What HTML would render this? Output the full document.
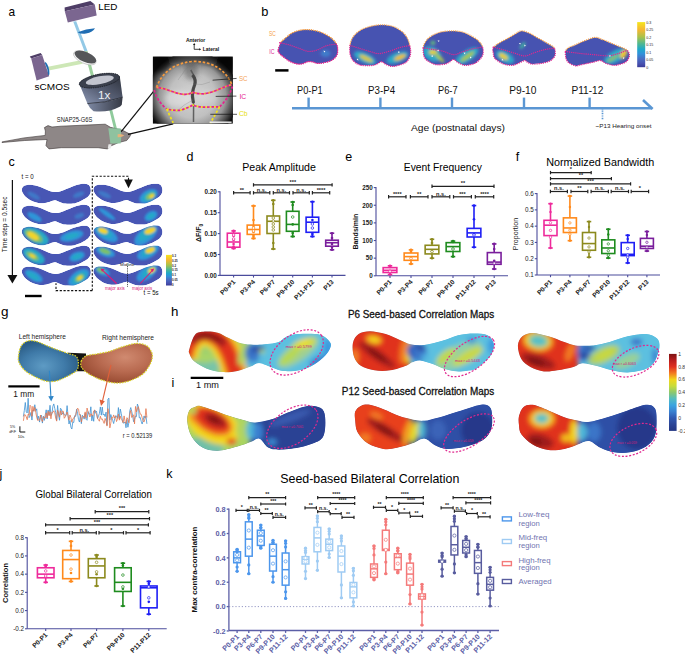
<!DOCTYPE html>
<html><head><meta charset="utf-8"><style>
html,body{margin:0;padding:0;background:#fff;width:685px;height:658px;overflow:hidden;}
svg{display:block;}
</style></head><body>
<svg width="685" height="658" viewBox="0 0 685 658">
<rect width="685" height="658" fill="#fff"/>
<defs><filter id="blur2" x="-20%" y="-20%" width="140%" height="140%"><feGaussianBlur stdDeviation="1.6"/></filter><filter id="blur15" x="-20%" y="-20%" width="140%" height="140%"><feGaussianBlur stdDeviation="1.3"/></filter><filter id="blur3" x="-20%" y="-20%" width="140%" height="140%"><feGaussianBlur stdDeviation="2.6"/></filter></defs>
<text x="8.60" y="15.90" font-size="13" fill="#000" text-anchor="start" font-weight="normal" font-family='"Liberation Sans", sans-serif' textLength="6.60" lengthAdjust="spacingAndGlyphs">a</text>
<polygon points="73.2,21.5 76.2,21.2 87.5,51 84.5,51.5" fill="#93c9e6"/>
<polygon points="84.5,51.5 87.5,51 94,76 91,76.5" fill="#9dd19e"/>
<polygon points="48,66.8 82,60 82.6,63.8 48.6,70.4" fill="#cde7b6"/>
<polygon points="108.8,108 111.6,107.6 117.6,131.5 114.8,132" fill="#8fcb9c"/>
<path d="M77.6,32.3 Q86,28.6 95,28.3 Q93,32.2 86,33.6 Q81,34.4 77.6,32.3Z" fill="#1f6db3"/>
<polygon points="64.6,7.6 90.4,1.0 94.8,4.6 64.8,11.2" fill="#4f3e67"/>
<polygon points="64.8,11.2 94.8,4.6 96.7,15.4 67.8,22.4" fill="#7b6690"/>
<text x="98.20" y="10.10" font-size="9.6" fill="#000" text-anchor="start" font-weight="normal" font-family='"Liberation Sans", sans-serif' textLength="19.20" lengthAdjust="spacingAndGlyphs">LED</text>
<polygon points="29.8,56.6 40.6,53.0 42.2,55.0 31.2,58.6" fill="#4f3e67"/>
<polygon points="31.2,58.6 42.2,55.0 49.2,76.2 36.6,80.4" fill="#7b6690"/>
<path d="M45.6,62 Q49.6,66 49.4,74.6 L48.2,75.2 Q47.6,68 44.8,63Z" fill="#1f6db3"/>
<text x="34.60" y="89.70" font-size="9.6" fill="#000" text-anchor="start" font-weight="normal" font-family='"Liberation Sans", sans-serif' textLength="35.00" lengthAdjust="spacingAndGlyphs">sCMOS</text>
<ellipse cx="84.8" cy="57.8" rx="12.2" ry="5.6" transform="rotate(24 84.8 57.8)" fill="#f4f4f4" stroke="#999" stroke-width="0.4"/>
<ellipse cx="85.4" cy="57.0" rx="11.6" ry="5.0" transform="rotate(24 85.4 57.0)" fill="#555659"/>
<defs><linearGradient id="objg" x1="0" x2="1" y1="1" y2="0"><stop offset="0" stop-color="#8f9bb8"/><stop offset="0.45" stop-color="#5a6278"/><stop offset="1" stop-color="#2e323c"/></linearGradient><linearGradient id="objg2" x1="0" x2="1" y1="0" y2="0"><stop offset="0" stop-color="#7d88a3"/><stop offset="1" stop-color="#353944"/></linearGradient></defs>
<path d="M79,83 L87.4,103.6 Q105,103.2 122.6,97.2 L119.8,76.4 Z" fill="url(#objg)"/>
<path d="M87.4,103.6 Q89.5,108.6 93.6,111.2 Q108,113 120.2,106.4 L121.8,104.8 L122.6,97.2 Q105,103.2 87.4,103.6Z" fill="url(#objg2)"/>
<path d="M87.4,103.6 Q105,103.2 122.6,97.2" fill="none" stroke="#262a33" stroke-width="0.8"/>
<ellipse cx="99.4" cy="80.6" rx="20.6" ry="6.6" transform="rotate(-11 99.4 80.6)" fill="#3b404d"/>
<ellipse cx="99.8" cy="80.2" rx="14.2" ry="3.9" transform="rotate(-11 99.8 80.2)" fill="#c3c5cf"/>
<ellipse cx="99.4" cy="80.6" rx="20.4" ry="6.4" transform="rotate(-11 99.4 80.6)" fill="none" stroke="#15181e" stroke-width="0.7" stroke-dasharray="1.3,0.9"/>
<text x="97.90" y="99.30" font-size="11.0" fill="#eef0f4" text-anchor="start" font-weight="normal" font-family='"Liberation Sans", sans-serif' textLength="12.40" lengthAdjust="spacingAndGlyphs">1x</text>
<text x="56.80" y="121.50" font-size="6.4" fill="#222" text-anchor="start" font-weight="normal" font-family='"Liberation Sans", sans-serif' textLength="35.50" lengthAdjust="spacingAndGlyphs">SNAP25-G6S</text>
<path d="M2,141.9 Q24,137.2 45.2,135.4 L45.4,131 L44.4,127.6 L48,125.6 L52,127 L61,126.2 L92,124.8 L105.2,124.2 L110.4,127.3 L122.6,130.3 L130.8,134.6 L129.5,137 L126.7,140.5 L118.5,142.6 L111.4,145.7 L107.3,148.9 L98.1,147.7 L61.3,147.7 L49,148.9 L46,145.7 L47,139.5 Q25,140 2,142.5 Z" fill="#8e8787" stroke="#3a3434" stroke-width="0.6"/>
<path d="M108.3,128.3 L120.6,128.3 L121.4,136 L120.6,143.6 L110.4,143.6Z" fill="#8fc9a2" opacity="0.9"/>
<path d="M108.5,144.2 L111.6,144.2 L110.6,148.4 L107.8,148.6Z" fill="#e8e8e8"/>
<path d="M117.6,134.2 Q121.6,133.2 124.4,135.6 Q121.4,137.6 117.6,137.2Z" fill="#e7b27a"/>
<line x1="121.20" y1="131.60" x2="154.20" y2="90.60" stroke="#111" stroke-width="1.2"/>
<line x1="128.00" y1="134.40" x2="173.20" y2="123.80" stroke="#111" stroke-width="1.2"/>
<defs><radialGradient id="bphoto" cx="0.5" cy="0.5" r="0.5"><stop offset="0" stop-color="#d4d4d4"/><stop offset="0.5" stop-color="#c0c0c0"/><stop offset="0.72" stop-color="#989898"/><stop offset="0.88" stop-color="#4a4a4a"/><stop offset="1" stop-color="#0d0d0d"/></radialGradient><clipPath id="bpclip"><rect x="152.9" y="56.6" width="79.9" height="67.0"/></clipPath></defs>
<rect x="152.90" y="56.60" width="79.90" height="67.00" fill="#0d0d0d" stroke="none" stroke-width="1"/>
<g clip-path="url(#bpclip)">
<ellipse cx="192.5" cy="96" rx="46" ry="44" fill="url(#bphoto)"/>
<g filter="url(#blur3)"><ellipse cx="178" cy="99" rx="14" ry="8" fill="#fff" opacity="0.3"/><ellipse cx="207" cy="97" rx="10" ry="7" fill="#fff" opacity="0.18"/><ellipse cx="191" cy="71" rx="7" ry="9" fill="#444" opacity="0.45"/><ellipse cx="193" cy="60" rx="40" ry="5" fill="#222" opacity="0.35"/><ellipse cx="160" cy="64" rx="10" ry="8" fill="#000" opacity="0.5"/><ellipse cx="226" cy="64" rx="10" ry="8" fill="#000" opacity="0.5"/></g>
<path d="M190.8,70 C194,75 196,80 194.6,85 C192.6,90 191.8,95 193,100 L193.6,104 L193.5,122" fill="none" stroke="#555" stroke-width="1.5" opacity="0.9"/>
<path d="M192.5,75 C195,78 196,81 194.6,85 C192.6,90 191.8,95 193,100 L193.5,103" fill="none" stroke="#454545" stroke-width="3.2" opacity="0.95"/>
<path d="M193,62 Q184,70 178,80 M194,84 Q202,86 210,82 M193,100 Q184,104 176,112" fill="none" stroke="#777" stroke-width="0.6" opacity="0.45"/>
</g>
<path d="M156.4,87.6 Q165,64 193.6,61.3 Q222,62 231.6,84" stroke="#f59a3e" fill="none" stroke-width="1.7" stroke-dasharray="2.6,1.8"/>
<path d="M156.4,87.4 C166,88 177,94.6 185.2,94.4 Q189.5,94 192.8,92.4 Q197.5,93.8 203.2,93.8 C214,93 224,86 231.6,84.8" stroke="#f59a3e" fill="none" stroke-width="1.7" stroke-dasharray="2.6,1.8"/>
<path d="M156.4,87.4 C166,88 177,94.6 185.2,94.4 Q189.5,94 192.8,92.4 Q197.5,93.8 203.2,93.8 C214,93 224,86 231.6,84.8" stroke="#e5218f" fill="none" stroke-width="1.7" stroke-dasharray="2.6,1.8" stroke-dashoffset="2.2"/>
<path d="M154.2,90 Q157,101 166.6,109 M219.6,106.8 Q229,98 232.4,86.4" stroke="#e5218f" fill="none" stroke-width="1.7" stroke-dasharray="2.6,1.8"/>
<path d="M166.6,109 Q173,110.6 179.7,110.4 Q187,108.5 192.8,105 Q198,107 203.2,107.1 L219.6,106.8" stroke="#f2e21a" fill="none" stroke-width="1.7" stroke-dasharray="2.6,1.8"/>
<path d="M166.6,109 Q173,110.6 179.7,110.4 Q187,108.5 192.8,105 Q198,107 203.2,107.1 L219.6,106.8" stroke="#e5218f" fill="none" stroke-width="1.7" stroke-dasharray="2.6,1.8" stroke-dashoffset="2.2"/>
<path d="M166.6,109 L173.2,122.8 M219.6,106.8 L210.4,123" stroke="#f2e21a" fill="none" stroke-width="1.7" stroke-dasharray="2.6,1.8"/>
<line x1="209.60" y1="122.20" x2="231.60" y2="122.20" stroke="#f4f4f4" stroke-width="1.4"/>
<line x1="212.60" y1="80.20" x2="236.60" y2="78.40" stroke="#111" stroke-width="0.7"/>
<line x1="215.70" y1="96.40" x2="236.40" y2="96.10" stroke="#111" stroke-width="0.7"/>
<line x1="210.30" y1="114.30" x2="237.00" y2="114.30" stroke="#111" stroke-width="0.7"/>
<text x="239.00" y="80.60" font-size="7.6" fill="#f5a55a" text-anchor="start" font-weight="normal" font-family='"Liberation Sans", sans-serif' textLength="8.60" lengthAdjust="spacingAndGlyphs">SC</text>
<text x="239.40" y="98.60" font-size="7.6" fill="#e5218f" text-anchor="start" font-weight="normal" font-family='"Liberation Sans", sans-serif' textLength="6.80" lengthAdjust="spacingAndGlyphs">IC</text>
<text x="239.00" y="116.20" font-size="7.6" fill="#e6de12" text-anchor="start" font-weight="normal" font-family='"Liberation Sans", sans-serif' textLength="8.60" lengthAdjust="spacingAndGlyphs">Cb</text>
<text x="185.90" y="41.60" font-size="5.8" fill="#111" text-anchor="start" font-weight="bold" font-family='"Liberation Sans", sans-serif' textLength="19.40" lengthAdjust="spacingAndGlyphs">Anterior</text>
<text x="202.70" y="50.80" font-size="5.8" fill="#111" text-anchor="start" font-weight="bold" font-family='"Liberation Sans", sans-serif' textLength="16.40" lengthAdjust="spacingAndGlyphs">Lateral</text>
<path d="M194.2,49.3 L194.2,44.6 M199.6,49.3 L194.2,49.3" stroke="#111" stroke-width="0.8" fill="none"/>
<path d="M193.0,45.0 L194.2,42.9 L195.4,45.0Z M199.2,48.2 L201.2,49.3 L199.2,50.4Z" fill="#111"/>
<text x="261.30" y="15.70" font-size="12.8" fill="#000" text-anchor="start" font-weight="normal" font-family='"Liberation Sans", sans-serif'>b</text>
<text x="268.90" y="35.60" font-size="6.4" fill="#f5a04a" text-anchor="start" font-weight="normal" font-family='"Liberation Sans", sans-serif' textLength="6.80" lengthAdjust="spacingAndGlyphs">SC</text>
<text x="269.30" y="53.60" font-size="6.4" fill="#e0288f" text-anchor="start" font-weight="normal" font-family='"Liberation Sans", sans-serif' textLength="5.20" lengthAdjust="spacingAndGlyphs">IC</text>
<line x1="275.20" y1="70.40" x2="288.50" y2="70.40" stroke="#000" stroke-width="2.5"/>
<defs><clipPath id="bb1"><path d="M278.40,49.50 C278.73,47.87 279.83,44.40 280.90,42.60 C281.97,40.80 282.85,40.33 284.80,38.70 C286.75,37.07 289.67,34.27 292.60,32.80 C295.53,31.33 299.13,30.35 302.40,29.90 C305.67,29.45 308.93,29.62 312.20,30.10 C315.47,30.58 318.90,31.53 322.00,32.80 C325.10,34.07 328.43,35.90 330.80,37.70 C333.17,39.50 335.07,41.63 336.20,43.60 C337.33,45.57 337.53,47.53 337.60,49.50 C337.67,51.47 337.57,53.62 336.60,55.40 C335.63,57.18 333.92,58.98 331.80,60.20 C329.68,61.42 326.35,62.20 323.90,62.70 C321.45,63.20 319.05,63.37 317.10,63.20 C315.15,63.03 313.83,61.95 312.20,61.70 C310.57,61.45 308.93,61.37 307.30,61.70 C305.67,62.03 304.20,63.37 302.40,63.70 C300.60,64.03 298.62,64.12 296.50,63.70 C294.38,63.28 291.98,62.43 289.70,61.20 C287.42,59.97 284.60,57.77 282.80,56.30 C281.00,54.83 279.63,53.53 278.90,52.40 C278.17,51.27 278.07,51.13 278.40,49.50Z"/></clipPath></defs>
<g clip-path="url(#bb1)">
<path d="M278.40,49.50 C278.73,47.87 279.83,44.40 280.90,42.60 C281.97,40.80 282.85,40.33 284.80,38.70 C286.75,37.07 289.67,34.27 292.60,32.80 C295.53,31.33 299.13,30.35 302.40,29.90 C305.67,29.45 308.93,29.62 312.20,30.10 C315.47,30.58 318.90,31.53 322.00,32.80 C325.10,34.07 328.43,35.90 330.80,37.70 C333.17,39.50 335.07,41.63 336.20,43.60 C337.33,45.57 337.53,47.53 337.60,49.50 C337.67,51.47 337.57,53.62 336.60,55.40 C335.63,57.18 333.92,58.98 331.80,60.20 C329.68,61.42 326.35,62.20 323.90,62.70 C321.45,63.20 319.05,63.37 317.10,63.20 C315.15,63.03 313.83,61.95 312.20,61.70 C310.57,61.45 308.93,61.37 307.30,61.70 C305.67,62.03 304.20,63.37 302.40,63.70 C300.60,64.03 298.62,64.12 296.50,63.70 C294.38,63.28 291.98,62.43 289.70,61.20 C287.42,59.97 284.60,57.77 282.80,56.30 C281.00,54.83 279.63,53.53 278.90,52.40 C278.17,51.27 278.07,51.13 278.40,49.50Z" fill="#4753b1"/>
<g filter="url(#blur2)">
<ellipse cx="326.9" cy="53" rx="5.5" ry="5" fill="#3d95d8" opacity="0.85"/>
</g></g>
<defs><clipPath id="bb1u"><polygon points="279.90,42.60 289.70,45.10 299.50,48.50 308.30,51.40 317.10,50.00 326.90,45.60 336.20,44.10 342.60,44.10 342.60,24.90 273.40,24.90 273.40,42.60"/></clipPath><clipPath id="bb1d"><polygon points="279.90,42.60 289.70,45.10 299.50,48.50 308.30,51.40 317.10,50.00 326.90,45.60 336.20,44.10 342.60,44.10 342.60,68.70 273.40,68.70 273.40,42.60"/></clipPath></defs>
<path d="M278.40,49.50 C278.73,47.87 279.83,44.40 280.90,42.60 C281.97,40.80 282.85,40.33 284.80,38.70 C286.75,37.07 289.67,34.27 292.60,32.80 C295.53,31.33 299.13,30.35 302.40,29.90 C305.67,29.45 308.93,29.62 312.20,30.10 C315.47,30.58 318.90,31.53 322.00,32.80 C325.10,34.07 328.43,35.90 330.80,37.70 C333.17,39.50 335.07,41.63 336.20,43.60 C337.33,45.57 337.53,47.53 337.60,49.50 C337.67,51.47 337.57,53.62 336.60,55.40 C335.63,57.18 333.92,58.98 331.80,60.20 C329.68,61.42 326.35,62.20 323.90,62.70 C321.45,63.20 319.05,63.37 317.10,63.20 C315.15,63.03 313.83,61.95 312.20,61.70 C310.57,61.45 308.93,61.37 307.30,61.70 C305.67,62.03 304.20,63.37 302.40,63.70 C300.60,64.03 298.62,64.12 296.50,63.70 C294.38,63.28 291.98,62.43 289.70,61.20 C287.42,59.97 284.60,57.77 282.80,56.30 C281.00,54.83 279.63,53.53 278.90,52.40 C278.17,51.27 278.07,51.13 278.40,49.50Z" fill="none" stroke="#f5a04a" stroke-width="1.35" stroke-linecap="round" stroke-dasharray="0.1,2.0" clip-path="url(#bb1u)"/>
<path d="M278.40,49.50 C278.73,47.87 279.83,44.40 280.90,42.60 C281.97,40.80 282.85,40.33 284.80,38.70 C286.75,37.07 289.67,34.27 292.60,32.80 C295.53,31.33 299.13,30.35 302.40,29.90 C305.67,29.45 308.93,29.62 312.20,30.10 C315.47,30.58 318.90,31.53 322.00,32.80 C325.10,34.07 328.43,35.90 330.80,37.70 C333.17,39.50 335.07,41.63 336.20,43.60 C337.33,45.57 337.53,47.53 337.60,49.50 C337.67,51.47 337.57,53.62 336.60,55.40 C335.63,57.18 333.92,58.98 331.80,60.20 C329.68,61.42 326.35,62.20 323.90,62.70 C321.45,63.20 319.05,63.37 317.10,63.20 C315.15,63.03 313.83,61.95 312.20,61.70 C310.57,61.45 308.93,61.37 307.30,61.70 C305.67,62.03 304.20,63.37 302.40,63.70 C300.60,64.03 298.62,64.12 296.50,63.70 C294.38,63.28 291.98,62.43 289.70,61.20 C287.42,59.97 284.60,57.77 282.80,56.30 C281.00,54.83 279.63,53.53 278.90,52.40 C278.17,51.27 278.07,51.13 278.40,49.50Z" fill="none" stroke="#e0288f" stroke-width="1.35" stroke-linecap="round" stroke-dasharray="0.1,2.0" clip-path="url(#bb1d)"/>
<path d="M279.90,42.60 C281.53,43.02 286.43,44.12 289.70,45.10 C292.97,46.08 296.40,47.45 299.50,48.50 C302.60,49.55 305.37,51.15 308.30,51.40 C311.23,51.65 314.00,50.97 317.10,50.00 C320.20,49.03 323.72,46.58 326.90,45.60 C330.08,44.62 334.65,44.35 336.20,44.10" fill="none" stroke="#e0288f" stroke-width="1.3" stroke-linecap="round" stroke-dasharray="0.1,2.0"/>
<path d="M325,50 l1.88,0.68 l-1.20,1.20Z" fill="#fff"/>
<defs><clipPath id="bb1"><path d="M278.40,49.50 C278.73,47.87 279.83,44.40 280.90,42.60 C281.97,40.80 282.85,40.33 284.80,38.70 C286.75,37.07 289.67,34.27 292.60,32.80 C295.53,31.33 299.13,30.35 302.40,29.90 C305.67,29.45 308.93,29.62 312.20,30.10 C315.47,30.58 318.90,31.53 322.00,32.80 C325.10,34.07 328.43,35.90 330.80,37.70 C333.17,39.50 335.07,41.63 336.20,43.60 C337.33,45.57 337.53,47.53 337.60,49.50 C337.67,51.47 337.57,53.62 336.60,55.40 C335.63,57.18 333.92,58.98 331.80,60.20 C329.68,61.42 326.35,62.20 323.90,62.70 C321.45,63.20 319.05,63.37 317.10,63.20 C315.15,63.03 313.83,61.95 312.20,61.70 C310.57,61.45 308.93,61.37 307.30,61.70 C305.67,62.03 304.20,63.37 302.40,63.70 C300.60,64.03 298.62,64.12 296.50,63.70 C294.38,63.28 291.98,62.43 289.70,61.20 C287.42,59.97 284.60,57.77 282.80,56.30 C281.00,54.83 279.63,53.53 278.90,52.40 C278.17,51.27 278.07,51.13 278.40,49.50Z"/></clipPath></defs>
<g clip-path="url(#bb1)">
<path d="M278.40,49.50 C278.73,47.87 279.83,44.40 280.90,42.60 C281.97,40.80 282.85,40.33 284.80,38.70 C286.75,37.07 289.67,34.27 292.60,32.80 C295.53,31.33 299.13,30.35 302.40,29.90 C305.67,29.45 308.93,29.62 312.20,30.10 C315.47,30.58 318.90,31.53 322.00,32.80 C325.10,34.07 328.43,35.90 330.80,37.70 C333.17,39.50 335.07,41.63 336.20,43.60 C337.33,45.57 337.53,47.53 337.60,49.50 C337.67,51.47 337.57,53.62 336.60,55.40 C335.63,57.18 333.92,58.98 331.80,60.20 C329.68,61.42 326.35,62.20 323.90,62.70 C321.45,63.20 319.05,63.37 317.10,63.20 C315.15,63.03 313.83,61.95 312.20,61.70 C310.57,61.45 308.93,61.37 307.30,61.70 C305.67,62.03 304.20,63.37 302.40,63.70 C300.60,64.03 298.62,64.12 296.50,63.70 C294.38,63.28 291.98,62.43 289.70,61.20 C287.42,59.97 284.60,57.77 282.80,56.30 C281.00,54.83 279.63,53.53 278.90,52.40 C278.17,51.27 278.07,51.13 278.40,49.50Z" fill="#4753b1"/>
<g filter="url(#blur2)">
<ellipse cx="325.5" cy="53.5" rx="5" ry="3.5" fill="#3d8fd6" opacity="0.7"/>
</g></g>
<defs><clipPath id="bb1u"><polygon points="279.90,42.60 289.70,45.10 299.50,48.50 308.30,51.40 317.10,50.00 326.90,45.60 336.20,44.10 342.60,44.10 342.60,24.90 273.40,24.90 273.40,42.60"/></clipPath><clipPath id="bb1d"><polygon points="279.90,42.60 289.70,45.10 299.50,48.50 308.30,51.40 317.10,50.00 326.90,45.60 336.20,44.10 342.60,44.10 342.60,68.70 273.40,68.70 273.40,42.60"/></clipPath></defs>
<path d="M278.40,49.50 C278.73,47.87 279.83,44.40 280.90,42.60 C281.97,40.80 282.85,40.33 284.80,38.70 C286.75,37.07 289.67,34.27 292.60,32.80 C295.53,31.33 299.13,30.35 302.40,29.90 C305.67,29.45 308.93,29.62 312.20,30.10 C315.47,30.58 318.90,31.53 322.00,32.80 C325.10,34.07 328.43,35.90 330.80,37.70 C333.17,39.50 335.07,41.63 336.20,43.60 C337.33,45.57 337.53,47.53 337.60,49.50 C337.67,51.47 337.57,53.62 336.60,55.40 C335.63,57.18 333.92,58.98 331.80,60.20 C329.68,61.42 326.35,62.20 323.90,62.70 C321.45,63.20 319.05,63.37 317.10,63.20 C315.15,63.03 313.83,61.95 312.20,61.70 C310.57,61.45 308.93,61.37 307.30,61.70 C305.67,62.03 304.20,63.37 302.40,63.70 C300.60,64.03 298.62,64.12 296.50,63.70 C294.38,63.28 291.98,62.43 289.70,61.20 C287.42,59.97 284.60,57.77 282.80,56.30 C281.00,54.83 279.63,53.53 278.90,52.40 C278.17,51.27 278.07,51.13 278.40,49.50Z" fill="none" stroke="#f5a04a" stroke-width="1.35" stroke-linecap="round" stroke-dasharray="0.1,2.0" clip-path="url(#bb1u)"/>
<path d="M278.40,49.50 C278.73,47.87 279.83,44.40 280.90,42.60 C281.97,40.80 282.85,40.33 284.80,38.70 C286.75,37.07 289.67,34.27 292.60,32.80 C295.53,31.33 299.13,30.35 302.40,29.90 C305.67,29.45 308.93,29.62 312.20,30.10 C315.47,30.58 318.90,31.53 322.00,32.80 C325.10,34.07 328.43,35.90 330.80,37.70 C333.17,39.50 335.07,41.63 336.20,43.60 C337.33,45.57 337.53,47.53 337.60,49.50 C337.67,51.47 337.57,53.62 336.60,55.40 C335.63,57.18 333.92,58.98 331.80,60.20 C329.68,61.42 326.35,62.20 323.90,62.70 C321.45,63.20 319.05,63.37 317.10,63.20 C315.15,63.03 313.83,61.95 312.20,61.70 C310.57,61.45 308.93,61.37 307.30,61.70 C305.67,62.03 304.20,63.37 302.40,63.70 C300.60,64.03 298.62,64.12 296.50,63.70 C294.38,63.28 291.98,62.43 289.70,61.20 C287.42,59.97 284.60,57.77 282.80,56.30 C281.00,54.83 279.63,53.53 278.90,52.40 C278.17,51.27 278.07,51.13 278.40,49.50Z" fill="none" stroke="#e0288f" stroke-width="1.35" stroke-linecap="round" stroke-dasharray="0.1,2.0" clip-path="url(#bb1d)"/>
<path d="M279.90,42.60 C281.53,43.02 286.43,44.12 289.70,45.10 C292.97,46.08 296.40,47.45 299.50,48.50 C302.60,49.55 305.37,51.15 308.30,51.40 C311.23,51.65 314.00,50.97 317.10,50.00 C320.20,49.03 323.72,46.58 326.90,45.60 C330.08,44.62 334.65,44.35 336.20,44.10" fill="none" stroke="#e0288f" stroke-width="1.3" stroke-linecap="round" stroke-dasharray="0.1,2.0"/>
<path d="M323.5,50.5 l1.88,0.68 l-1.20,1.20Z" fill="#fff"/>
<defs><clipPath id="bb2"><path d="M350.00,45.40 C350.47,42.45 351.33,39.48 353.00,37.00 C354.67,34.52 357.17,32.25 360.00,30.50 C362.83,28.75 366.42,27.45 370.00,26.50 C373.58,25.55 377.67,24.80 381.50,24.80 C385.33,24.80 389.50,25.30 393.00,26.50 C396.50,27.70 400.08,30.00 402.50,32.00 C404.92,34.00 406.28,36.27 407.50,38.50 C408.72,40.73 409.27,43.08 409.80,45.40 C410.33,47.72 410.83,50.22 410.70,52.40 C410.57,54.58 410.03,56.70 409.00,58.50 C407.97,60.30 407.13,61.88 404.50,63.20 C401.87,64.52 396.28,66.18 393.20,66.40 C390.12,66.62 387.95,65.28 386.00,64.50 C384.05,63.72 383.17,61.70 381.50,61.70 C379.83,61.70 377.95,63.85 376.00,64.50 C374.05,65.15 372.47,65.52 369.80,65.60 C367.13,65.68 362.72,65.77 360.00,65.00 C357.28,64.23 355.13,62.72 353.50,61.00 C351.87,59.28 350.78,57.30 350.20,54.70 C349.62,52.10 349.53,48.35 350.00,45.40Z"/></clipPath></defs>
<g clip-path="url(#bb2)">
<path d="M350.00,45.40 C350.47,42.45 351.33,39.48 353.00,37.00 C354.67,34.52 357.17,32.25 360.00,30.50 C362.83,28.75 366.42,27.45 370.00,26.50 C373.58,25.55 377.67,24.80 381.50,24.80 C385.33,24.80 389.50,25.30 393.00,26.50 C396.50,27.70 400.08,30.00 402.50,32.00 C404.92,34.00 406.28,36.27 407.50,38.50 C408.72,40.73 409.27,43.08 409.80,45.40 C410.33,47.72 410.83,50.22 410.70,52.40 C410.57,54.58 410.03,56.70 409.00,58.50 C407.97,60.30 407.13,61.88 404.50,63.20 C401.87,64.52 396.28,66.18 393.20,66.40 C390.12,66.62 387.95,65.28 386.00,64.50 C384.05,63.72 383.17,61.70 381.50,61.70 C379.83,61.70 377.95,63.85 376.00,64.50 C374.05,65.15 372.47,65.52 369.80,65.60 C367.13,65.68 362.72,65.77 360.00,65.00 C357.28,64.23 355.13,62.72 353.50,61.00 C351.87,59.28 350.78,57.30 350.20,54.70 C349.62,52.10 349.53,48.35 350.00,45.40Z" fill="#4753b1"/>
<g filter="url(#blur2)">
<ellipse cx="365" cy="58" rx="12" ry="5" transform="rotate(25 365 58)" fill="#2aa8c8"/>
<ellipse cx="366" cy="58.4" rx="7.5" ry="2.2" transform="rotate(25 366 58.4)" fill="#d8c83a"/>
<ellipse cx="397.5" cy="57.5" rx="11.5" ry="5" transform="rotate(-22 397.5 57.5)" fill="#2aa8c8"/>
<ellipse cx="400" cy="57.4" rx="6.5" ry="2.2" transform="rotate(-22 400 57.4)" fill="#f0c02a"/>
</g></g>
<defs><clipPath id="bb2u"><polygon points="350.00,45.40 360.00,48.50 370.00,51.50 379.20,53.60 390.00,51.00 400.00,47.50 409.80,45.40 415.70,45.40 415.70,19.80 345.00,19.80 345.00,45.40"/></clipPath><clipPath id="bb2d"><polygon points="350.00,45.40 360.00,48.50 370.00,51.50 379.20,53.60 390.00,51.00 400.00,47.50 409.80,45.40 415.70,45.40 415.70,71.40 345.00,71.40 345.00,45.40"/></clipPath></defs>
<path d="M350.00,45.40 C350.47,42.45 351.33,39.48 353.00,37.00 C354.67,34.52 357.17,32.25 360.00,30.50 C362.83,28.75 366.42,27.45 370.00,26.50 C373.58,25.55 377.67,24.80 381.50,24.80 C385.33,24.80 389.50,25.30 393.00,26.50 C396.50,27.70 400.08,30.00 402.50,32.00 C404.92,34.00 406.28,36.27 407.50,38.50 C408.72,40.73 409.27,43.08 409.80,45.40 C410.33,47.72 410.83,50.22 410.70,52.40 C410.57,54.58 410.03,56.70 409.00,58.50 C407.97,60.30 407.13,61.88 404.50,63.20 C401.87,64.52 396.28,66.18 393.20,66.40 C390.12,66.62 387.95,65.28 386.00,64.50 C384.05,63.72 383.17,61.70 381.50,61.70 C379.83,61.70 377.95,63.85 376.00,64.50 C374.05,65.15 372.47,65.52 369.80,65.60 C367.13,65.68 362.72,65.77 360.00,65.00 C357.28,64.23 355.13,62.72 353.50,61.00 C351.87,59.28 350.78,57.30 350.20,54.70 C349.62,52.10 349.53,48.35 350.00,45.40Z" fill="none" stroke="#f5a04a" stroke-width="1.35" stroke-linecap="round" stroke-dasharray="0.1,2.0" clip-path="url(#bb2u)"/>
<path d="M350.00,45.40 C350.47,42.45 351.33,39.48 353.00,37.00 C354.67,34.52 357.17,32.25 360.00,30.50 C362.83,28.75 366.42,27.45 370.00,26.50 C373.58,25.55 377.67,24.80 381.50,24.80 C385.33,24.80 389.50,25.30 393.00,26.50 C396.50,27.70 400.08,30.00 402.50,32.00 C404.92,34.00 406.28,36.27 407.50,38.50 C408.72,40.73 409.27,43.08 409.80,45.40 C410.33,47.72 410.83,50.22 410.70,52.40 C410.57,54.58 410.03,56.70 409.00,58.50 C407.97,60.30 407.13,61.88 404.50,63.20 C401.87,64.52 396.28,66.18 393.20,66.40 C390.12,66.62 387.95,65.28 386.00,64.50 C384.05,63.72 383.17,61.70 381.50,61.70 C379.83,61.70 377.95,63.85 376.00,64.50 C374.05,65.15 372.47,65.52 369.80,65.60 C367.13,65.68 362.72,65.77 360.00,65.00 C357.28,64.23 355.13,62.72 353.50,61.00 C351.87,59.28 350.78,57.30 350.20,54.70 C349.62,52.10 349.53,48.35 350.00,45.40Z" fill="none" stroke="#e0288f" stroke-width="1.35" stroke-linecap="round" stroke-dasharray="0.1,2.0" clip-path="url(#bb2d)"/>
<path d="M350.00,45.40 C351.67,45.92 356.67,47.48 360.00,48.50 C363.33,49.52 366.80,50.65 370.00,51.50 C373.20,52.35 375.87,53.68 379.20,53.60 C382.53,53.52 386.53,52.02 390.00,51.00 C393.47,49.98 396.70,48.43 400.00,47.50 C403.30,46.57 408.17,45.75 409.80,45.40" fill="none" stroke="#e0288f" stroke-width="1.3" stroke-linecap="round" stroke-dasharray="0.1,2.0"/>
<path d="M358.5,60.5 l-1.88,-0.68 l1.20,-1.20Z" fill="#fff"/>
<path d="M398,53 l0.68,-1.88 l1.20,1.20Z" fill="#fff"/>
<defs><clipPath id="bb3"><path d="M423.20,47.70 C423.48,45.03 424.63,42.95 426.00,41.00 C427.37,39.05 428.90,37.50 431.40,36.00 C433.90,34.50 437.50,32.85 441.00,32.00 C444.50,31.15 448.73,30.87 452.40,30.90 C456.07,30.93 459.50,31.15 463.00,32.20 C466.50,33.25 470.63,35.57 473.40,37.20 C476.17,38.83 478.03,40.25 479.60,42.00 C481.17,43.75 482.27,45.58 482.80,47.70 C483.33,49.82 483.33,52.72 482.80,54.70 C482.27,56.68 480.78,58.23 479.60,59.60 C478.42,60.97 477.30,62.03 475.70,62.90 C474.10,63.77 471.95,64.42 470.00,64.80 C468.05,65.18 466.00,65.58 464.00,65.20 C462.00,64.82 459.73,63.47 458.00,62.50 C456.27,61.53 455.02,59.48 453.60,59.40 C452.18,59.32 450.87,61.23 449.50,62.00 C448.13,62.77 447.32,63.53 445.40,64.00 C443.48,64.47 439.95,64.80 438.00,64.80 C436.05,64.80 435.37,64.63 433.70,64.00 C432.03,63.37 429.57,62.17 428.00,61.00 C426.43,59.83 425.10,59.22 424.30,57.00 C423.50,54.78 422.92,50.37 423.20,47.70Z"/></clipPath></defs>
<g clip-path="url(#bb3)">
<path d="M423.20,47.70 C423.48,45.03 424.63,42.95 426.00,41.00 C427.37,39.05 428.90,37.50 431.40,36.00 C433.90,34.50 437.50,32.85 441.00,32.00 C444.50,31.15 448.73,30.87 452.40,30.90 C456.07,30.93 459.50,31.15 463.00,32.20 C466.50,33.25 470.63,35.57 473.40,37.20 C476.17,38.83 478.03,40.25 479.60,42.00 C481.17,43.75 482.27,45.58 482.80,47.70 C483.33,49.82 483.33,52.72 482.80,54.70 C482.27,56.68 480.78,58.23 479.60,59.60 C478.42,60.97 477.30,62.03 475.70,62.90 C474.10,63.77 471.95,64.42 470.00,64.80 C468.05,65.18 466.00,65.58 464.00,65.20 C462.00,64.82 459.73,63.47 458.00,62.50 C456.27,61.53 455.02,59.48 453.60,59.40 C452.18,59.32 450.87,61.23 449.50,62.00 C448.13,62.77 447.32,63.53 445.40,64.00 C443.48,64.47 439.95,64.80 438.00,64.80 C436.05,64.80 435.37,64.63 433.70,64.00 C432.03,63.37 429.57,62.17 428.00,61.00 C426.43,59.83 425.10,59.22 424.30,57.00 C423.50,54.78 422.92,50.37 423.20,47.70Z" fill="#4753b1"/>
<g filter="url(#blur2)">
<ellipse cx="432" cy="54" rx="10" ry="6.5" transform="rotate(30 432 54)" fill="#2aa8c8"/>
<ellipse cx="432.9" cy="52.3" rx="4" ry="2.4" fill="#e8d02a"/>
<ellipse cx="439.5" cy="57.8" rx="6.5" ry="1.8" transform="rotate(45 439.5 57.8)" fill="#a8c84a"/>
<ellipse cx="432.9" cy="42.9" rx="2.6" ry="2.2" fill="#5fb880"/>
<ellipse cx="467" cy="56" rx="13" ry="5.5" transform="rotate(-33 467 56)" fill="#2aa8c8"/>
<ellipse cx="467.5" cy="56.5" rx="8.5" ry="2.2" transform="rotate(-35 467.5 56.5)" fill="#a8c84a"/>
</g></g>
<defs><clipPath id="bb3u"><polygon points="423.20,47.70 433.00,49.50 443.00,51.20 453.60,54.70 462.00,52.00 472.00,49.00 482.80,47.00 487.80,47.00 487.80,25.90 418.20,25.90 418.20,47.70"/></clipPath><clipPath id="bb3d"><polygon points="423.20,47.70 433.00,49.50 443.00,51.20 453.60,54.70 462.00,52.00 472.00,49.00 482.80,47.00 487.80,47.00 487.80,70.20 418.20,70.20 418.20,47.70"/></clipPath></defs>
<path d="M423.20,47.70 C423.48,45.03 424.63,42.95 426.00,41.00 C427.37,39.05 428.90,37.50 431.40,36.00 C433.90,34.50 437.50,32.85 441.00,32.00 C444.50,31.15 448.73,30.87 452.40,30.90 C456.07,30.93 459.50,31.15 463.00,32.20 C466.50,33.25 470.63,35.57 473.40,37.20 C476.17,38.83 478.03,40.25 479.60,42.00 C481.17,43.75 482.27,45.58 482.80,47.70 C483.33,49.82 483.33,52.72 482.80,54.70 C482.27,56.68 480.78,58.23 479.60,59.60 C478.42,60.97 477.30,62.03 475.70,62.90 C474.10,63.77 471.95,64.42 470.00,64.80 C468.05,65.18 466.00,65.58 464.00,65.20 C462.00,64.82 459.73,63.47 458.00,62.50 C456.27,61.53 455.02,59.48 453.60,59.40 C452.18,59.32 450.87,61.23 449.50,62.00 C448.13,62.77 447.32,63.53 445.40,64.00 C443.48,64.47 439.95,64.80 438.00,64.80 C436.05,64.80 435.37,64.63 433.70,64.00 C432.03,63.37 429.57,62.17 428.00,61.00 C426.43,59.83 425.10,59.22 424.30,57.00 C423.50,54.78 422.92,50.37 423.20,47.70Z" fill="none" stroke="#f5a04a" stroke-width="1.35" stroke-linecap="round" stroke-dasharray="0.1,2.0" clip-path="url(#bb3u)"/>
<path d="M423.20,47.70 C423.48,45.03 424.63,42.95 426.00,41.00 C427.37,39.05 428.90,37.50 431.40,36.00 C433.90,34.50 437.50,32.85 441.00,32.00 C444.50,31.15 448.73,30.87 452.40,30.90 C456.07,30.93 459.50,31.15 463.00,32.20 C466.50,33.25 470.63,35.57 473.40,37.20 C476.17,38.83 478.03,40.25 479.60,42.00 C481.17,43.75 482.27,45.58 482.80,47.70 C483.33,49.82 483.33,52.72 482.80,54.70 C482.27,56.68 480.78,58.23 479.60,59.60 C478.42,60.97 477.30,62.03 475.70,62.90 C474.10,63.77 471.95,64.42 470.00,64.80 C468.05,65.18 466.00,65.58 464.00,65.20 C462.00,64.82 459.73,63.47 458.00,62.50 C456.27,61.53 455.02,59.48 453.60,59.40 C452.18,59.32 450.87,61.23 449.50,62.00 C448.13,62.77 447.32,63.53 445.40,64.00 C443.48,64.47 439.95,64.80 438.00,64.80 C436.05,64.80 435.37,64.63 433.70,64.00 C432.03,63.37 429.57,62.17 428.00,61.00 C426.43,59.83 425.10,59.22 424.30,57.00 C423.50,54.78 422.92,50.37 423.20,47.70Z" fill="none" stroke="#e0288f" stroke-width="1.35" stroke-linecap="round" stroke-dasharray="0.1,2.0" clip-path="url(#bb3d)"/>
<path d="M423.20,47.70 C424.83,48.00 429.70,48.92 433.00,49.50 C436.30,50.08 439.57,50.33 443.00,51.20 C446.43,52.07 450.43,54.57 453.60,54.70 C456.77,54.83 458.93,52.95 462.00,52.00 C465.07,51.05 468.53,49.83 472.00,49.00 C475.47,48.17 481.00,47.33 482.80,47.00" fill="none" stroke="#e0288f" stroke-width="1.3" stroke-linecap="round" stroke-dasharray="0.1,2.0"/>
<path d="M437,51 l1.41,-1.41 l0.58,1.59Z" fill="#fff"/>
<path d="M433,57 l-1.88,-0.68 l1.20,-1.20Z" fill="#fff"/>
<path d="M463.5,52.5 l1.99,0.17 l-0.85,1.46Z" fill="#fff"/>
<path d="M470,58.6 l0.17,-1.99 l1.46,0.85Z" fill="#fff"/>
<path d="M437.5,40.6 l1.99,-0.17 l-0.58,1.59Z" fill="#fff"/>
<defs><clipPath id="bb4"><path d="M493.30,47.70 C494.42,45.95 497.47,44.12 500.00,42.50 C502.53,40.88 506.00,39.42 508.50,38.00 C511.00,36.58 512.87,35.18 515.00,34.00 C517.13,32.82 518.97,31.07 521.30,30.90 C523.63,30.73 526.47,31.95 529.00,33.00 C531.53,34.05 533.67,35.62 536.50,37.20 C539.33,38.78 543.08,40.75 546.00,42.50 C548.92,44.25 552.47,45.67 554.00,47.70 C555.53,49.73 555.45,52.82 555.20,54.70 C554.95,56.58 553.67,57.83 552.50,59.00 C551.33,60.17 550.28,60.93 548.20,61.70 C546.12,62.47 542.73,63.22 540.00,63.60 C537.27,63.98 533.97,64.27 531.80,64.00 C529.63,63.73 528.17,62.57 527.00,62.00 C525.83,61.43 526.13,60.43 524.80,60.60 C523.47,60.77 520.95,62.23 519.00,63.00 C517.05,63.77 515.43,64.95 513.10,65.20 C510.77,65.45 507.33,65.08 505.00,64.50 C502.67,63.92 500.85,62.78 499.10,61.70 C497.35,60.62 495.47,59.45 494.50,58.00 C493.53,56.55 493.50,54.72 493.30,53.00 C493.10,51.28 492.18,49.45 493.30,47.70Z"/></clipPath></defs>
<g clip-path="url(#bb4)">
<path d="M493.30,47.70 C494.42,45.95 497.47,44.12 500.00,42.50 C502.53,40.88 506.00,39.42 508.50,38.00 C511.00,36.58 512.87,35.18 515.00,34.00 C517.13,32.82 518.97,31.07 521.30,30.90 C523.63,30.73 526.47,31.95 529.00,33.00 C531.53,34.05 533.67,35.62 536.50,37.20 C539.33,38.78 543.08,40.75 546.00,42.50 C548.92,44.25 552.47,45.67 554.00,47.70 C555.53,49.73 555.45,52.82 555.20,54.70 C554.95,56.58 553.67,57.83 552.50,59.00 C551.33,60.17 550.28,60.93 548.20,61.70 C546.12,62.47 542.73,63.22 540.00,63.60 C537.27,63.98 533.97,64.27 531.80,64.00 C529.63,63.73 528.17,62.57 527.00,62.00 C525.83,61.43 526.13,60.43 524.80,60.60 C523.47,60.77 520.95,62.23 519.00,63.00 C517.05,63.77 515.43,64.95 513.10,65.20 C510.77,65.45 507.33,65.08 505.00,64.50 C502.67,63.92 500.85,62.78 499.10,61.70 C497.35,60.62 495.47,59.45 494.50,58.00 C493.53,56.55 493.50,54.72 493.30,53.00 C493.10,51.28 492.18,49.45 493.30,47.70Z" fill="#4753b1"/>
<g filter="url(#blur2)">
<ellipse cx="505" cy="57" rx="10" ry="5.2" transform="rotate(30 505 57)" fill="#2aa8c8"/>
<ellipse cx="503.5" cy="56.5" rx="5" ry="2.4" transform="rotate(30 503.5 56.5)" fill="#e8d02a"/>
<ellipse cx="522.6" cy="45.6" rx="4.2" ry="1.7" transform="rotate(-50 522.6 45.6)" fill="#40b0a0"/>
</g></g>
<defs><clipPath id="bb4u"><polygon points="493.30,47.00 504.00,50.00 514.00,53.00 524.80,55.90 535.00,52.50 545.00,49.50 554.50,48.20 560.20,48.20 560.20,25.90 488.30,25.90 488.30,47.00"/></clipPath><clipPath id="bb4d"><polygon points="493.30,47.00 504.00,50.00 514.00,53.00 524.80,55.90 535.00,52.50 545.00,49.50 554.50,48.20 560.20,48.20 560.20,70.20 488.30,70.20 488.30,47.00"/></clipPath></defs>
<path d="M493.30,47.70 C494.42,45.95 497.47,44.12 500.00,42.50 C502.53,40.88 506.00,39.42 508.50,38.00 C511.00,36.58 512.87,35.18 515.00,34.00 C517.13,32.82 518.97,31.07 521.30,30.90 C523.63,30.73 526.47,31.95 529.00,33.00 C531.53,34.05 533.67,35.62 536.50,37.20 C539.33,38.78 543.08,40.75 546.00,42.50 C548.92,44.25 552.47,45.67 554.00,47.70 C555.53,49.73 555.45,52.82 555.20,54.70 C554.95,56.58 553.67,57.83 552.50,59.00 C551.33,60.17 550.28,60.93 548.20,61.70 C546.12,62.47 542.73,63.22 540.00,63.60 C537.27,63.98 533.97,64.27 531.80,64.00 C529.63,63.73 528.17,62.57 527.00,62.00 C525.83,61.43 526.13,60.43 524.80,60.60 C523.47,60.77 520.95,62.23 519.00,63.00 C517.05,63.77 515.43,64.95 513.10,65.20 C510.77,65.45 507.33,65.08 505.00,64.50 C502.67,63.92 500.85,62.78 499.10,61.70 C497.35,60.62 495.47,59.45 494.50,58.00 C493.53,56.55 493.50,54.72 493.30,53.00 C493.10,51.28 492.18,49.45 493.30,47.70Z" fill="none" stroke="#f5a04a" stroke-width="1.35" stroke-linecap="round" stroke-dasharray="0.1,2.0" clip-path="url(#bb4u)"/>
<path d="M493.30,47.70 C494.42,45.95 497.47,44.12 500.00,42.50 C502.53,40.88 506.00,39.42 508.50,38.00 C511.00,36.58 512.87,35.18 515.00,34.00 C517.13,32.82 518.97,31.07 521.30,30.90 C523.63,30.73 526.47,31.95 529.00,33.00 C531.53,34.05 533.67,35.62 536.50,37.20 C539.33,38.78 543.08,40.75 546.00,42.50 C548.92,44.25 552.47,45.67 554.00,47.70 C555.53,49.73 555.45,52.82 555.20,54.70 C554.95,56.58 553.67,57.83 552.50,59.00 C551.33,60.17 550.28,60.93 548.20,61.70 C546.12,62.47 542.73,63.22 540.00,63.60 C537.27,63.98 533.97,64.27 531.80,64.00 C529.63,63.73 528.17,62.57 527.00,62.00 C525.83,61.43 526.13,60.43 524.80,60.60 C523.47,60.77 520.95,62.23 519.00,63.00 C517.05,63.77 515.43,64.95 513.10,65.20 C510.77,65.45 507.33,65.08 505.00,64.50 C502.67,63.92 500.85,62.78 499.10,61.70 C497.35,60.62 495.47,59.45 494.50,58.00 C493.53,56.55 493.50,54.72 493.30,53.00 C493.10,51.28 492.18,49.45 493.30,47.70Z" fill="none" stroke="#e0288f" stroke-width="1.35" stroke-linecap="round" stroke-dasharray="0.1,2.0" clip-path="url(#bb4d)"/>
<path d="M493.30,47.00 C495.08,47.50 500.55,49.00 504.00,50.00 C507.45,51.00 510.53,52.02 514.00,53.00 C517.47,53.98 521.30,55.98 524.80,55.90 C528.30,55.82 531.63,53.57 535.00,52.50 C538.37,51.43 541.75,50.22 545.00,49.50 C548.25,48.78 552.92,48.42 554.50,48.20" fill="none" stroke="#e0288f" stroke-width="1.3" stroke-linecap="round" stroke-dasharray="0.1,2.0"/>
<path d="M503.5,60.5 l-1.99,-0.17 l0.85,-1.46Z" fill="#fff"/>
<path d="M518.8,43.2 l1.99,-0.17 l-0.58,1.59Z" fill="#fff"/>
<path d="M524.3,44.6 l1.64,1.15 l-1.46,0.85Z" fill="#fff"/>
<defs><clipPath id="bb5"><path d="M565.40,52.00 C565.67,50.07 566.57,49.10 568.00,48.00 C569.43,46.90 571.33,46.57 574.00,45.40 C576.67,44.23 580.53,42.33 584.00,41.00 C587.47,39.67 591.63,37.60 594.80,37.40 C597.97,37.20 600.13,38.78 603.00,39.80 C605.87,40.82 609.17,42.33 612.00,43.50 C614.83,44.67 617.48,45.70 620.00,46.80 C622.52,47.90 625.53,48.77 627.10,50.10 C628.67,51.43 629.25,53.23 629.40,54.80 C629.55,56.37 628.70,58.23 628.00,59.50 C627.30,60.77 626.70,61.55 625.20,62.40 C623.70,63.25 620.90,64.12 619.00,64.60 C617.10,65.08 615.97,65.50 613.80,65.30 C611.63,65.10 608.22,64.20 606.00,63.40 C603.78,62.60 602.50,60.73 600.50,60.50 C598.50,60.27 596.20,61.52 594.00,62.00 C591.80,62.48 589.63,62.90 587.30,63.40 C584.97,63.90 581.90,64.58 580.00,65.00 C578.10,65.42 577.57,66.13 575.90,65.90 C574.23,65.67 571.58,64.65 570.00,63.60 C568.42,62.55 567.17,61.53 566.40,59.60 C565.63,57.67 565.13,53.93 565.40,52.00Z"/></clipPath></defs>
<g clip-path="url(#bb5)">
<path d="M565.40,52.00 C565.67,50.07 566.57,49.10 568.00,48.00 C569.43,46.90 571.33,46.57 574.00,45.40 C576.67,44.23 580.53,42.33 584.00,41.00 C587.47,39.67 591.63,37.60 594.80,37.40 C597.97,37.20 600.13,38.78 603.00,39.80 C605.87,40.82 609.17,42.33 612.00,43.50 C614.83,44.67 617.48,45.70 620.00,46.80 C622.52,47.90 625.53,48.77 627.10,50.10 C628.67,51.43 629.25,53.23 629.40,54.80 C629.55,56.37 628.70,58.23 628.00,59.50 C627.30,60.77 626.70,61.55 625.20,62.40 C623.70,63.25 620.90,64.12 619.00,64.60 C617.10,65.08 615.97,65.50 613.80,65.30 C611.63,65.10 608.22,64.20 606.00,63.40 C603.78,62.60 602.50,60.73 600.50,60.50 C598.50,60.27 596.20,61.52 594.00,62.00 C591.80,62.48 589.63,62.90 587.30,63.40 C584.97,63.90 581.90,64.58 580.00,65.00 C578.10,65.42 577.57,66.13 575.90,65.90 C574.23,65.67 571.58,64.65 570.00,63.60 C568.42,62.55 567.17,61.53 566.40,59.60 C565.63,57.67 565.13,53.93 565.40,52.00Z" fill="#4753b1"/>
<g filter="url(#blur2)">
<ellipse cx="616" cy="56.2" rx="13" ry="5.8" transform="rotate(-28 616 56.2)" fill="#2aa8c8"/>
<ellipse cx="623.5" cy="54" rx="4.8" ry="2.8" transform="rotate(-60 623.5 54)" fill="#f0c82a"/>
<ellipse cx="613" cy="58.2" rx="7" ry="1.7" transform="rotate(-30 613 58.2)" fill="#90c060"/>
</g></g>
<defs><clipPath id="bb5u"><polygon points="565.40,51.40 578.00,53.20 593.00,54.60 608.10,55.80 618.00,53.60 627.10,50.30 634.40,50.30 634.40,32.40 560.40,32.40 560.40,51.40"/></clipPath><clipPath id="bb5d"><polygon points="565.40,51.40 578.00,53.20 593.00,54.60 608.10,55.80 618.00,53.60 627.10,50.30 634.40,50.30 634.40,70.90 560.40,70.90 560.40,51.40"/></clipPath></defs>
<path d="M565.40,52.00 C565.67,50.07 566.57,49.10 568.00,48.00 C569.43,46.90 571.33,46.57 574.00,45.40 C576.67,44.23 580.53,42.33 584.00,41.00 C587.47,39.67 591.63,37.60 594.80,37.40 C597.97,37.20 600.13,38.78 603.00,39.80 C605.87,40.82 609.17,42.33 612.00,43.50 C614.83,44.67 617.48,45.70 620.00,46.80 C622.52,47.90 625.53,48.77 627.10,50.10 C628.67,51.43 629.25,53.23 629.40,54.80 C629.55,56.37 628.70,58.23 628.00,59.50 C627.30,60.77 626.70,61.55 625.20,62.40 C623.70,63.25 620.90,64.12 619.00,64.60 C617.10,65.08 615.97,65.50 613.80,65.30 C611.63,65.10 608.22,64.20 606.00,63.40 C603.78,62.60 602.50,60.73 600.50,60.50 C598.50,60.27 596.20,61.52 594.00,62.00 C591.80,62.48 589.63,62.90 587.30,63.40 C584.97,63.90 581.90,64.58 580.00,65.00 C578.10,65.42 577.57,66.13 575.90,65.90 C574.23,65.67 571.58,64.65 570.00,63.60 C568.42,62.55 567.17,61.53 566.40,59.60 C565.63,57.67 565.13,53.93 565.40,52.00Z" fill="none" stroke="#f5a04a" stroke-width="1.35" stroke-linecap="round" stroke-dasharray="0.1,2.0" clip-path="url(#bb5u)"/>
<path d="M565.40,52.00 C565.67,50.07 566.57,49.10 568.00,48.00 C569.43,46.90 571.33,46.57 574.00,45.40 C576.67,44.23 580.53,42.33 584.00,41.00 C587.47,39.67 591.63,37.60 594.80,37.40 C597.97,37.20 600.13,38.78 603.00,39.80 C605.87,40.82 609.17,42.33 612.00,43.50 C614.83,44.67 617.48,45.70 620.00,46.80 C622.52,47.90 625.53,48.77 627.10,50.10 C628.67,51.43 629.25,53.23 629.40,54.80 C629.55,56.37 628.70,58.23 628.00,59.50 C627.30,60.77 626.70,61.55 625.20,62.40 C623.70,63.25 620.90,64.12 619.00,64.60 C617.10,65.08 615.97,65.50 613.80,65.30 C611.63,65.10 608.22,64.20 606.00,63.40 C603.78,62.60 602.50,60.73 600.50,60.50 C598.50,60.27 596.20,61.52 594.00,62.00 C591.80,62.48 589.63,62.90 587.30,63.40 C584.97,63.90 581.90,64.58 580.00,65.00 C578.10,65.42 577.57,66.13 575.90,65.90 C574.23,65.67 571.58,64.65 570.00,63.60 C568.42,62.55 567.17,61.53 566.40,59.60 C565.63,57.67 565.13,53.93 565.40,52.00Z" fill="none" stroke="#e0288f" stroke-width="1.35" stroke-linecap="round" stroke-dasharray="0.1,2.0" clip-path="url(#bb5d)"/>
<path d="M565.40,51.40 C567.50,51.70 573.40,52.67 578.00,53.20 C582.60,53.73 587.98,54.17 593.00,54.60 C598.02,55.03 603.93,55.97 608.10,55.80 C612.27,55.63 614.83,54.52 618.00,53.60 C621.17,52.68 625.58,50.85 627.10,50.30" fill="none" stroke="#e0288f" stroke-width="1.3" stroke-linecap="round" stroke-dasharray="0.1,2.0"/>
<path d="M608.8,55.4 l1.99,0.17 l-0.85,1.46Z" fill="#fff"/>
<path d="M623.2,59.2 l-0.17,-1.99 l1.59,0.58Z" fill="#fff"/>
<defs><linearGradient id="parb" x1="0" x2="0" y1="0" y2="1"><stop offset="0" stop-color="#f4e61c"/><stop offset="0.17" stop-color="#f6b632"/><stop offset="0.33" stop-color="#a9c24a"/><stop offset="0.48" stop-color="#4fb892"/><stop offset="0.6" stop-color="#1fa9c9"/><stop offset="0.7" stop-color="#3192da"/><stop offset="0.82" stop-color="#4a6cc2"/><stop offset="0.92" stop-color="#4852b1"/><stop offset="1" stop-color="#3a3b98"/></linearGradient></defs>
<rect x="637.20" y="22.10" width="8.00" height="45.10" fill="url(#parb)" stroke="none" stroke-width="1"/>
<text x="646.20" y="23.80" font-size="3.6" fill="#222" text-anchor="start" font-weight="normal" font-family='"Liberation Sans", sans-serif'>0.3</text>
<text x="646.20" y="31.30" font-size="3.6" fill="#222" text-anchor="start" font-weight="normal" font-family='"Liberation Sans", sans-serif'>0.25</text>
<text x="646.20" y="38.80" font-size="3.6" fill="#222" text-anchor="start" font-weight="normal" font-family='"Liberation Sans", sans-serif'>0.2</text>
<text x="646.20" y="46.30" font-size="3.6" fill="#222" text-anchor="start" font-weight="normal" font-family='"Liberation Sans", sans-serif'>0.15</text>
<text x="646.20" y="53.80" font-size="3.6" fill="#222" text-anchor="start" font-weight="normal" font-family='"Liberation Sans", sans-serif'>0.1</text>
<text x="646.20" y="61.30" font-size="3.6" fill="#222" text-anchor="start" font-weight="normal" font-family='"Liberation Sans", sans-serif'>0.05</text>
<text x="646.20" y="68.80" font-size="3.6" fill="#222" text-anchor="start" font-weight="normal" font-family='"Liberation Sans", sans-serif'>0</text>
<line x1="292.00" y1="108.30" x2="651.40" y2="108.30" stroke="#5a96d3" stroke-width="2.6"/>
<line x1="643.00" y1="100.00" x2="652.60" y2="109.00" stroke="#5a96d3" stroke-width="2.6"/>
<line x1="308.60" y1="97.60" x2="308.60" y2="108.30" stroke="#5a96d3" stroke-width="2.4"/>
<line x1="380.40" y1="97.60" x2="380.40" y2="108.30" stroke="#5a96d3" stroke-width="2.4"/>
<line x1="452.00" y1="97.60" x2="452.00" y2="108.30" stroke="#5a96d3" stroke-width="2.4"/>
<line x1="524.00" y1="97.60" x2="524.00" y2="108.30" stroke="#5a96d3" stroke-width="2.4"/>
<line x1="589.60" y1="97.60" x2="589.60" y2="108.30" stroke="#5a96d3" stroke-width="2.4"/>
<line x1="602.5" y1="109.6" x2="602.5" y2="120" stroke="#5a96d3" stroke-width="1.7" stroke-dasharray="0.9,0.8"/>
<text x="297.00" y="93.80" font-size="10.2" fill="#111" text-anchor="start" font-weight="normal" font-family='"Liberation Sans", sans-serif' textLength="25.70" lengthAdjust="spacingAndGlyphs">P0-P1</text>
<text x="368.10" y="93.80" font-size="10.2" fill="#111" text-anchor="start" font-weight="normal" font-family='"Liberation Sans", sans-serif' textLength="27.00" lengthAdjust="spacingAndGlyphs">P3-P4</text>
<text x="438.00" y="93.80" font-size="10.2" fill="#111" text-anchor="start" font-weight="normal" font-family='"Liberation Sans", sans-serif' textLength="19.60" lengthAdjust="spacingAndGlyphs">P6-7</text>
<text x="509.20" y="93.80" font-size="10.2" fill="#111" text-anchor="start" font-weight="normal" font-family='"Liberation Sans", sans-serif' textLength="27.30" lengthAdjust="spacingAndGlyphs">P9-10</text>
<text x="571.40" y="93.80" font-size="10.2" fill="#111" text-anchor="start" font-weight="normal" font-family='"Liberation Sans", sans-serif' textLength="32.00" lengthAdjust="spacingAndGlyphs">P11-12</text>
<text x="411.00" y="130.80" font-size="9.4" fill="#111" text-anchor="start" font-weight="normal" font-family='"Liberation Sans", sans-serif' textLength="94.00" lengthAdjust="spacingAndGlyphs">Age (postnatal days)</text>
<text x="595.50" y="128.40" font-size="5.4" fill="#222" text-anchor="start" font-weight="normal" font-family='"Liberation Sans", sans-serif' textLength="56.00" lengthAdjust="spacingAndGlyphs">~P13 Hearing onset</text>
<text x="8.60" y="166.00" font-size="12.5" fill="#000" text-anchor="start" font-weight="normal" font-family='"Liberation Sans", sans-serif'>c</text>
<defs><clipPath id="cwL0"><path d="M21.90,189.00 C22.08,187.97 22.75,186.87 23.60,186.20 C24.45,185.53 25.50,185.20 27.00,185.00 C28.50,184.80 30.73,184.80 32.60,185.00 C34.47,185.20 36.32,185.63 38.20,186.20 C40.08,186.77 42.02,187.60 43.90,188.40 C45.78,189.20 47.63,190.38 49.50,191.00 C51.37,191.62 53.23,192.07 55.10,192.10 C56.97,192.13 58.83,191.72 60.70,191.20 C62.57,190.68 64.23,189.83 66.30,189.00 C68.37,188.17 70.85,186.98 73.10,186.20 C75.35,185.42 77.75,184.68 79.80,184.30 C81.85,183.92 83.90,183.78 85.40,183.90 C86.90,184.02 87.93,184.25 88.80,185.00 C89.67,185.75 90.30,187.17 90.60,188.40 C90.90,189.63 90.90,191.18 90.60,192.40 C90.30,193.62 89.67,194.68 88.80,195.70 C87.93,196.72 87.08,197.47 85.40,198.50 C83.72,199.53 80.75,201.05 78.70,201.90 C76.65,202.75 75.35,203.32 73.10,203.60 C70.85,203.88 67.45,203.88 65.20,203.60 C62.95,203.32 61.28,202.47 59.60,201.90 C57.92,201.33 56.60,200.28 55.10,200.20 C53.60,200.12 52.28,200.93 50.60,201.40 C48.92,201.87 47.07,202.73 45.00,203.00 C42.93,203.27 40.45,203.37 38.20,203.00 C35.95,202.63 33.55,201.82 31.50,200.80 C29.45,199.78 27.40,198.30 25.90,196.90 C24.40,195.50 23.17,193.72 22.50,192.40 C21.83,191.08 21.72,190.03 21.90,189.00Z"/></clipPath></defs>
<g clip-path="url(#cwL0)"><path d="M21.90,189.00 C22.08,187.97 22.75,186.87 23.60,186.20 C24.45,185.53 25.50,185.20 27.00,185.00 C28.50,184.80 30.73,184.80 32.60,185.00 C34.47,185.20 36.32,185.63 38.20,186.20 C40.08,186.77 42.02,187.60 43.90,188.40 C45.78,189.20 47.63,190.38 49.50,191.00 C51.37,191.62 53.23,192.07 55.10,192.10 C56.97,192.13 58.83,191.72 60.70,191.20 C62.57,190.68 64.23,189.83 66.30,189.00 C68.37,188.17 70.85,186.98 73.10,186.20 C75.35,185.42 77.75,184.68 79.80,184.30 C81.85,183.92 83.90,183.78 85.40,183.90 C86.90,184.02 87.93,184.25 88.80,185.00 C89.67,185.75 90.30,187.17 90.60,188.40 C90.90,189.63 90.90,191.18 90.60,192.40 C90.30,193.62 89.67,194.68 88.80,195.70 C87.93,196.72 87.08,197.47 85.40,198.50 C83.72,199.53 80.75,201.05 78.70,201.90 C76.65,202.75 75.35,203.32 73.10,203.60 C70.85,203.88 67.45,203.88 65.20,203.60 C62.95,203.32 61.28,202.47 59.60,201.90 C57.92,201.33 56.60,200.28 55.10,200.20 C53.60,200.12 52.28,200.93 50.60,201.40 C48.92,201.87 47.07,202.73 45.00,203.00 C42.93,203.27 40.45,203.37 38.20,203.00 C35.95,202.63 33.55,201.82 31.50,200.80 C29.45,199.78 27.40,198.30 25.90,196.90 C24.40,195.50 23.17,193.72 22.50,192.40 C21.83,191.08 21.72,190.03 21.90,189.00Z" fill="#4856b4"/><g filter="url(#blur15)">
<ellipse cx="33.70" cy="195.70" rx="7" ry="2.5" transform="rotate(30 33.70 195.70)" fill="#3f78c8"/>
<ellipse cx="78.70" cy="194.60" rx="6" ry="2.5" transform="rotate(-20 78.70 194.60)" fill="#3f78c8"/>
</g></g>
<defs><clipPath id="cwR0"><path d="M93.50,188.80 C93.68,187.77 94.35,186.67 95.20,186.00 C96.05,185.33 97.10,185.00 98.60,184.80 C100.10,184.60 102.33,184.60 104.20,184.80 C106.07,185.00 107.92,185.43 109.80,186.00 C111.68,186.57 113.62,187.40 115.50,188.20 C117.38,189.00 119.23,190.18 121.10,190.80 C122.97,191.42 124.83,191.87 126.70,191.90 C128.57,191.93 130.43,191.52 132.30,191.00 C134.17,190.48 135.83,189.63 137.90,188.80 C139.97,187.97 142.45,186.78 144.70,186.00 C146.95,185.22 149.35,184.48 151.40,184.10 C153.45,183.72 155.50,183.58 157.00,183.70 C158.50,183.82 159.53,184.05 160.40,184.80 C161.27,185.55 161.90,186.97 162.20,188.20 C162.50,189.43 162.50,190.98 162.20,192.20 C161.90,193.42 161.27,194.48 160.40,195.50 C159.53,196.52 158.68,197.27 157.00,198.30 C155.32,199.33 152.35,200.85 150.30,201.70 C148.25,202.55 146.95,203.12 144.70,203.40 C142.45,203.68 139.05,203.68 136.80,203.40 C134.55,203.12 132.88,202.27 131.20,201.70 C129.52,201.13 128.20,200.08 126.70,200.00 C125.20,199.92 123.88,200.73 122.20,201.20 C120.52,201.67 118.67,202.53 116.60,202.80 C114.53,203.07 112.05,203.17 109.80,202.80 C107.55,202.43 105.15,201.62 103.10,200.60 C101.05,199.58 99.00,198.10 97.50,196.70 C96.00,195.30 94.77,193.52 94.10,192.20 C93.43,190.88 93.32,189.83 93.50,188.80Z"/></clipPath></defs>
<g clip-path="url(#cwR0)"><path d="M93.50,188.80 C93.68,187.77 94.35,186.67 95.20,186.00 C96.05,185.33 97.10,185.00 98.60,184.80 C100.10,184.60 102.33,184.60 104.20,184.80 C106.07,185.00 107.92,185.43 109.80,186.00 C111.68,186.57 113.62,187.40 115.50,188.20 C117.38,189.00 119.23,190.18 121.10,190.80 C122.97,191.42 124.83,191.87 126.70,191.90 C128.57,191.93 130.43,191.52 132.30,191.00 C134.17,190.48 135.83,189.63 137.90,188.80 C139.97,187.97 142.45,186.78 144.70,186.00 C146.95,185.22 149.35,184.48 151.40,184.10 C153.45,183.72 155.50,183.58 157.00,183.70 C158.50,183.82 159.53,184.05 160.40,184.80 C161.27,185.55 161.90,186.97 162.20,188.20 C162.50,189.43 162.50,190.98 162.20,192.20 C161.90,193.42 161.27,194.48 160.40,195.50 C159.53,196.52 158.68,197.27 157.00,198.30 C155.32,199.33 152.35,200.85 150.30,201.70 C148.25,202.55 146.95,203.12 144.70,203.40 C142.45,203.68 139.05,203.68 136.80,203.40 C134.55,203.12 132.88,202.27 131.20,201.70 C129.52,201.13 128.20,200.08 126.70,200.00 C125.20,199.92 123.88,200.73 122.20,201.20 C120.52,201.67 118.67,202.53 116.60,202.80 C114.53,203.07 112.05,203.17 109.80,202.80 C107.55,202.43 105.15,201.62 103.10,200.60 C101.05,199.58 99.00,198.10 97.50,196.70 C96.00,195.30 94.77,193.52 94.10,192.20 C93.43,190.88 93.32,189.83 93.50,188.80Z" fill="#4856b4"/><g filter="url(#blur15)">
<ellipse cx="104.60" cy="194.60" rx="7" ry="2.5" transform="rotate(25 104.60 194.60)" fill="#3f78c8"/>
<ellipse cx="148.50" cy="196.20" rx="10" ry="6" transform="rotate(-30 148.50 196.20)" fill="#2f95d8"/>
<ellipse cx="148.90" cy="196.20" rx="7.5" ry="4" transform="rotate(-30 148.90 196.20)" fill="#25a9c6"/>
<ellipse cx="150.40" cy="196.20" rx="5" ry="2.8" transform="rotate(-30 150.40 196.20)" fill="#7cc06a"/>
<ellipse cx="151.70" cy="196.20" rx="2.8" ry="1.8" transform="rotate(-30 151.70 196.20)" fill="#f2d42a"/>
</g></g>
<defs><clipPath id="cwL1"><path d="M21.90,210.00 C22.08,208.97 22.75,207.87 23.60,207.20 C24.45,206.53 25.50,206.20 27.00,206.00 C28.50,205.80 30.73,205.80 32.60,206.00 C34.47,206.20 36.32,206.63 38.20,207.20 C40.08,207.77 42.02,208.60 43.90,209.40 C45.78,210.20 47.63,211.38 49.50,212.00 C51.37,212.62 53.23,213.07 55.10,213.10 C56.97,213.13 58.83,212.72 60.70,212.20 C62.57,211.68 64.23,210.83 66.30,210.00 C68.37,209.17 70.85,207.98 73.10,207.20 C75.35,206.42 77.75,205.68 79.80,205.30 C81.85,204.92 83.90,204.78 85.40,204.90 C86.90,205.02 87.93,205.25 88.80,206.00 C89.67,206.75 90.30,208.17 90.60,209.40 C90.90,210.63 90.90,212.18 90.60,213.40 C90.30,214.62 89.67,215.68 88.80,216.70 C87.93,217.72 87.08,218.47 85.40,219.50 C83.72,220.53 80.75,222.05 78.70,222.90 C76.65,223.75 75.35,224.32 73.10,224.60 C70.85,224.88 67.45,224.88 65.20,224.60 C62.95,224.32 61.28,223.47 59.60,222.90 C57.92,222.33 56.60,221.28 55.10,221.20 C53.60,221.12 52.28,221.93 50.60,222.40 C48.92,222.87 47.07,223.73 45.00,224.00 C42.93,224.27 40.45,224.37 38.20,224.00 C35.95,223.63 33.55,222.82 31.50,221.80 C29.45,220.78 27.40,219.30 25.90,217.90 C24.40,216.50 23.17,214.72 22.50,213.40 C21.83,212.08 21.72,211.03 21.90,210.00Z"/></clipPath></defs>
<g clip-path="url(#cwL1)"><path d="M21.90,210.00 C22.08,208.97 22.75,207.87 23.60,207.20 C24.45,206.53 25.50,206.20 27.00,206.00 C28.50,205.80 30.73,205.80 32.60,206.00 C34.47,206.20 36.32,206.63 38.20,207.20 C40.08,207.77 42.02,208.60 43.90,209.40 C45.78,210.20 47.63,211.38 49.50,212.00 C51.37,212.62 53.23,213.07 55.10,213.10 C56.97,213.13 58.83,212.72 60.70,212.20 C62.57,211.68 64.23,210.83 66.30,210.00 C68.37,209.17 70.85,207.98 73.10,207.20 C75.35,206.42 77.75,205.68 79.80,205.30 C81.85,204.92 83.90,204.78 85.40,204.90 C86.90,205.02 87.93,205.25 88.80,206.00 C89.67,206.75 90.30,208.17 90.60,209.40 C90.90,210.63 90.90,212.18 90.60,213.40 C90.30,214.62 89.67,215.68 88.80,216.70 C87.93,217.72 87.08,218.47 85.40,219.50 C83.72,220.53 80.75,222.05 78.70,222.90 C76.65,223.75 75.35,224.32 73.10,224.60 C70.85,224.88 67.45,224.88 65.20,224.60 C62.95,224.32 61.28,223.47 59.60,222.90 C57.92,222.33 56.60,221.28 55.10,221.20 C53.60,221.12 52.28,221.93 50.60,222.40 C48.92,222.87 47.07,223.73 45.00,224.00 C42.93,224.27 40.45,224.37 38.20,224.00 C35.95,223.63 33.55,222.82 31.50,221.80 C29.45,220.78 27.40,219.30 25.90,217.90 C24.40,216.50 23.17,214.72 22.50,213.40 C21.83,212.08 21.72,211.03 21.90,210.00Z" fill="#4856b4"/><g filter="url(#blur15)">
<ellipse cx="34.50" cy="217.00" rx="8" ry="3.2" transform="rotate(30 34.50 217.00)" fill="#2f95d8"/>
<ellipse cx="79.30" cy="215.80" rx="5" ry="2.5" transform="rotate(-20 79.30 215.80)" fill="#3f78c8"/>
</g></g>
<defs><clipPath id="cwR1"><path d="M93.50,209.80 C93.68,208.77 94.35,207.67 95.20,207.00 C96.05,206.33 97.10,206.00 98.60,205.80 C100.10,205.60 102.33,205.60 104.20,205.80 C106.07,206.00 107.92,206.43 109.80,207.00 C111.68,207.57 113.62,208.40 115.50,209.20 C117.38,210.00 119.23,211.18 121.10,211.80 C122.97,212.42 124.83,212.87 126.70,212.90 C128.57,212.93 130.43,212.52 132.30,212.00 C134.17,211.48 135.83,210.63 137.90,209.80 C139.97,208.97 142.45,207.78 144.70,207.00 C146.95,206.22 149.35,205.48 151.40,205.10 C153.45,204.72 155.50,204.58 157.00,204.70 C158.50,204.82 159.53,205.05 160.40,205.80 C161.27,206.55 161.90,207.97 162.20,209.20 C162.50,210.43 162.50,211.98 162.20,213.20 C161.90,214.42 161.27,215.48 160.40,216.50 C159.53,217.52 158.68,218.27 157.00,219.30 C155.32,220.33 152.35,221.85 150.30,222.70 C148.25,223.55 146.95,224.12 144.70,224.40 C142.45,224.68 139.05,224.68 136.80,224.40 C134.55,224.12 132.88,223.27 131.20,222.70 C129.52,222.13 128.20,221.08 126.70,221.00 C125.20,220.92 123.88,221.73 122.20,222.20 C120.52,222.67 118.67,223.53 116.60,223.80 C114.53,224.07 112.05,224.17 109.80,223.80 C107.55,223.43 105.15,222.62 103.10,221.60 C101.05,220.58 99.00,219.10 97.50,217.70 C96.00,216.30 94.77,214.52 94.10,213.20 C93.43,211.88 93.32,210.83 93.50,209.80Z"/></clipPath></defs>
<g clip-path="url(#cwR1)"><path d="M93.50,209.80 C93.68,208.77 94.35,207.67 95.20,207.00 C96.05,206.33 97.10,206.00 98.60,205.80 C100.10,205.60 102.33,205.60 104.20,205.80 C106.07,206.00 107.92,206.43 109.80,207.00 C111.68,207.57 113.62,208.40 115.50,209.20 C117.38,210.00 119.23,211.18 121.10,211.80 C122.97,212.42 124.83,212.87 126.70,212.90 C128.57,212.93 130.43,212.52 132.30,212.00 C134.17,211.48 135.83,210.63 137.90,209.80 C139.97,208.97 142.45,207.78 144.70,207.00 C146.95,206.22 149.35,205.48 151.40,205.10 C153.45,204.72 155.50,204.58 157.00,204.70 C158.50,204.82 159.53,205.05 160.40,205.80 C161.27,206.55 161.90,207.97 162.20,209.20 C162.50,210.43 162.50,211.98 162.20,213.20 C161.90,214.42 161.27,215.48 160.40,216.50 C159.53,217.52 158.68,218.27 157.00,219.30 C155.32,220.33 152.35,221.85 150.30,222.70 C148.25,223.55 146.95,224.12 144.70,224.40 C142.45,224.68 139.05,224.68 136.80,224.40 C134.55,224.12 132.88,223.27 131.20,222.70 C129.52,222.13 128.20,221.08 126.70,221.00 C125.20,220.92 123.88,221.73 122.20,222.20 C120.52,222.67 118.67,223.53 116.60,223.80 C114.53,224.07 112.05,224.17 109.80,223.80 C107.55,223.43 105.15,222.62 103.10,221.60 C101.05,220.58 99.00,219.10 97.50,217.70 C96.00,216.30 94.77,214.52 94.10,213.20 C93.43,211.88 93.32,210.83 93.50,209.80Z" fill="#4856b4"/><g filter="url(#blur15)">
<ellipse cx="107.00" cy="214.00" rx="10" ry="2.4" transform="rotate(35 107.00 214.00)" fill="#2f95d8"/>
<ellipse cx="151.00" cy="216.00" rx="7" ry="4.5" transform="rotate(-30 151.00 216.00)" fill="#2f95d8"/>
<ellipse cx="151.00" cy="216.00" rx="4" ry="2.2" transform="rotate(-30 151.00 216.00)" fill="#25a9c6"/>
</g></g>
<defs><clipPath id="cwL2"><path d="M21.90,230.90 C22.08,229.87 22.75,228.77 23.60,228.10 C24.45,227.43 25.50,227.10 27.00,226.90 C28.50,226.70 30.73,226.70 32.60,226.90 C34.47,227.10 36.32,227.53 38.20,228.10 C40.08,228.67 42.02,229.50 43.90,230.30 C45.78,231.10 47.63,232.28 49.50,232.90 C51.37,233.52 53.23,233.97 55.10,234.00 C56.97,234.03 58.83,233.62 60.70,233.10 C62.57,232.58 64.23,231.73 66.30,230.90 C68.37,230.07 70.85,228.88 73.10,228.10 C75.35,227.32 77.75,226.58 79.80,226.20 C81.85,225.82 83.90,225.68 85.40,225.80 C86.90,225.92 87.93,226.15 88.80,226.90 C89.67,227.65 90.30,229.07 90.60,230.30 C90.90,231.53 90.90,233.08 90.60,234.30 C90.30,235.52 89.67,236.58 88.80,237.60 C87.93,238.62 87.08,239.37 85.40,240.40 C83.72,241.43 80.75,242.95 78.70,243.80 C76.65,244.65 75.35,245.22 73.10,245.50 C70.85,245.78 67.45,245.78 65.20,245.50 C62.95,245.22 61.28,244.37 59.60,243.80 C57.92,243.23 56.60,242.18 55.10,242.10 C53.60,242.02 52.28,242.83 50.60,243.30 C48.92,243.77 47.07,244.63 45.00,244.90 C42.93,245.17 40.45,245.27 38.20,244.90 C35.95,244.53 33.55,243.72 31.50,242.70 C29.45,241.68 27.40,240.20 25.90,238.80 C24.40,237.40 23.17,235.62 22.50,234.30 C21.83,232.98 21.72,231.93 21.90,230.90Z"/></clipPath></defs>
<g clip-path="url(#cwL2)"><path d="M21.90,230.90 C22.08,229.87 22.75,228.77 23.60,228.10 C24.45,227.43 25.50,227.10 27.00,226.90 C28.50,226.70 30.73,226.70 32.60,226.90 C34.47,227.10 36.32,227.53 38.20,228.10 C40.08,228.67 42.02,229.50 43.90,230.30 C45.78,231.10 47.63,232.28 49.50,232.90 C51.37,233.52 53.23,233.97 55.10,234.00 C56.97,234.03 58.83,233.62 60.70,233.10 C62.57,232.58 64.23,231.73 66.30,230.90 C68.37,230.07 70.85,228.88 73.10,228.10 C75.35,227.32 77.75,226.58 79.80,226.20 C81.85,225.82 83.90,225.68 85.40,225.80 C86.90,225.92 87.93,226.15 88.80,226.90 C89.67,227.65 90.30,229.07 90.60,230.30 C90.90,231.53 90.90,233.08 90.60,234.30 C90.30,235.52 89.67,236.58 88.80,237.60 C87.93,238.62 87.08,239.37 85.40,240.40 C83.72,241.43 80.75,242.95 78.70,243.80 C76.65,244.65 75.35,245.22 73.10,245.50 C70.85,245.78 67.45,245.78 65.20,245.50 C62.95,245.22 61.28,244.37 59.60,243.80 C57.92,243.23 56.60,242.18 55.10,242.10 C53.60,242.02 52.28,242.83 50.60,243.30 C48.92,243.77 47.07,244.63 45.00,244.90 C42.93,245.17 40.45,245.27 38.20,244.90 C35.95,244.53 33.55,243.72 31.50,242.70 C29.45,241.68 27.40,240.20 25.90,238.80 C24.40,237.40 23.17,235.62 22.50,234.30 C21.83,232.98 21.72,231.93 21.90,230.90Z" fill="#4856b4"/><g filter="url(#blur15)">
<ellipse cx="35.80" cy="236.00" rx="14" ry="7" transform="rotate(28 35.80 236.00)" fill="#25a9c6"/>
<ellipse cx="33.80" cy="236.00" rx="10" ry="4.5" transform="rotate(30 33.80 236.00)" fill="#7cc06a"/>
<ellipse cx="33.00" cy="236.00" rx="6.5" ry="3.0" transform="rotate(30 33.00 236.00)" fill="#f2d42a"/>
<ellipse cx="71.80" cy="236.00" rx="12" ry="5" transform="rotate(-15 71.80 236.00)" fill="#2f95d8"/>
<ellipse cx="71.80" cy="236.00" rx="7" ry="2.5" transform="rotate(-15 71.80 236.00)" fill="#25a9c6"/>
</g></g>
<defs><clipPath id="cwR2"><path d="M93.50,230.70 C93.68,229.67 94.35,228.57 95.20,227.90 C96.05,227.23 97.10,226.90 98.60,226.70 C100.10,226.50 102.33,226.50 104.20,226.70 C106.07,226.90 107.92,227.33 109.80,227.90 C111.68,228.47 113.62,229.30 115.50,230.10 C117.38,230.90 119.23,232.08 121.10,232.70 C122.97,233.32 124.83,233.77 126.70,233.80 C128.57,233.83 130.43,233.42 132.30,232.90 C134.17,232.38 135.83,231.53 137.90,230.70 C139.97,229.87 142.45,228.68 144.70,227.90 C146.95,227.12 149.35,226.38 151.40,226.00 C153.45,225.62 155.50,225.48 157.00,225.60 C158.50,225.72 159.53,225.95 160.40,226.70 C161.27,227.45 161.90,228.87 162.20,230.10 C162.50,231.33 162.50,232.88 162.20,234.10 C161.90,235.32 161.27,236.38 160.40,237.40 C159.53,238.42 158.68,239.17 157.00,240.20 C155.32,241.23 152.35,242.75 150.30,243.60 C148.25,244.45 146.95,245.02 144.70,245.30 C142.45,245.58 139.05,245.58 136.80,245.30 C134.55,245.02 132.88,244.17 131.20,243.60 C129.52,243.03 128.20,241.98 126.70,241.90 C125.20,241.82 123.88,242.63 122.20,243.10 C120.52,243.57 118.67,244.43 116.60,244.70 C114.53,244.97 112.05,245.07 109.80,244.70 C107.55,244.33 105.15,243.52 103.10,242.50 C101.05,241.48 99.00,240.00 97.50,238.60 C96.00,237.20 94.77,235.42 94.10,234.10 C93.43,232.78 93.32,231.73 93.50,230.70Z"/></clipPath></defs>
<g clip-path="url(#cwR2)"><path d="M93.50,230.70 C93.68,229.67 94.35,228.57 95.20,227.90 C96.05,227.23 97.10,226.90 98.60,226.70 C100.10,226.50 102.33,226.50 104.20,226.70 C106.07,226.90 107.92,227.33 109.80,227.90 C111.68,228.47 113.62,229.30 115.50,230.10 C117.38,230.90 119.23,232.08 121.10,232.70 C122.97,233.32 124.83,233.77 126.70,233.80 C128.57,233.83 130.43,233.42 132.30,232.90 C134.17,232.38 135.83,231.53 137.90,230.70 C139.97,229.87 142.45,228.68 144.70,227.90 C146.95,227.12 149.35,226.38 151.40,226.00 C153.45,225.62 155.50,225.48 157.00,225.60 C158.50,225.72 159.53,225.95 160.40,226.70 C161.27,227.45 161.90,228.87 162.20,230.10 C162.50,231.33 162.50,232.88 162.20,234.10 C161.90,235.32 161.27,236.38 160.40,237.40 C159.53,238.42 158.68,239.17 157.00,240.20 C155.32,241.23 152.35,242.75 150.30,243.60 C148.25,244.45 146.95,245.02 144.70,245.30 C142.45,245.58 139.05,245.58 136.80,245.30 C134.55,245.02 132.88,244.17 131.20,243.60 C129.52,243.03 128.20,241.98 126.70,241.90 C125.20,241.82 123.88,242.63 122.20,243.10 C120.52,243.57 118.67,244.43 116.60,244.70 C114.53,244.97 112.05,245.07 109.80,244.70 C107.55,244.33 105.15,243.52 103.10,242.50 C101.05,241.48 99.00,240.00 97.50,238.60 C96.00,237.20 94.77,235.42 94.10,234.10 C93.43,232.78 93.32,231.73 93.50,230.70Z" fill="#4856b4"/><g filter="url(#blur15)">
<ellipse cx="106.00" cy="234.00" rx="13" ry="6" transform="rotate(30 106.00 234.00)" fill="#2f95d8"/>
<ellipse cx="104.40" cy="232.30" rx="9" ry="4" transform="rotate(30 104.40 232.30)" fill="#25a9c6"/>
<ellipse cx="103.00" cy="230.80" rx="5" ry="2.6" transform="rotate(20 103.00 230.80)" fill="#f2d42a"/>
<ellipse cx="146.00" cy="235.00" rx="14" ry="7" transform="rotate(-40 146.00 235.00)" fill="#2f95d8"/>
<ellipse cx="146.40" cy="233.80" rx="10" ry="4.5" transform="rotate(-40 146.40 233.80)" fill="#25a9c6"/>
<ellipse cx="150.10" cy="230.80" rx="6" ry="3" transform="rotate(-20 150.10 230.80)" fill="#f2d42a"/>
</g></g>
<defs><clipPath id="cwL3"><path d="M21.90,251.00 C22.08,249.97 22.75,248.87 23.60,248.20 C24.45,247.53 25.50,247.20 27.00,247.00 C28.50,246.80 30.73,246.80 32.60,247.00 C34.47,247.20 36.32,247.63 38.20,248.20 C40.08,248.77 42.02,249.60 43.90,250.40 C45.78,251.20 47.63,252.38 49.50,253.00 C51.37,253.62 53.23,254.07 55.10,254.10 C56.97,254.13 58.83,253.72 60.70,253.20 C62.57,252.68 64.23,251.83 66.30,251.00 C68.37,250.17 70.85,248.98 73.10,248.20 C75.35,247.42 77.75,246.68 79.80,246.30 C81.85,245.92 83.90,245.78 85.40,245.90 C86.90,246.02 87.93,246.25 88.80,247.00 C89.67,247.75 90.30,249.17 90.60,250.40 C90.90,251.63 90.90,253.18 90.60,254.40 C90.30,255.62 89.67,256.68 88.80,257.70 C87.93,258.72 87.08,259.47 85.40,260.50 C83.72,261.53 80.75,263.05 78.70,263.90 C76.65,264.75 75.35,265.32 73.10,265.60 C70.85,265.88 67.45,265.88 65.20,265.60 C62.95,265.32 61.28,264.47 59.60,263.90 C57.92,263.33 56.60,262.28 55.10,262.20 C53.60,262.12 52.28,262.93 50.60,263.40 C48.92,263.87 47.07,264.73 45.00,265.00 C42.93,265.27 40.45,265.37 38.20,265.00 C35.95,264.63 33.55,263.82 31.50,262.80 C29.45,261.78 27.40,260.30 25.90,258.90 C24.40,257.50 23.17,255.72 22.50,254.40 C21.83,253.08 21.72,252.03 21.90,251.00Z"/></clipPath></defs>
<g clip-path="url(#cwL3)"><path d="M21.90,251.00 C22.08,249.97 22.75,248.87 23.60,248.20 C24.45,247.53 25.50,247.20 27.00,247.00 C28.50,246.80 30.73,246.80 32.60,247.00 C34.47,247.20 36.32,247.63 38.20,248.20 C40.08,248.77 42.02,249.60 43.90,250.40 C45.78,251.20 47.63,252.38 49.50,253.00 C51.37,253.62 53.23,254.07 55.10,254.10 C56.97,254.13 58.83,253.72 60.70,253.20 C62.57,252.68 64.23,251.83 66.30,251.00 C68.37,250.17 70.85,248.98 73.10,248.20 C75.35,247.42 77.75,246.68 79.80,246.30 C81.85,245.92 83.90,245.78 85.40,245.90 C86.90,246.02 87.93,246.25 88.80,247.00 C89.67,247.75 90.30,249.17 90.60,250.40 C90.90,251.63 90.90,253.18 90.60,254.40 C90.30,255.62 89.67,256.68 88.80,257.70 C87.93,258.72 87.08,259.47 85.40,260.50 C83.72,261.53 80.75,263.05 78.70,263.90 C76.65,264.75 75.35,265.32 73.10,265.60 C70.85,265.88 67.45,265.88 65.20,265.60 C62.95,265.32 61.28,264.47 59.60,263.90 C57.92,263.33 56.60,262.28 55.10,262.20 C53.60,262.12 52.28,262.93 50.60,263.40 C48.92,263.87 47.07,264.73 45.00,265.00 C42.93,265.27 40.45,265.37 38.20,265.00 C35.95,264.63 33.55,263.82 31.50,262.80 C29.45,261.78 27.40,260.30 25.90,258.90 C24.40,257.50 23.17,255.72 22.50,254.40 C21.83,253.08 21.72,252.03 21.90,251.00Z" fill="#4856b4"/><g filter="url(#blur15)">
<ellipse cx="33.80" cy="256.00" rx="12" ry="6" transform="rotate(30 33.80 256.00)" fill="#25a9c6"/>
<ellipse cx="32.50" cy="256.00" rx="7" ry="2.8" transform="rotate(30 32.50 256.00)" fill="#7cc06a"/>
<ellipse cx="32.50" cy="256.00" rx="3.5" ry="1.5" transform="rotate(30 32.50 256.00)" fill="#f2d42a"/>
<ellipse cx="77.00" cy="256.50" rx="8" ry="4.5" transform="rotate(-20 77.00 256.50)" fill="#2f95d8"/>
<ellipse cx="77.00" cy="256.50" rx="5" ry="2.5" transform="rotate(-20 77.00 256.50)" fill="#25a9c6"/>
</g></g>
<defs><clipPath id="cwR3"><path d="M93.50,250.80 C93.68,249.77 94.35,248.67 95.20,248.00 C96.05,247.33 97.10,247.00 98.60,246.80 C100.10,246.60 102.33,246.60 104.20,246.80 C106.07,247.00 107.92,247.43 109.80,248.00 C111.68,248.57 113.62,249.40 115.50,250.20 C117.38,251.00 119.23,252.18 121.10,252.80 C122.97,253.42 124.83,253.87 126.70,253.90 C128.57,253.93 130.43,253.52 132.30,253.00 C134.17,252.48 135.83,251.63 137.90,250.80 C139.97,249.97 142.45,248.78 144.70,248.00 C146.95,247.22 149.35,246.48 151.40,246.10 C153.45,245.72 155.50,245.58 157.00,245.70 C158.50,245.82 159.53,246.05 160.40,246.80 C161.27,247.55 161.90,248.97 162.20,250.20 C162.50,251.43 162.50,252.98 162.20,254.20 C161.90,255.42 161.27,256.48 160.40,257.50 C159.53,258.52 158.68,259.27 157.00,260.30 C155.32,261.33 152.35,262.85 150.30,263.70 C148.25,264.55 146.95,265.12 144.70,265.40 C142.45,265.68 139.05,265.68 136.80,265.40 C134.55,265.12 132.88,264.27 131.20,263.70 C129.52,263.13 128.20,262.08 126.70,262.00 C125.20,261.92 123.88,262.73 122.20,263.20 C120.52,263.67 118.67,264.53 116.60,264.80 C114.53,265.07 112.05,265.17 109.80,264.80 C107.55,264.43 105.15,263.62 103.10,262.60 C101.05,261.58 99.00,260.10 97.50,258.70 C96.00,257.30 94.77,255.52 94.10,254.20 C93.43,252.88 93.32,251.83 93.50,250.80Z"/></clipPath></defs>
<g clip-path="url(#cwR3)"><path d="M93.50,250.80 C93.68,249.77 94.35,248.67 95.20,248.00 C96.05,247.33 97.10,247.00 98.60,246.80 C100.10,246.60 102.33,246.60 104.20,246.80 C106.07,247.00 107.92,247.43 109.80,248.00 C111.68,248.57 113.62,249.40 115.50,250.20 C117.38,251.00 119.23,252.18 121.10,252.80 C122.97,253.42 124.83,253.87 126.70,253.90 C128.57,253.93 130.43,253.52 132.30,253.00 C134.17,252.48 135.83,251.63 137.90,250.80 C139.97,249.97 142.45,248.78 144.70,248.00 C146.95,247.22 149.35,246.48 151.40,246.10 C153.45,245.72 155.50,245.58 157.00,245.70 C158.50,245.82 159.53,246.05 160.40,246.80 C161.27,247.55 161.90,248.97 162.20,250.20 C162.50,251.43 162.50,252.98 162.20,254.20 C161.90,255.42 161.27,256.48 160.40,257.50 C159.53,258.52 158.68,259.27 157.00,260.30 C155.32,261.33 152.35,262.85 150.30,263.70 C148.25,264.55 146.95,265.12 144.70,265.40 C142.45,265.68 139.05,265.68 136.80,265.40 C134.55,265.12 132.88,264.27 131.20,263.70 C129.52,263.13 128.20,262.08 126.70,262.00 C125.20,261.92 123.88,262.73 122.20,263.20 C120.52,263.67 118.67,264.53 116.60,264.80 C114.53,265.07 112.05,265.17 109.80,264.80 C107.55,264.43 105.15,263.62 103.10,262.60 C101.05,261.58 99.00,260.10 97.50,258.70 C96.00,257.30 94.77,255.52 94.10,254.20 C93.43,252.88 93.32,251.83 93.50,250.80Z" fill="#4856b4"/><g filter="url(#blur15)">
<ellipse cx="105.40" cy="251.90" rx="10" ry="4.5" transform="rotate(20 105.40 251.90)" fill="#2f95d8"/>
<ellipse cx="105.00" cy="251.20" rx="6" ry="2.6" transform="rotate(20 105.00 251.20)" fill="#7cc06a"/>
<ellipse cx="148.00" cy="252.00" rx="12" ry="6" transform="rotate(-30 148.00 252.00)" fill="#2f95d8"/>
<ellipse cx="148.90" cy="251.20" rx="8" ry="3.8" transform="rotate(-30 148.90 251.20)" fill="#25a9c6"/>
<ellipse cx="150.10" cy="250.20" rx="5" ry="2.6" transform="rotate(-20 150.10 250.20)" fill="#f2d42a"/>
</g></g>
<defs><clipPath id="cwL4"><path d="M21.90,270.80 C22.08,269.77 22.75,268.67 23.60,268.00 C24.45,267.33 25.50,267.00 27.00,266.80 C28.50,266.60 30.73,266.60 32.60,266.80 C34.47,267.00 36.32,267.43 38.20,268.00 C40.08,268.57 42.02,269.40 43.90,270.20 C45.78,271.00 47.63,272.18 49.50,272.80 C51.37,273.42 53.23,273.87 55.10,273.90 C56.97,273.93 58.83,273.52 60.70,273.00 C62.57,272.48 64.23,271.63 66.30,270.80 C68.37,269.97 70.85,268.78 73.10,268.00 C75.35,267.22 77.75,266.48 79.80,266.10 C81.85,265.72 83.90,265.58 85.40,265.70 C86.90,265.82 87.93,266.05 88.80,266.80 C89.67,267.55 90.30,268.97 90.60,270.20 C90.90,271.43 90.90,272.98 90.60,274.20 C90.30,275.42 89.67,276.48 88.80,277.50 C87.93,278.52 87.08,279.27 85.40,280.30 C83.72,281.33 80.75,282.85 78.70,283.70 C76.65,284.55 75.35,285.12 73.10,285.40 C70.85,285.68 67.45,285.68 65.20,285.40 C62.95,285.12 61.28,284.27 59.60,283.70 C57.92,283.13 56.60,282.08 55.10,282.00 C53.60,281.92 52.28,282.73 50.60,283.20 C48.92,283.67 47.07,284.53 45.00,284.80 C42.93,285.07 40.45,285.17 38.20,284.80 C35.95,284.43 33.55,283.62 31.50,282.60 C29.45,281.58 27.40,280.10 25.90,278.70 C24.40,277.30 23.17,275.52 22.50,274.20 C21.83,272.88 21.72,271.83 21.90,270.80Z"/></clipPath></defs>
<g clip-path="url(#cwL4)"><path d="M21.90,270.80 C22.08,269.77 22.75,268.67 23.60,268.00 C24.45,267.33 25.50,267.00 27.00,266.80 C28.50,266.60 30.73,266.60 32.60,266.80 C34.47,267.00 36.32,267.43 38.20,268.00 C40.08,268.57 42.02,269.40 43.90,270.20 C45.78,271.00 47.63,272.18 49.50,272.80 C51.37,273.42 53.23,273.87 55.10,273.90 C56.97,273.93 58.83,273.52 60.70,273.00 C62.57,272.48 64.23,271.63 66.30,270.80 C68.37,269.97 70.85,268.78 73.10,268.00 C75.35,267.22 77.75,266.48 79.80,266.10 C81.85,265.72 83.90,265.58 85.40,265.70 C86.90,265.82 87.93,266.05 88.80,266.80 C89.67,267.55 90.30,268.97 90.60,270.20 C90.90,271.43 90.90,272.98 90.60,274.20 C90.30,275.42 89.67,276.48 88.80,277.50 C87.93,278.52 87.08,279.27 85.40,280.30 C83.72,281.33 80.75,282.85 78.70,283.70 C76.65,284.55 75.35,285.12 73.10,285.40 C70.85,285.68 67.45,285.68 65.20,285.40 C62.95,285.12 61.28,284.27 59.60,283.70 C57.92,283.13 56.60,282.08 55.10,282.00 C53.60,281.92 52.28,282.73 50.60,283.20 C48.92,283.67 47.07,284.53 45.00,284.80 C42.93,285.07 40.45,285.17 38.20,284.80 C35.95,284.43 33.55,283.62 31.50,282.60 C29.45,281.58 27.40,280.10 25.90,278.70 C24.40,277.30 23.17,275.52 22.50,274.20 C21.83,272.88 21.72,271.83 21.90,270.80Z" fill="#4856b4"/><g filter="url(#blur15)">
<ellipse cx="33.80" cy="276.00" rx="10" ry="4.5" transform="rotate(30 33.80 276.00)" fill="#2f95d8"/>
<ellipse cx="33.00" cy="276.00" rx="7" ry="2.6" transform="rotate(30 33.00 276.00)" fill="#25a9c6"/>
<ellipse cx="78.80" cy="277.60" rx="12" ry="6.5" transform="rotate(-35 78.80 277.60)" fill="#2f95d8"/>
<ellipse cx="79.30" cy="277.80" rx="8.5" ry="4.5" transform="rotate(-35 79.30 277.80)" fill="#25a9c6"/>
<ellipse cx="79.50" cy="278.00" rx="5" ry="2.8" transform="rotate(-35 79.50 278.00)" fill="#7cc06a"/>
<ellipse cx="79.80" cy="278.00" rx="3" ry="1.8" transform="rotate(-35 79.80 278.00)" fill="#f2d42a"/>
</g></g>
<defs><clipPath id="cwR4"><path d="M93.50,270.60 C93.68,269.57 94.35,268.47 95.20,267.80 C96.05,267.13 97.10,266.80 98.60,266.60 C100.10,266.40 102.33,266.40 104.20,266.60 C106.07,266.80 107.92,267.23 109.80,267.80 C111.68,268.37 113.62,269.20 115.50,270.00 C117.38,270.80 119.23,271.98 121.10,272.60 C122.97,273.22 124.83,273.67 126.70,273.70 C128.57,273.73 130.43,273.32 132.30,272.80 C134.17,272.28 135.83,271.43 137.90,270.60 C139.97,269.77 142.45,268.58 144.70,267.80 C146.95,267.02 149.35,266.28 151.40,265.90 C153.45,265.52 155.50,265.38 157.00,265.50 C158.50,265.62 159.53,265.85 160.40,266.60 C161.27,267.35 161.90,268.77 162.20,270.00 C162.50,271.23 162.50,272.78 162.20,274.00 C161.90,275.22 161.27,276.28 160.40,277.30 C159.53,278.32 158.68,279.07 157.00,280.10 C155.32,281.13 152.35,282.65 150.30,283.50 C148.25,284.35 146.95,284.92 144.70,285.20 C142.45,285.48 139.05,285.48 136.80,285.20 C134.55,284.92 132.88,284.07 131.20,283.50 C129.52,282.93 128.20,281.88 126.70,281.80 C125.20,281.72 123.88,282.53 122.20,283.00 C120.52,283.47 118.67,284.33 116.60,284.60 C114.53,284.87 112.05,284.97 109.80,284.60 C107.55,284.23 105.15,283.42 103.10,282.40 C101.05,281.38 99.00,279.90 97.50,278.50 C96.00,277.10 94.77,275.32 94.10,274.00 C93.43,272.68 93.32,271.63 93.50,270.60Z"/></clipPath></defs>
<g clip-path="url(#cwR4)"><path d="M93.50,270.60 C93.68,269.57 94.35,268.47 95.20,267.80 C96.05,267.13 97.10,266.80 98.60,266.60 C100.10,266.40 102.33,266.40 104.20,266.60 C106.07,266.80 107.92,267.23 109.80,267.80 C111.68,268.37 113.62,269.20 115.50,270.00 C117.38,270.80 119.23,271.98 121.10,272.60 C122.97,273.22 124.83,273.67 126.70,273.70 C128.57,273.73 130.43,273.32 132.30,272.80 C134.17,272.28 135.83,271.43 137.90,270.60 C139.97,269.77 142.45,268.58 144.70,267.80 C146.95,267.02 149.35,266.28 151.40,265.90 C153.45,265.52 155.50,265.38 157.00,265.50 C158.50,265.62 159.53,265.85 160.40,266.60 C161.27,267.35 161.90,268.77 162.20,270.00 C162.50,271.23 162.50,272.78 162.20,274.00 C161.90,275.22 161.27,276.28 160.40,277.30 C159.53,278.32 158.68,279.07 157.00,280.10 C155.32,281.13 152.35,282.65 150.30,283.50 C148.25,284.35 146.95,284.92 144.70,285.20 C142.45,285.48 139.05,285.48 136.80,285.20 C134.55,284.92 132.88,284.07 131.20,283.50 C129.52,282.93 128.20,281.88 126.70,281.80 C125.20,281.72 123.88,282.53 122.20,283.00 C120.52,283.47 118.67,284.33 116.60,284.60 C114.53,284.87 112.05,284.97 109.80,284.60 C107.55,284.23 105.15,283.42 103.10,282.40 C101.05,281.38 99.00,279.90 97.50,278.50 C96.00,277.10 94.77,275.32 94.10,274.00 C93.43,272.68 93.32,271.63 93.50,270.60Z" fill="#4856b4"/><g filter="url(#blur15)">
<ellipse cx="102.40" cy="271.20" rx="8" ry="4" transform="rotate(25 102.40 271.20)" fill="#2f95d8"/>
<ellipse cx="101.00" cy="270.40" rx="4.5" ry="2.2" transform="rotate(25 101.00 270.40)" fill="#7cc06a"/>
<ellipse cx="147.00" cy="273.00" rx="12" ry="6" transform="rotate(-35 147.00 273.00)" fill="#2f95d8"/>
<ellipse cx="148.90" cy="271.70" rx="8" ry="3.8" transform="rotate(-35 148.90 271.70)" fill="#25a9c6"/>
<ellipse cx="151.70" cy="270.40" rx="4" ry="2.4" transform="rotate(-30 151.70 270.40)" fill="#f2d42a"/>
</g></g>
<path d="M92.3,290.6 L92.3,176.3 L128.5,176.3 L128.5,181" fill="none" stroke="#111" stroke-width="1.1" stroke-dasharray="2.2,1.6"/>
<path d="M92.3,290.6 L56.0,290.6 L56.0,283.2" fill="none" stroke="#111" stroke-width="1.1" stroke-dasharray="2.2,1.6"/>
<path d="M124.2,179.6 L132.8,179.6 L128.5,188.2Z" fill="#111"/>
<line x1="12.40" y1="180.00" x2="12.40" y2="277.00" stroke="#111" stroke-width="1.2"/>
<path d="M7.4,275 L17.4,275 L12.4,283.4Z" fill="#111"/>
<text x="7.40" y="224.40" font-size="7.0" fill="#111" text-anchor="middle" font-weight="normal" font-family='"Liberation Sans", sans-serif' textLength="55.70" lengthAdjust="spacingAndGlyphs" transform="rotate(-90 7.40 224.40)">Time step = 0.5sec</text>
<text x="21.60" y="179.40" font-size="6.6" fill="#111" text-anchor="start" font-weight="normal" font-family='"Liberation Sans", sans-serif' textLength="12.20" lengthAdjust="spacingAndGlyphs">t = 0</text>
<text x="143.50" y="295.40" font-size="7.0" fill="#111" text-anchor="start" font-weight="normal" font-family='"Liberation Sans", sans-serif' textLength="15.10" lengthAdjust="spacingAndGlyphs">t = 5s</text>
<line x1="25.00" y1="296.00" x2="41.60" y2="296.00" stroke="#000" stroke-width="2.4"/>
<line x1="127.5" y1="266" x2="127.5" y2="287" stroke="#111" stroke-width="0.8" stroke-dasharray="0.9,0.9"/>
<text x="120.10" y="266.10" font-size="4.2" fill="#222" text-anchor="start" font-weight="normal" font-family='"Liberation Sans", sans-serif' textLength="14.60" lengthAdjust="spacingAndGlyphs">Midline</text>
<line x1="116.60" y1="283.50" x2="102.00" y2="269.80" stroke="#d81b7a" stroke-width="1.1"/>
<path d="M100.6,268.4 L104.6,269.2 L102.0,271.8Z" fill="#d81b7a"/>
<line x1="140.30" y1="283.50" x2="152.80" y2="270.00" stroke="#d81b7a" stroke-width="1.1"/>
<path d="M154.2,268.6 L150.3,269.6 L152.8,272.0Z" fill="#d81b7a"/>
<text x="104.90" y="289.60" font-size="4.6" fill="#d81b7a" text-anchor="start" font-weight="normal" font-family='"Liberation Sans", sans-serif' textLength="19.90" lengthAdjust="spacingAndGlyphs">major axis</text>
<text x="132.10" y="289.60" font-size="4.6" fill="#d81b7a" text-anchor="start" font-weight="normal" font-family='"Liberation Sans", sans-serif' textLength="20.10" lengthAdjust="spacingAndGlyphs">major axis</text>
<defs><linearGradient id="parc" x1="0" x2="0" y1="0" y2="1"><stop offset="0" stop-color="#f4e61c"/><stop offset="0.17" stop-color="#f6b632"/><stop offset="0.33" stop-color="#a9c24a"/><stop offset="0.48" stop-color="#4fb892"/><stop offset="0.6" stop-color="#1fa9c9"/><stop offset="0.7" stop-color="#3192da"/><stop offset="0.82" stop-color="#4a6cc2"/><stop offset="0.92" stop-color="#4852b1"/><stop offset="1" stop-color="#3a3b98"/></linearGradient></defs>
<rect x="166.00" y="254.90" width="5.90" height="30.60" fill="url(#parc)" stroke="none" stroke-width="1"/>
<text x="172.00" y="256.60" font-size="2.9" fill="#222" text-anchor="start" font-weight="bold" font-family='"Liberation Sans", sans-serif'>0.3</text>
<text x="172.00" y="261.55" font-size="2.9" fill="#222" text-anchor="start" font-weight="bold" font-family='"Liberation Sans", sans-serif'>0.25</text>
<text x="172.00" y="266.50" font-size="2.9" fill="#222" text-anchor="start" font-weight="bold" font-family='"Liberation Sans", sans-serif'>0.2</text>
<text x="172.00" y="271.45" font-size="2.9" fill="#222" text-anchor="start" font-weight="bold" font-family='"Liberation Sans", sans-serif'>0.15</text>
<text x="172.00" y="276.40" font-size="2.9" fill="#222" text-anchor="start" font-weight="bold" font-family='"Liberation Sans", sans-serif'>0.1</text>
<text x="172.00" y="281.35" font-size="2.9" fill="#222" text-anchor="start" font-weight="bold" font-family='"Liberation Sans", sans-serif'>0.05</text>
<text x="172.00" y="286.30" font-size="2.9" fill="#222" text-anchor="start" font-weight="bold" font-family='"Liberation Sans", sans-serif'>0</text>
<text x="186.60" y="161.30" font-size="12.5" fill="#000" text-anchor="start" font-weight="normal" font-family='"Liberation Sans", sans-serif'>d</text>
<text x="242.30" y="170.50" font-size="11.5" fill="#000" text-anchor="start" font-weight="normal" font-family='"Liberation Sans", sans-serif' textLength="73.50" lengthAdjust="spacingAndGlyphs">Peak Amplitude</text>
<line x1="220.00" y1="191.30" x2="220.00" y2="275.40" stroke="#4b4c9c" stroke-width="1.1"/>
<line x1="220.00" y1="275.40" x2="345.50" y2="275.40" stroke="#4b4c9c" stroke-width="1.1"/>
<line x1="217.80" y1="275.40" x2="220.00" y2="275.40" stroke="#4b4c9c" stroke-width="1.1"/>
<text x="216.80" y="277.67" font-size="6.3" fill="#222" text-anchor="end" font-weight="bold" font-family='"Liberation Sans", sans-serif'>0.00</text>
<line x1="217.80" y1="254.50" x2="220.00" y2="254.50" stroke="#4b4c9c" stroke-width="1.1"/>
<text x="216.80" y="256.77" font-size="6.3" fill="#222" text-anchor="end" font-weight="bold" font-family='"Liberation Sans", sans-serif'>0.05</text>
<line x1="217.80" y1="233.60" x2="220.00" y2="233.60" stroke="#4b4c9c" stroke-width="1.1"/>
<text x="216.80" y="235.87" font-size="6.3" fill="#222" text-anchor="end" font-weight="bold" font-family='"Liberation Sans", sans-serif'>0.10</text>
<line x1="217.80" y1="212.70" x2="220.00" y2="212.70" stroke="#4b4c9c" stroke-width="1.1"/>
<text x="216.80" y="214.97" font-size="6.3" fill="#222" text-anchor="end" font-weight="bold" font-family='"Liberation Sans", sans-serif'>0.15</text>
<line x1="217.80" y1="191.80" x2="220.00" y2="191.80" stroke="#4b4c9c" stroke-width="1.1"/>
<text x="216.80" y="194.07" font-size="6.3" fill="#222" text-anchor="end" font-weight="bold" font-family='"Liberation Sans", sans-serif'>0.20</text>
<text x="201" y="233" font-size="7" fill="#111" text-anchor="middle" font-weight="bold" font-family='"Liberation Sans", sans-serif' transform="rotate(-90 201 233)">ΔF/F<tspan font-size="4.8" dy="1.6">0</tspan></text>
<line x1="233.60" y1="230.90" x2="233.60" y2="233.20" stroke="#ee2a9b" stroke-width="1.6"/>
<line x1="233.60" y1="247.20" x2="233.60" y2="248.40" stroke="#ee2a9b" stroke-width="1.6"/>
<line x1="231.35" y1="230.90" x2="235.85" y2="230.90" stroke="#ee2a9b" stroke-width="1.6"/>
<line x1="231.35" y1="248.40" x2="235.85" y2="248.40" stroke="#ee2a9b" stroke-width="1.6"/>
<rect x="227.30" y="233.20" width="12.60" height="14.00" fill="none" stroke="#ee2a9b" stroke-width="1.6"/>
<line x1="227.30" y1="242.00" x2="239.90" y2="242.00" stroke="#ee2a9b" stroke-width="1.6"/>
<circle cx="233.60" cy="236.00" r="1.30" fill="#ee2a9b" stroke="none" stroke-width="1"/>
<circle cx="233.60" cy="240.00" r="1.30" fill="#ee2a9b" stroke="none" stroke-width="1"/>
<circle cx="233.60" cy="244.00" r="1.30" fill="#ee2a9b" stroke="none" stroke-width="1"/>
<circle cx="233.60" cy="246.50" r="1.30" fill="#ee2a9b" stroke="none" stroke-width="1"/>
<circle cx="233.60" cy="235.00" r="1.30" fill="#fff" stroke="#ee2a9b" stroke-width="0.7"/>
<circle cx="233.60" cy="239.00" r="1.30" fill="#fff" stroke="#ee2a9b" stroke-width="0.7"/>
<circle cx="233.60" cy="230.90" r="1.30" fill="#ee2a9b" stroke="none" stroke-width="1"/>
<circle cx="233.60" cy="248.40" r="1.30" fill="#ee2a9b" stroke="none" stroke-width="1"/>
<line x1="253.50" y1="205.90" x2="253.50" y2="225.10" stroke="#ff8a1c" stroke-width="1.6"/>
<line x1="253.50" y1="234.40" x2="253.50" y2="238.40" stroke="#ff8a1c" stroke-width="1.6"/>
<line x1="251.25" y1="205.90" x2="255.75" y2="205.90" stroke="#ff8a1c" stroke-width="1.6"/>
<line x1="251.25" y1="238.40" x2="255.75" y2="238.40" stroke="#ff8a1c" stroke-width="1.6"/>
<rect x="247.20" y="225.10" width="12.60" height="9.30" fill="none" stroke="#ff8a1c" stroke-width="1.6"/>
<line x1="247.20" y1="229.50" x2="259.80" y2="229.50" stroke="#ff8a1c" stroke-width="1.6"/>
<circle cx="253.50" cy="220.00" r="1.30" fill="#ff8a1c" stroke="none" stroke-width="1"/>
<circle cx="253.50" cy="226.00" r="1.30" fill="#ff8a1c" stroke="none" stroke-width="1"/>
<circle cx="253.50" cy="232.00" r="1.30" fill="#ff8a1c" stroke="none" stroke-width="1"/>
<circle cx="253.50" cy="236.00" r="1.30" fill="#ff8a1c" stroke="none" stroke-width="1"/>
<circle cx="253.50" cy="228.00" r="1.30" fill="#fff" stroke="#ff8a1c" stroke-width="0.7"/>
<circle cx="253.50" cy="231.00" r="1.30" fill="#fff" stroke="#ff8a1c" stroke-width="0.7"/>
<circle cx="253.50" cy="205.90" r="1.30" fill="#ff8a1c" stroke="none" stroke-width="1"/>
<circle cx="253.50" cy="238.40" r="1.30" fill="#ff8a1c" stroke="none" stroke-width="1"/>
<line x1="273.30" y1="200.30" x2="273.30" y2="216.00" stroke="#8c8a1e" stroke-width="1.6"/>
<line x1="273.30" y1="233.50" x2="273.30" y2="249.00" stroke="#8c8a1e" stroke-width="1.6"/>
<line x1="271.05" y1="200.30" x2="275.55" y2="200.30" stroke="#8c8a1e" stroke-width="1.6"/>
<line x1="271.05" y1="249.00" x2="275.55" y2="249.00" stroke="#8c8a1e" stroke-width="1.6"/>
<rect x="267.00" y="216.00" width="12.60" height="17.50" fill="none" stroke="#8c8a1e" stroke-width="1.6"/>
<line x1="267.00" y1="221.30" x2="279.60" y2="221.30" stroke="#8c8a1e" stroke-width="1.6"/>
<circle cx="273.30" cy="204.00" r="1.30" fill="#8c8a1e" stroke="none" stroke-width="1"/>
<circle cx="273.30" cy="243.00" r="1.30" fill="#8c8a1e" stroke="none" stroke-width="1"/>
<circle cx="273.30" cy="218.00" r="1.30" fill="#fff" stroke="#8c8a1e" stroke-width="0.7"/>
<circle cx="273.30" cy="221.00" r="1.30" fill="#fff" stroke="#8c8a1e" stroke-width="0.7"/>
<circle cx="273.30" cy="224.00" r="1.30" fill="#fff" stroke="#8c8a1e" stroke-width="0.7"/>
<circle cx="273.30" cy="227.00" r="1.30" fill="#fff" stroke="#8c8a1e" stroke-width="0.7"/>
<circle cx="273.30" cy="230.00" r="1.30" fill="#fff" stroke="#8c8a1e" stroke-width="0.7"/>
<circle cx="273.30" cy="200.30" r="1.30" fill="#8c8a1e" stroke="none" stroke-width="1"/>
<circle cx="273.30" cy="249.00" r="1.30" fill="#8c8a1e" stroke="none" stroke-width="1"/>
<line x1="292.70" y1="202.00" x2="292.70" y2="211.30" stroke="#1f8c1f" stroke-width="1.6"/>
<line x1="292.70" y1="231.30" x2="292.70" y2="236.50" stroke="#1f8c1f" stroke-width="1.6"/>
<line x1="290.45" y1="202.00" x2="294.95" y2="202.00" stroke="#1f8c1f" stroke-width="1.6"/>
<line x1="290.45" y1="236.50" x2="294.95" y2="236.50" stroke="#1f8c1f" stroke-width="1.6"/>
<rect x="286.40" y="211.30" width="12.60" height="20.00" fill="none" stroke="#1f8c1f" stroke-width="1.6"/>
<line x1="286.40" y1="224.40" x2="299.00" y2="224.40" stroke="#1f8c1f" stroke-width="1.6"/>
<circle cx="292.70" cy="205.00" r="1.30" fill="#1f8c1f" stroke="none" stroke-width="1"/>
<circle cx="292.70" cy="224.40" r="1.30" fill="#1f8c1f" stroke="none" stroke-width="1"/>
<circle cx="292.70" cy="233.00" r="1.30" fill="#1f8c1f" stroke="none" stroke-width="1"/>
<circle cx="292.70" cy="217.00" r="1.30" fill="#fff" stroke="#1f8c1f" stroke-width="0.7"/>
<circle cx="292.70" cy="202.00" r="1.30" fill="#1f8c1f" stroke="none" stroke-width="1"/>
<circle cx="292.70" cy="236.50" r="1.30" fill="#1f8c1f" stroke="none" stroke-width="1"/>
<line x1="312.40" y1="201.70" x2="312.40" y2="217.20" stroke="#1f1ff5" stroke-width="1.6"/>
<line x1="312.40" y1="232.30" x2="312.40" y2="236.50" stroke="#1f1ff5" stroke-width="1.6"/>
<line x1="310.15" y1="201.70" x2="314.65" y2="201.70" stroke="#1f1ff5" stroke-width="1.6"/>
<line x1="310.15" y1="236.50" x2="314.65" y2="236.50" stroke="#1f1ff5" stroke-width="1.6"/>
<rect x="306.10" y="217.20" width="12.60" height="15.10" fill="none" stroke="#1f1ff5" stroke-width="1.6"/>
<line x1="306.10" y1="222.20" x2="318.70" y2="222.20" stroke="#1f1ff5" stroke-width="1.6"/>
<circle cx="312.40" cy="220.00" r="1.30" fill="#1f1ff5" stroke="none" stroke-width="1"/>
<circle cx="312.40" cy="234.00" r="1.30" fill="#1f1ff5" stroke="none" stroke-width="1"/>
<circle cx="312.40" cy="224.00" r="1.30" fill="#fff" stroke="#1f1ff5" stroke-width="0.7"/>
<circle cx="312.40" cy="228.00" r="1.30" fill="#fff" stroke="#1f1ff5" stroke-width="0.7"/>
<circle cx="312.40" cy="201.70" r="1.30" fill="#1f1ff5" stroke="none" stroke-width="1"/>
<circle cx="312.40" cy="236.50" r="1.30" fill="#1f1ff5" stroke="none" stroke-width="1"/>
<line x1="332.00" y1="233.20" x2="332.00" y2="240.20" stroke="#7a1e9c" stroke-width="1.6"/>
<line x1="332.00" y1="246.20" x2="332.00" y2="249.80" stroke="#7a1e9c" stroke-width="1.6"/>
<line x1="329.75" y1="233.20" x2="334.25" y2="233.20" stroke="#7a1e9c" stroke-width="1.6"/>
<line x1="329.75" y1="249.80" x2="334.25" y2="249.80" stroke="#7a1e9c" stroke-width="1.6"/>
<rect x="325.70" y="240.20" width="12.60" height="6.00" fill="none" stroke="#7a1e9c" stroke-width="1.6"/>
<line x1="325.70" y1="242.70" x2="338.30" y2="242.70" stroke="#7a1e9c" stroke-width="1.6"/>
<circle cx="332.00" cy="238.00" r="1.30" fill="#7a1e9c" stroke="none" stroke-width="1"/>
<circle cx="332.00" cy="244.00" r="1.30" fill="#7a1e9c" stroke="none" stroke-width="1"/>
<circle cx="332.00" cy="247.00" r="1.30" fill="#7a1e9c" stroke="none" stroke-width="1"/>
<circle cx="332.00" cy="233.20" r="1.30" fill="#7a1e9c" stroke="none" stroke-width="1"/>
<circle cx="332.00" cy="249.80" r="1.30" fill="#7a1e9c" stroke="none" stroke-width="1"/>
<line x1="233.60" y1="275.40" x2="233.60" y2="277.60" stroke="#4b4c9c" stroke-width="1.1"/>
<line x1="253.50" y1="275.40" x2="253.50" y2="277.60" stroke="#4b4c9c" stroke-width="1.1"/>
<line x1="273.30" y1="275.40" x2="273.30" y2="277.60" stroke="#4b4c9c" stroke-width="1.1"/>
<line x1="292.70" y1="275.40" x2="292.70" y2="277.60" stroke="#4b4c9c" stroke-width="1.1"/>
<line x1="312.40" y1="275.40" x2="312.40" y2="277.60" stroke="#4b4c9c" stroke-width="1.1"/>
<line x1="332.00" y1="275.40" x2="332.00" y2="277.60" stroke="#4b4c9c" stroke-width="1.1"/>
<text x="235.80" y="282.40" font-size="6.6" fill="#222" text-anchor="end" font-weight="bold" font-family='"Liberation Sans", sans-serif' transform="rotate(-45 235.80 282.40)">P0-P1</text>
<text x="255.70" y="282.40" font-size="6.6" fill="#222" text-anchor="end" font-weight="bold" font-family='"Liberation Sans", sans-serif' transform="rotate(-45 255.70 282.40)">P3-P4</text>
<text x="275.50" y="282.40" font-size="6.6" fill="#222" text-anchor="end" font-weight="bold" font-family='"Liberation Sans", sans-serif' transform="rotate(-45 275.50 282.40)">P6-P7</text>
<text x="294.90" y="282.40" font-size="6.6" fill="#222" text-anchor="end" font-weight="bold" font-family='"Liberation Sans", sans-serif' transform="rotate(-45 294.90 282.40)">P9-P10</text>
<text x="314.60" y="282.40" font-size="6.6" fill="#222" text-anchor="end" font-weight="bold" font-family='"Liberation Sans", sans-serif' transform="rotate(-45 314.60 282.40)">P11-P12</text>
<text x="334.20" y="282.40" font-size="6.6" fill="#222" text-anchor="end" font-weight="bold" font-family='"Liberation Sans", sans-serif' transform="rotate(-45 334.20 282.40)">P13</text>
<line x1="233.60" y1="192.80" x2="250.10" y2="192.80" stroke="#222" stroke-width="1.2"/>
<line x1="233.60" y1="191.10" x2="233.60" y2="194.50" stroke="#222" stroke-width="1.2"/>
<line x1="250.10" y1="191.10" x2="250.10" y2="194.50" stroke="#222" stroke-width="1.2"/>
<text x="241.85" y="191.50" font-size="5.6" fill="#222" text-anchor="middle" font-weight="bold" font-family='"Liberation Sans", sans-serif'>**</text>
<line x1="253.50" y1="192.80" x2="269.80" y2="192.80" stroke="#222" stroke-width="1.2"/>
<line x1="253.50" y1="191.10" x2="253.50" y2="194.50" stroke="#222" stroke-width="1.2"/>
<line x1="269.80" y1="191.10" x2="269.80" y2="194.50" stroke="#222" stroke-width="1.2"/>
<text x="261.65" y="191.50" font-size="5.6" fill="#222" text-anchor="middle" font-weight="bold" font-family='"Liberation Sans", sans-serif'>n.s.</text>
<line x1="273.30" y1="192.80" x2="289.50" y2="192.80" stroke="#222" stroke-width="1.2"/>
<line x1="273.30" y1="191.10" x2="273.30" y2="194.50" stroke="#222" stroke-width="1.2"/>
<line x1="289.50" y1="191.10" x2="289.50" y2="194.50" stroke="#222" stroke-width="1.2"/>
<text x="281.40" y="191.50" font-size="5.6" fill="#222" text-anchor="middle" font-weight="bold" font-family='"Liberation Sans", sans-serif'>n.s.</text>
<line x1="293.00" y1="192.80" x2="309.30" y2="192.80" stroke="#222" stroke-width="1.2"/>
<line x1="293.00" y1="191.10" x2="293.00" y2="194.50" stroke="#222" stroke-width="1.2"/>
<line x1="309.30" y1="191.10" x2="309.30" y2="194.50" stroke="#222" stroke-width="1.2"/>
<text x="301.15" y="191.50" font-size="5.6" fill="#222" text-anchor="middle" font-weight="bold" font-family='"Liberation Sans", sans-serif'>n.s.</text>
<line x1="312.40" y1="192.80" x2="329.70" y2="192.80" stroke="#222" stroke-width="1.2"/>
<line x1="312.40" y1="191.10" x2="312.40" y2="194.50" stroke="#222" stroke-width="1.2"/>
<line x1="329.70" y1="191.10" x2="329.70" y2="194.50" stroke="#222" stroke-width="1.2"/>
<text x="321.05" y="191.50" font-size="5.6" fill="#222" text-anchor="middle" font-weight="bold" font-family='"Liberation Sans", sans-serif'>****</text>
<line x1="253.50" y1="184.90" x2="332.10" y2="184.90" stroke="#222" stroke-width="1.2"/>
<line x1="253.50" y1="183.20" x2="253.50" y2="186.60" stroke="#222" stroke-width="1.2"/>
<line x1="332.10" y1="183.20" x2="332.10" y2="186.60" stroke="#222" stroke-width="1.2"/>
<text x="292.80" y="183.60" font-size="5.6" fill="#222" text-anchor="middle" font-weight="bold" font-family='"Liberation Sans", sans-serif'>***</text>
<text x="345.30" y="161.00" font-size="12.5" fill="#000" text-anchor="start" font-weight="normal" font-family='"Liberation Sans", sans-serif'>e</text>
<text x="403.80" y="170.50" font-size="11.5" fill="#000" text-anchor="start" font-weight="normal" font-family='"Liberation Sans", sans-serif' textLength="78.00" lengthAdjust="spacingAndGlyphs">Event Frequency</text>
<line x1="376.00" y1="187.10" x2="376.00" y2="275.80" stroke="#4b4c9c" stroke-width="1.1"/>
<line x1="376.00" y1="275.80" x2="508.00" y2="275.80" stroke="#4b4c9c" stroke-width="1.1"/>
<line x1="373.80" y1="275.80" x2="376.00" y2="275.80" stroke="#4b4c9c" stroke-width="1.1"/>
<text x="372.80" y="278.07" font-size="6.3" fill="#222" text-anchor="end" font-weight="bold" font-family='"Liberation Sans", sans-serif'>0</text>
<line x1="373.80" y1="258.16" x2="376.00" y2="258.16" stroke="#4b4c9c" stroke-width="1.1"/>
<text x="372.80" y="260.43" font-size="6.3" fill="#222" text-anchor="end" font-weight="bold" font-family='"Liberation Sans", sans-serif'>50</text>
<line x1="373.80" y1="240.52" x2="376.00" y2="240.52" stroke="#4b4c9c" stroke-width="1.1"/>
<text x="372.80" y="242.79" font-size="6.3" fill="#222" text-anchor="end" font-weight="bold" font-family='"Liberation Sans", sans-serif'>100</text>
<line x1="373.80" y1="222.88" x2="376.00" y2="222.88" stroke="#4b4c9c" stroke-width="1.1"/>
<text x="372.80" y="225.15" font-size="6.3" fill="#222" text-anchor="end" font-weight="bold" font-family='"Liberation Sans", sans-serif'>150</text>
<line x1="373.80" y1="205.24" x2="376.00" y2="205.24" stroke="#4b4c9c" stroke-width="1.1"/>
<text x="372.80" y="207.51" font-size="6.3" fill="#222" text-anchor="end" font-weight="bold" font-family='"Liberation Sans", sans-serif'>200</text>
<line x1="373.80" y1="187.60" x2="376.00" y2="187.60" stroke="#4b4c9c" stroke-width="1.1"/>
<text x="372.80" y="189.87" font-size="6.3" fill="#222" text-anchor="end" font-weight="bold" font-family='"Liberation Sans", sans-serif'>250</text>
<text x="357.60" y="231.70" font-size="7" fill="#111" text-anchor="middle" font-weight="bold" font-family='"Liberation Sans", sans-serif' transform="rotate(-90 357.60 231.70)">Bands/min</text>
<line x1="390.00" y1="265.82" x2="390.00" y2="267.62" stroke="#ee2a9b" stroke-width="1.6"/>
<line x1="390.00" y1="272.48" x2="390.00" y2="274.49" stroke="#ee2a9b" stroke-width="1.6"/>
<line x1="387.75" y1="265.82" x2="392.25" y2="265.82" stroke="#ee2a9b" stroke-width="1.6"/>
<line x1="387.75" y1="274.49" x2="392.25" y2="274.49" stroke="#ee2a9b" stroke-width="1.6"/>
<rect x="383.15" y="267.62" width="13.70" height="4.87" fill="none" stroke="#ee2a9b" stroke-width="1.6"/>
<line x1="383.15" y1="270.30" x2="396.85" y2="270.30" stroke="#ee2a9b" stroke-width="1.6"/>
<circle cx="390.00" cy="271.02" r="1.30" fill="#ee2a9b" stroke="none" stroke-width="1"/>
<circle cx="390.00" cy="266.90" r="1.30" fill="#ee2a9b" stroke="none" stroke-width="1"/>
<circle cx="390.00" cy="271.39" r="1.30" fill="#fff" stroke="#ee2a9b" stroke-width="0.7"/>
<circle cx="390.00" cy="265.82" r="1.30" fill="#ee2a9b" stroke="none" stroke-width="1"/>
<circle cx="390.00" cy="274.49" r="1.30" fill="#ee2a9b" stroke="none" stroke-width="1"/>
<line x1="411.00" y1="249.90" x2="411.00" y2="253.01" stroke="#ff8a1c" stroke-width="1.6"/>
<line x1="411.00" y1="260.31" x2="411.00" y2="263.91" stroke="#ff8a1c" stroke-width="1.6"/>
<line x1="408.75" y1="249.90" x2="413.25" y2="249.90" stroke="#ff8a1c" stroke-width="1.6"/>
<line x1="408.75" y1="263.91" x2="413.25" y2="263.91" stroke="#ff8a1c" stroke-width="1.6"/>
<rect x="404.15" y="253.01" width="13.70" height="7.30" fill="none" stroke="#ff8a1c" stroke-width="1.6"/>
<line x1="404.15" y1="256.61" x2="417.85" y2="256.61" stroke="#ff8a1c" stroke-width="1.6"/>
<circle cx="411.00" cy="258.12" r="1.30" fill="#ff8a1c" stroke="none" stroke-width="1"/>
<circle cx="411.00" cy="251.77" r="1.30" fill="#ff8a1c" stroke="none" stroke-width="1"/>
<circle cx="411.00" cy="258.46" r="1.30" fill="#fff" stroke="#ff8a1c" stroke-width="0.7"/>
<circle cx="411.00" cy="249.90" r="1.30" fill="#ff8a1c" stroke="none" stroke-width="1"/>
<circle cx="411.00" cy="263.91" r="1.30" fill="#ff8a1c" stroke="none" stroke-width="1"/>
<line x1="432.00" y1="239.29" x2="432.00" y2="245.28" stroke="#8c8a1e" stroke-width="1.6"/>
<line x1="432.00" y1="253.93" x2="432.00" y2="258.16" stroke="#8c8a1e" stroke-width="1.6"/>
<line x1="429.75" y1="239.29" x2="434.25" y2="239.29" stroke="#8c8a1e" stroke-width="1.6"/>
<line x1="429.75" y1="258.16" x2="434.25" y2="258.16" stroke="#8c8a1e" stroke-width="1.6"/>
<rect x="425.15" y="245.28" width="13.70" height="8.64" fill="none" stroke="#8c8a1e" stroke-width="1.6"/>
<line x1="425.15" y1="249.34" x2="438.85" y2="249.34" stroke="#8c8a1e" stroke-width="1.6"/>
<circle cx="432.00" cy="251.33" r="1.30" fill="#8c8a1e" stroke="none" stroke-width="1"/>
<circle cx="432.00" cy="242.88" r="1.30" fill="#8c8a1e" stroke="none" stroke-width="1"/>
<circle cx="432.00" cy="251.63" r="1.30" fill="#fff" stroke="#8c8a1e" stroke-width="0.7"/>
<circle cx="432.00" cy="239.29" r="1.30" fill="#8c8a1e" stroke="none" stroke-width="1"/>
<circle cx="432.00" cy="258.16" r="1.30" fill="#8c8a1e" stroke="none" stroke-width="1"/>
<line x1="453.00" y1="241.08" x2="453.00" y2="242.64" stroke="#1f8c1f" stroke-width="1.6"/>
<line x1="453.00" y1="251.49" x2="453.00" y2="256.61" stroke="#1f8c1f" stroke-width="1.6"/>
<line x1="450.75" y1="241.08" x2="455.25" y2="241.08" stroke="#1f8c1f" stroke-width="1.6"/>
<line x1="450.75" y1="256.61" x2="455.25" y2="256.61" stroke="#1f8c1f" stroke-width="1.6"/>
<rect x="446.15" y="242.64" width="13.70" height="8.86" fill="none" stroke="#1f8c1f" stroke-width="1.6"/>
<line x1="446.15" y1="246.59" x2="459.85" y2="246.59" stroke="#1f8c1f" stroke-width="1.6"/>
<circle cx="453.00" cy="248.84" r="1.30" fill="#1f8c1f" stroke="none" stroke-width="1"/>
<circle cx="453.00" cy="242.02" r="1.30" fill="#1f8c1f" stroke="none" stroke-width="1"/>
<circle cx="453.00" cy="249.04" r="1.30" fill="#fff" stroke="#1f8c1f" stroke-width="0.7"/>
<circle cx="453.00" cy="241.08" r="1.30" fill="#1f8c1f" stroke="none" stroke-width="1"/>
<circle cx="453.00" cy="256.61" r="1.30" fill="#1f8c1f" stroke="none" stroke-width="1"/>
<line x1="474.00" y1="205.59" x2="474.00" y2="228.38" stroke="#1f1ff5" stroke-width="1.6"/>
<line x1="474.00" y1="236.99" x2="474.00" y2="247.22" stroke="#1f1ff5" stroke-width="1.6"/>
<line x1="471.75" y1="205.59" x2="476.25" y2="205.59" stroke="#1f1ff5" stroke-width="1.6"/>
<line x1="471.75" y1="247.22" x2="476.25" y2="247.22" stroke="#1f1ff5" stroke-width="1.6"/>
<rect x="467.15" y="228.38" width="13.70" height="8.61" fill="none" stroke="#1f1ff5" stroke-width="1.6"/>
<line x1="467.15" y1="232.90" x2="480.85" y2="232.90" stroke="#1f1ff5" stroke-width="1.6"/>
<circle cx="474.00" cy="234.41" r="1.30" fill="#1f1ff5" stroke="none" stroke-width="1"/>
<circle cx="474.00" cy="219.27" r="1.30" fill="#1f1ff5" stroke="none" stroke-width="1"/>
<circle cx="474.00" cy="234.95" r="1.30" fill="#fff" stroke="#1f1ff5" stroke-width="0.7"/>
<circle cx="474.00" cy="205.59" r="1.30" fill="#1f1ff5" stroke="none" stroke-width="1"/>
<circle cx="474.00" cy="247.22" r="1.30" fill="#1f1ff5" stroke="none" stroke-width="1"/>
<line x1="494.20" y1="243.91" x2="494.20" y2="252.59" stroke="#7a1e9c" stroke-width="1.6"/>
<line x1="494.20" y1="264.30" x2="494.20" y2="268.99" stroke="#7a1e9c" stroke-width="1.6"/>
<line x1="491.95" y1="243.91" x2="496.45" y2="243.91" stroke="#7a1e9c" stroke-width="1.6"/>
<line x1="491.95" y1="268.99" x2="496.45" y2="268.99" stroke="#7a1e9c" stroke-width="1.6"/>
<rect x="487.35" y="252.59" width="13.70" height="11.71" fill="none" stroke="#7a1e9c" stroke-width="1.6"/>
<line x1="487.35" y1="262.11" x2="501.05" y2="262.11" stroke="#7a1e9c" stroke-width="1.6"/>
<circle cx="494.20" cy="260.78" r="1.30" fill="#7a1e9c" stroke="none" stroke-width="1"/>
<circle cx="494.20" cy="249.11" r="1.30" fill="#7a1e9c" stroke="none" stroke-width="1"/>
<circle cx="494.20" cy="263.21" r="1.30" fill="#fff" stroke="#7a1e9c" stroke-width="0.7"/>
<circle cx="494.20" cy="243.91" r="1.30" fill="#7a1e9c" stroke="none" stroke-width="1"/>
<circle cx="494.20" cy="268.99" r="1.30" fill="#7a1e9c" stroke="none" stroke-width="1"/>
<line x1="390.00" y1="275.80" x2="390.00" y2="278.00" stroke="#4b4c9c" stroke-width="1.1"/>
<line x1="411.00" y1="275.80" x2="411.00" y2="278.00" stroke="#4b4c9c" stroke-width="1.1"/>
<line x1="432.00" y1="275.80" x2="432.00" y2="278.00" stroke="#4b4c9c" stroke-width="1.1"/>
<line x1="453.00" y1="275.80" x2="453.00" y2="278.00" stroke="#4b4c9c" stroke-width="1.1"/>
<line x1="474.00" y1="275.80" x2="474.00" y2="278.00" stroke="#4b4c9c" stroke-width="1.1"/>
<line x1="494.20" y1="275.80" x2="494.20" y2="278.00" stroke="#4b4c9c" stroke-width="1.1"/>
<text x="392.20" y="282.40" font-size="6.6" fill="#222" text-anchor="end" font-weight="bold" font-family='"Liberation Sans", sans-serif' transform="rotate(-45 392.20 282.40)">P0-P1</text>
<text x="413.20" y="282.40" font-size="6.6" fill="#222" text-anchor="end" font-weight="bold" font-family='"Liberation Sans", sans-serif' transform="rotate(-45 413.20 282.40)">P3-P4</text>
<text x="434.20" y="282.40" font-size="6.6" fill="#222" text-anchor="end" font-weight="bold" font-family='"Liberation Sans", sans-serif' transform="rotate(-45 434.20 282.40)">P6-P7</text>
<text x="455.20" y="282.40" font-size="6.6" fill="#222" text-anchor="end" font-weight="bold" font-family='"Liberation Sans", sans-serif' transform="rotate(-45 455.20 282.40)">P9-P10</text>
<text x="476.20" y="282.40" font-size="6.6" fill="#222" text-anchor="end" font-weight="bold" font-family='"Liberation Sans", sans-serif' transform="rotate(-45 476.20 282.40)">P11-P12</text>
<text x="496.40" y="282.40" font-size="6.6" fill="#222" text-anchor="end" font-weight="bold" font-family='"Liberation Sans", sans-serif' transform="rotate(-45 496.40 282.40)">P13</text>
<line x1="388.60" y1="196.80" x2="406.00" y2="196.80" stroke="#222" stroke-width="1.2"/>
<line x1="388.60" y1="195.10" x2="388.60" y2="198.50" stroke="#222" stroke-width="1.2"/>
<line x1="406.00" y1="195.10" x2="406.00" y2="198.50" stroke="#222" stroke-width="1.2"/>
<text x="397.30" y="195.50" font-size="5.6" fill="#222" text-anchor="middle" font-weight="bold" font-family='"Liberation Sans", sans-serif'>****</text>
<line x1="410.40" y1="196.80" x2="428.00" y2="196.80" stroke="#222" stroke-width="1.2"/>
<line x1="410.40" y1="195.10" x2="410.40" y2="198.50" stroke="#222" stroke-width="1.2"/>
<line x1="428.00" y1="195.10" x2="428.00" y2="198.50" stroke="#222" stroke-width="1.2"/>
<text x="419.20" y="195.50" font-size="5.6" fill="#222" text-anchor="middle" font-weight="bold" font-family='"Liberation Sans", sans-serif'>**</text>
<line x1="432.00" y1="196.80" x2="449.80" y2="196.80" stroke="#222" stroke-width="1.2"/>
<line x1="432.00" y1="195.10" x2="432.00" y2="198.50" stroke="#222" stroke-width="1.2"/>
<line x1="449.80" y1="195.10" x2="449.80" y2="198.50" stroke="#222" stroke-width="1.2"/>
<text x="440.90" y="195.50" font-size="5.6" fill="#222" text-anchor="middle" font-weight="bold" font-family='"Liberation Sans", sans-serif'>n.s.</text>
<line x1="453.50" y1="196.80" x2="471.40" y2="196.80" stroke="#222" stroke-width="1.2"/>
<line x1="453.50" y1="195.10" x2="453.50" y2="198.50" stroke="#222" stroke-width="1.2"/>
<line x1="471.40" y1="195.10" x2="471.40" y2="198.50" stroke="#222" stroke-width="1.2"/>
<text x="462.45" y="195.50" font-size="5.6" fill="#222" text-anchor="middle" font-weight="bold" font-family='"Liberation Sans", sans-serif'>***</text>
<line x1="475.30" y1="196.80" x2="493.70" y2="196.80" stroke="#222" stroke-width="1.2"/>
<line x1="475.30" y1="195.10" x2="475.30" y2="198.50" stroke="#222" stroke-width="1.2"/>
<line x1="493.70" y1="195.10" x2="493.70" y2="198.50" stroke="#222" stroke-width="1.2"/>
<text x="484.50" y="195.50" font-size="5.6" fill="#222" text-anchor="middle" font-weight="bold" font-family='"Liberation Sans", sans-serif'>****</text>
<line x1="432.00" y1="186.30" x2="494.00" y2="186.30" stroke="#222" stroke-width="1.2"/>
<line x1="432.00" y1="184.60" x2="432.00" y2="188.00" stroke="#222" stroke-width="1.2"/>
<line x1="494.00" y1="184.60" x2="494.00" y2="188.00" stroke="#222" stroke-width="1.2"/>
<text x="463.00" y="185.00" font-size="5.6" fill="#222" text-anchor="middle" font-weight="bold" font-family='"Liberation Sans", sans-serif'>**</text>
<text x="515.80" y="160.80" font-size="12.5" fill="#000" text-anchor="start" font-weight="normal" font-family='"Liberation Sans", sans-serif'>f</text>
<text x="546.20" y="166.00" font-size="11.5" fill="#000" text-anchor="start" font-weight="normal" font-family='"Liberation Sans", sans-serif' textLength="108.00" lengthAdjust="spacingAndGlyphs">Normalized Bandwidth</text>
<line x1="537.00" y1="193.10" x2="537.00" y2="275.00" stroke="#4b4c9c" stroke-width="1.1"/>
<line x1="537.00" y1="275.00" x2="660.00" y2="275.00" stroke="#4b4c9c" stroke-width="1.1"/>
<line x1="534.80" y1="275.00" x2="537.00" y2="275.00" stroke="#4b4c9c" stroke-width="1.1"/>
<text x="533.80" y="277.27" font-size="6.3" fill="#222" text-anchor="end" font-weight="normal" font-family='"Liberation Sans", sans-serif'>0.1</text>
<line x1="534.80" y1="258.72" x2="537.00" y2="258.72" stroke="#4b4c9c" stroke-width="1.1"/>
<text x="533.80" y="260.99" font-size="6.3" fill="#222" text-anchor="end" font-weight="normal" font-family='"Liberation Sans", sans-serif'>0.2</text>
<line x1="534.80" y1="242.44" x2="537.00" y2="242.44" stroke="#4b4c9c" stroke-width="1.1"/>
<text x="533.80" y="244.71" font-size="6.3" fill="#222" text-anchor="end" font-weight="normal" font-family='"Liberation Sans", sans-serif'>0.3</text>
<line x1="534.80" y1="226.16" x2="537.00" y2="226.16" stroke="#4b4c9c" stroke-width="1.1"/>
<text x="533.80" y="228.43" font-size="6.3" fill="#222" text-anchor="end" font-weight="normal" font-family='"Liberation Sans", sans-serif'>0.4</text>
<line x1="534.80" y1="209.88" x2="537.00" y2="209.88" stroke="#4b4c9c" stroke-width="1.1"/>
<text x="533.80" y="212.15" font-size="6.3" fill="#222" text-anchor="end" font-weight="normal" font-family='"Liberation Sans", sans-serif'>0.5</text>
<line x1="534.80" y1="193.60" x2="537.00" y2="193.60" stroke="#4b4c9c" stroke-width="1.1"/>
<text x="533.80" y="195.87" font-size="6.3" fill="#222" text-anchor="end" font-weight="normal" font-family='"Liberation Sans", sans-serif'>0.6</text>
<text x="517.80" y="234.00" font-size="7" fill="#222" text-anchor="middle" font-weight="normal" font-family='"Liberation Sans", sans-serif' transform="rotate(-90 517.80 234.00)">Proportion</text>
<line x1="550.50" y1="203.69" x2="550.50" y2="220.30" stroke="#ee2a9b" stroke-width="1.6"/>
<line x1="550.50" y1="235.60" x2="550.50" y2="247.98" stroke="#ee2a9b" stroke-width="1.6"/>
<line x1="548.25" y1="203.69" x2="552.75" y2="203.69" stroke="#ee2a9b" stroke-width="1.6"/>
<line x1="548.25" y1="247.98" x2="552.75" y2="247.98" stroke="#ee2a9b" stroke-width="1.6"/>
<rect x="544.00" y="220.30" width="13.00" height="15.30" fill="none" stroke="#ee2a9b" stroke-width="1.6"/>
<line x1="544.00" y1="225.18" x2="557.00" y2="225.18" stroke="#ee2a9b" stroke-width="1.6"/>
<circle cx="550.50" cy="212.00" r="1.20" fill="#ee2a9b" stroke="none" stroke-width="1"/>
<circle cx="550.50" cy="230.39" r="1.20" fill="#fff" stroke="#ee2a9b" stroke-width="0.7"/>
<circle cx="550.50" cy="222.74" r="1.20" fill="#fff" stroke="#ee2a9b" stroke-width="0.7"/>
<circle cx="550.50" cy="237.23" r="1.20" fill="#fff" stroke="#ee2a9b" stroke-width="0.7"/>
<circle cx="550.50" cy="203.69" r="1.20" fill="#ee2a9b" stroke="none" stroke-width="1"/>
<circle cx="550.50" cy="247.98" r="1.20" fill="#ee2a9b" stroke="none" stroke-width="1"/>
<line x1="569.90" y1="196.04" x2="569.90" y2="217.86" stroke="#ff8a1c" stroke-width="1.6"/>
<line x1="569.90" y1="232.51" x2="569.90" y2="240.65" stroke="#ff8a1c" stroke-width="1.6"/>
<line x1="567.65" y1="196.04" x2="572.15" y2="196.04" stroke="#ff8a1c" stroke-width="1.6"/>
<line x1="567.65" y1="240.65" x2="572.15" y2="240.65" stroke="#ff8a1c" stroke-width="1.6"/>
<rect x="563.40" y="217.86" width="13.00" height="14.65" fill="none" stroke="#ff8a1c" stroke-width="1.6"/>
<line x1="563.40" y1="227.95" x2="576.40" y2="227.95" stroke="#ff8a1c" stroke-width="1.6"/>
<circle cx="569.90" cy="206.95" r="1.20" fill="#ff8a1c" stroke="none" stroke-width="1"/>
<circle cx="569.90" cy="230.23" r="1.20" fill="#fff" stroke="#ff8a1c" stroke-width="0.7"/>
<circle cx="569.90" cy="222.90" r="1.20" fill="#fff" stroke="#ff8a1c" stroke-width="0.7"/>
<circle cx="569.90" cy="234.14" r="1.20" fill="#fff" stroke="#ff8a1c" stroke-width="0.7"/>
<circle cx="569.90" cy="196.04" r="1.20" fill="#ff8a1c" stroke="none" stroke-width="1"/>
<circle cx="569.90" cy="240.65" r="1.20" fill="#ff8a1c" stroke="none" stroke-width="1"/>
<line x1="589.00" y1="221.60" x2="589.00" y2="232.51" stroke="#8c8a1e" stroke-width="1.6"/>
<line x1="589.00" y1="250.25" x2="589.00" y2="257.25" stroke="#8c8a1e" stroke-width="1.6"/>
<line x1="586.75" y1="221.60" x2="591.25" y2="221.60" stroke="#8c8a1e" stroke-width="1.6"/>
<line x1="586.75" y1="257.25" x2="591.25" y2="257.25" stroke="#8c8a1e" stroke-width="1.6"/>
<rect x="582.50" y="232.51" width="13.00" height="17.75" fill="none" stroke="#8c8a1e" stroke-width="1.6"/>
<line x1="582.50" y1="243.58" x2="595.50" y2="243.58" stroke="#8c8a1e" stroke-width="1.6"/>
<circle cx="589.00" cy="227.06" r="1.20" fill="#8c8a1e" stroke="none" stroke-width="1"/>
<circle cx="589.00" cy="246.92" r="1.20" fill="#fff" stroke="#8c8a1e" stroke-width="0.7"/>
<circle cx="589.00" cy="238.04" r="1.20" fill="#fff" stroke="#8c8a1e" stroke-width="0.7"/>
<circle cx="589.00" cy="251.88" r="1.20" fill="#fff" stroke="#8c8a1e" stroke-width="0.7"/>
<circle cx="589.00" cy="221.60" r="1.20" fill="#8c8a1e" stroke="none" stroke-width="1"/>
<circle cx="589.00" cy="257.25" r="1.20" fill="#8c8a1e" stroke="none" stroke-width="1"/>
<line x1="608.30" y1="229.25" x2="608.30" y2="239.84" stroke="#1f8c1f" stroke-width="1.6"/>
<line x1="608.30" y1="253.51" x2="608.30" y2="258.07" stroke="#1f8c1f" stroke-width="1.6"/>
<line x1="606.05" y1="229.25" x2="610.55" y2="229.25" stroke="#1f8c1f" stroke-width="1.6"/>
<line x1="606.05" y1="258.07" x2="610.55" y2="258.07" stroke="#1f8c1f" stroke-width="1.6"/>
<rect x="601.80" y="239.84" width="13.00" height="13.68" fill="none" stroke="#1f8c1f" stroke-width="1.6"/>
<line x1="601.80" y1="247.98" x2="614.80" y2="247.98" stroke="#1f8c1f" stroke-width="1.6"/>
<circle cx="608.30" cy="234.54" r="1.20" fill="#1f8c1f" stroke="none" stroke-width="1"/>
<circle cx="608.30" cy="250.74" r="1.20" fill="#fff" stroke="#1f8c1f" stroke-width="0.7"/>
<circle cx="608.30" cy="243.91" r="1.20" fill="#fff" stroke="#1f8c1f" stroke-width="0.7"/>
<circle cx="608.30" cy="255.14" r="1.20" fill="#fff" stroke="#1f8c1f" stroke-width="0.7"/>
<circle cx="608.30" cy="229.25" r="1.20" fill="#1f8c1f" stroke="none" stroke-width="1"/>
<circle cx="608.30" cy="258.07" r="1.20" fill="#1f8c1f" stroke="none" stroke-width="1"/>
<line x1="627.70" y1="235.28" x2="627.70" y2="242.60" stroke="#1f1ff5" stroke-width="1.6"/>
<line x1="627.70" y1="255.63" x2="627.70" y2="262.95" stroke="#1f1ff5" stroke-width="1.6"/>
<line x1="625.45" y1="235.28" x2="629.95" y2="235.28" stroke="#1f1ff5" stroke-width="1.6"/>
<line x1="625.45" y1="262.95" x2="629.95" y2="262.95" stroke="#1f1ff5" stroke-width="1.6"/>
<rect x="621.20" y="242.60" width="13.00" height="13.02" fill="none" stroke="#1f1ff5" stroke-width="1.6"/>
<line x1="621.20" y1="254.32" x2="634.20" y2="254.32" stroke="#1f1ff5" stroke-width="1.6"/>
<circle cx="627.70" cy="238.94" r="1.20" fill="#1f1ff5" stroke="none" stroke-width="1"/>
<circle cx="627.70" cy="254.98" r="1.20" fill="#fff" stroke="#1f1ff5" stroke-width="0.7"/>
<circle cx="627.70" cy="248.46" r="1.20" fill="#fff" stroke="#1f1ff5" stroke-width="0.7"/>
<circle cx="627.70" cy="257.25" r="1.20" fill="#fff" stroke="#1f1ff5" stroke-width="0.7"/>
<circle cx="627.70" cy="235.28" r="1.20" fill="#1f1ff5" stroke="none" stroke-width="1"/>
<circle cx="627.70" cy="262.95" r="1.20" fill="#1f1ff5" stroke="none" stroke-width="1"/>
<line x1="646.90" y1="231.53" x2="646.90" y2="238.37" stroke="#7a1e9c" stroke-width="1.6"/>
<line x1="646.90" y1="248.46" x2="646.90" y2="251.07" stroke="#7a1e9c" stroke-width="1.6"/>
<line x1="644.65" y1="231.53" x2="649.15" y2="231.53" stroke="#7a1e9c" stroke-width="1.6"/>
<line x1="644.65" y1="251.07" x2="649.15" y2="251.07" stroke="#7a1e9c" stroke-width="1.6"/>
<rect x="640.40" y="238.37" width="13.00" height="10.09" fill="none" stroke="#7a1e9c" stroke-width="1.6"/>
<line x1="640.40" y1="246.18" x2="653.40" y2="246.18" stroke="#7a1e9c" stroke-width="1.6"/>
<circle cx="646.90" cy="234.95" r="1.20" fill="#7a1e9c" stroke="none" stroke-width="1"/>
<circle cx="646.90" cy="247.32" r="1.20" fill="#fff" stroke="#7a1e9c" stroke-width="0.7"/>
<circle cx="646.90" cy="242.28" r="1.20" fill="#fff" stroke="#7a1e9c" stroke-width="0.7"/>
<circle cx="646.90" cy="250.09" r="1.20" fill="#fff" stroke="#7a1e9c" stroke-width="0.7"/>
<circle cx="646.90" cy="231.53" r="1.20" fill="#7a1e9c" stroke="none" stroke-width="1"/>
<circle cx="646.90" cy="251.07" r="1.20" fill="#7a1e9c" stroke="none" stroke-width="1"/>
<line x1="550.50" y1="275.00" x2="550.50" y2="277.20" stroke="#4b4c9c" stroke-width="1.1"/>
<line x1="569.90" y1="275.00" x2="569.90" y2="277.20" stroke="#4b4c9c" stroke-width="1.1"/>
<line x1="589.00" y1="275.00" x2="589.00" y2="277.20" stroke="#4b4c9c" stroke-width="1.1"/>
<line x1="608.30" y1="275.00" x2="608.30" y2="277.20" stroke="#4b4c9c" stroke-width="1.1"/>
<line x1="627.70" y1="275.00" x2="627.70" y2="277.20" stroke="#4b4c9c" stroke-width="1.1"/>
<line x1="646.90" y1="275.00" x2="646.90" y2="277.20" stroke="#4b4c9c" stroke-width="1.1"/>
<text x="552.70" y="282.40" font-size="6.6" fill="#222" text-anchor="end" font-weight="bold" font-family='"Liberation Sans", sans-serif' transform="rotate(-45 552.70 282.40)">P0-P1</text>
<text x="572.10" y="282.40" font-size="6.6" fill="#222" text-anchor="end" font-weight="bold" font-family='"Liberation Sans", sans-serif' transform="rotate(-45 572.10 282.40)">P3-P4</text>
<text x="591.20" y="282.40" font-size="6.6" fill="#222" text-anchor="end" font-weight="bold" font-family='"Liberation Sans", sans-serif' transform="rotate(-45 591.20 282.40)">P6-P7</text>
<text x="610.50" y="282.40" font-size="6.6" fill="#222" text-anchor="end" font-weight="bold" font-family='"Liberation Sans", sans-serif' transform="rotate(-45 610.50 282.40)">P9-P10</text>
<text x="629.90" y="282.40" font-size="6.6" fill="#222" text-anchor="end" font-weight="bold" font-family='"Liberation Sans", sans-serif' transform="rotate(-45 629.90 282.40)">P11-P12</text>
<text x="649.10" y="282.40" font-size="6.6" fill="#222" text-anchor="end" font-weight="bold" font-family='"Liberation Sans", sans-serif' transform="rotate(-45 649.10 282.40)">P13</text>
<line x1="550.40" y1="191.50" x2="567.40" y2="191.50" stroke="#222" stroke-width="1.2"/>
<line x1="550.40" y1="189.80" x2="550.40" y2="193.20" stroke="#222" stroke-width="1.2"/>
<line x1="567.40" y1="189.80" x2="567.40" y2="193.20" stroke="#222" stroke-width="1.2"/>
<text x="558.90" y="190.20" font-size="5.6" fill="#222" text-anchor="middle" font-weight="bold" font-family='"Liberation Sans", sans-serif'>n.s.</text>
<line x1="571.00" y1="191.50" x2="587.80" y2="191.50" stroke="#222" stroke-width="1.2"/>
<line x1="571.00" y1="189.80" x2="571.00" y2="193.20" stroke="#222" stroke-width="1.2"/>
<line x1="587.80" y1="189.80" x2="587.80" y2="193.20" stroke="#222" stroke-width="1.2"/>
<text x="579.40" y="190.20" font-size="5.6" fill="#222" text-anchor="middle" font-weight="bold" font-family='"Liberation Sans", sans-serif'>**</text>
<line x1="591.10" y1="191.50" x2="608.40" y2="191.50" stroke="#222" stroke-width="1.2"/>
<line x1="591.10" y1="189.80" x2="591.10" y2="193.20" stroke="#222" stroke-width="1.2"/>
<line x1="608.40" y1="189.80" x2="608.40" y2="193.20" stroke="#222" stroke-width="1.2"/>
<text x="599.75" y="190.20" font-size="5.6" fill="#222" text-anchor="middle" font-weight="bold" font-family='"Liberation Sans", sans-serif'>n.s.</text>
<line x1="611.20" y1="191.50" x2="628.50" y2="191.50" stroke="#222" stroke-width="1.2"/>
<line x1="611.20" y1="189.80" x2="611.20" y2="193.20" stroke="#222" stroke-width="1.2"/>
<line x1="628.50" y1="189.80" x2="628.50" y2="193.20" stroke="#222" stroke-width="1.2"/>
<text x="619.85" y="190.20" font-size="5.6" fill="#222" text-anchor="middle" font-weight="bold" font-family='"Liberation Sans", sans-serif'>n.s.</text>
<line x1="631.20" y1="191.50" x2="648.60" y2="191.50" stroke="#222" stroke-width="1.2"/>
<line x1="631.20" y1="189.80" x2="631.20" y2="193.20" stroke="#222" stroke-width="1.2"/>
<line x1="648.60" y1="189.80" x2="648.60" y2="193.20" stroke="#222" stroke-width="1.2"/>
<text x="639.90" y="190.20" font-size="5.6" fill="#222" text-anchor="middle" font-weight="bold" font-family='"Liberation Sans", sans-serif'>*</text>
<line x1="550.50" y1="183.90" x2="630.60" y2="183.90" stroke="#222" stroke-width="1.2"/>
<line x1="550.50" y1="182.20" x2="550.50" y2="185.60" stroke="#222" stroke-width="1.2"/>
<line x1="630.60" y1="182.20" x2="630.60" y2="185.60" stroke="#222" stroke-width="1.2"/>
<text x="590.55" y="182.60" font-size="5.6" fill="#222" text-anchor="middle" font-weight="bold" font-family='"Liberation Sans", sans-serif'>***</text>
<line x1="550.50" y1="178.60" x2="611.40" y2="178.60" stroke="#222" stroke-width="1.2"/>
<line x1="550.50" y1="176.90" x2="550.50" y2="180.30" stroke="#222" stroke-width="1.2"/>
<line x1="611.40" y1="176.90" x2="611.40" y2="180.30" stroke="#222" stroke-width="1.2"/>
<text x="580.95" y="177.30" font-size="5.6" fill="#222" text-anchor="middle" font-weight="bold" font-family='"Liberation Sans", sans-serif'>**</text>
<line x1="550.50" y1="172.60" x2="591.20" y2="172.60" stroke="#222" stroke-width="1.2"/>
<line x1="550.50" y1="170.90" x2="550.50" y2="174.30" stroke="#222" stroke-width="1.2"/>
<line x1="591.20" y1="170.90" x2="591.20" y2="174.30" stroke="#222" stroke-width="1.2"/>
<text x="570.85" y="171.30" font-size="5.6" fill="#222" text-anchor="middle" font-weight="bold" font-family='"Liberation Sans", sans-serif'>*</text>
<text x="1.00" y="315.60" font-size="13.5" fill="#000" text-anchor="start" font-weight="normal" font-family='"Liberation Sans", sans-serif'>g</text>
<text x="18.80" y="338.80" font-size="7.2" fill="#222" text-anchor="start" font-weight="normal" font-family='"Liberation Sans", sans-serif' textLength="47.00" lengthAdjust="spacingAndGlyphs">Left hemisphere</text>
<text x="102.00" y="339.90" font-size="7.2" fill="#222" text-anchor="start" font-weight="normal" font-family='"Liberation Sans", sans-serif' textLength="52.00" lengthAdjust="spacingAndGlyphs">Right hemisphere</text>
<defs><radialGradient id="gL" cx="0.42" cy="0.62" r="0.65"><stop offset="0" stop-color="#5e9bc4"/><stop offset="0.55" stop-color="#3f7aa8"/><stop offset="1" stop-color="#285880"/></radialGradient><radialGradient id="gR" cx="0.62" cy="0.35" r="0.7"><stop offset="0" stop-color="#d08a70"/><stop offset="0.5" stop-color="#b96b51"/><stop offset="1" stop-color="#95482f"/></radialGradient></defs>
<path d="M68,352.8 L86,353.6 L86,371.2 L70,371.2Z" fill="#141414"/>
<path d="M18.60,355.40 C18.93,352.67 19.65,348.58 21.10,346.20 C22.55,343.82 24.92,341.95 27.30,341.10 C29.68,340.25 32.33,340.42 35.40,341.10 C38.47,341.78 42.28,343.83 45.70,345.20 C49.12,346.57 52.17,347.93 55.90,349.30 C59.63,350.67 64.70,352.20 68.10,353.40 C71.50,354.60 74.58,354.80 76.30,356.50 C78.02,358.20 78.40,361.22 78.40,363.60 C78.40,365.98 78.35,368.58 76.30,370.80 C74.25,373.02 69.50,375.20 66.10,376.90 C62.70,378.60 59.30,380.32 55.90,381.00 C52.50,381.68 49.12,381.68 45.70,381.00 C42.28,380.32 38.82,378.60 35.40,376.90 C31.98,375.20 27.92,373.18 25.20,370.80 C22.48,368.42 20.20,365.17 19.10,362.60 C18.00,360.03 18.27,358.13 18.60,355.40Z" fill="url(#gL)"/>
<path d="M81.20,361.30 C81.87,359.33 83.28,357.22 85.80,356.00 C88.32,354.78 92.37,354.77 96.30,354.00 C100.23,353.23 105.02,352.60 109.40,351.40 C113.78,350.20 118.22,348.12 122.60,346.80 C126.98,345.48 131.77,343.72 135.70,343.50 C139.63,343.28 143.57,344.07 146.20,345.50 C148.83,346.93 150.52,349.90 151.50,352.10 C152.48,354.30 152.55,356.30 152.10,358.70 C151.65,361.10 150.43,363.88 148.80,366.50 C147.17,369.12 145.58,371.98 142.30,374.40 C139.02,376.82 133.48,379.57 129.10,381.00 C124.72,382.43 120.38,383.12 116.00,383.00 C111.62,382.88 107.18,381.73 102.80,380.30 C98.42,378.87 93.20,376.48 89.70,374.40 C86.20,372.32 83.22,369.98 81.80,367.80 C80.38,365.62 80.53,363.27 81.20,361.30Z" fill="url(#gR)"/>
<path d="M18.60,355.40 C18.93,352.67 19.65,348.58 21.10,346.20 C22.55,343.82 24.92,341.95 27.30,341.10 C29.68,340.25 32.33,340.42 35.40,341.10 C38.47,341.78 42.28,343.83 45.70,345.20 C49.12,346.57 52.17,347.93 55.90,349.30 C59.63,350.67 64.70,352.20 68.10,353.40 C71.50,354.60 74.58,354.80 76.30,356.50 C78.02,358.20 78.40,361.22 78.40,363.60 C78.40,365.98 78.35,368.58 76.30,370.80 C74.25,373.02 69.50,375.20 66.10,376.90 C62.70,378.60 59.30,380.32 55.90,381.00 C52.50,381.68 49.12,381.68 45.70,381.00 C42.28,380.32 38.82,378.60 35.40,376.90 C31.98,375.20 27.92,373.18 25.20,370.80 C22.48,368.42 20.20,365.17 19.10,362.60 C18.00,360.03 18.27,358.13 18.60,355.40Z" fill="none" stroke="#d8cf2a" stroke-width="1.25" stroke-dasharray="1.6,1.1"/>
<path d="M81.20,361.30 C81.87,359.33 83.28,357.22 85.80,356.00 C88.32,354.78 92.37,354.77 96.30,354.00 C100.23,353.23 105.02,352.60 109.40,351.40 C113.78,350.20 118.22,348.12 122.60,346.80 C126.98,345.48 131.77,343.72 135.70,343.50 C139.63,343.28 143.57,344.07 146.20,345.50 C148.83,346.93 150.52,349.90 151.50,352.10 C152.48,354.30 152.55,356.30 152.10,358.70 C151.65,361.10 150.43,363.88 148.80,366.50 C147.17,369.12 145.58,371.98 142.30,374.40 C139.02,376.82 133.48,379.57 129.10,381.00 C124.72,382.43 120.38,383.12 116.00,383.00 C111.62,382.88 107.18,381.73 102.80,380.30 C98.42,378.87 93.20,376.48 89.70,374.40 C86.20,372.32 83.22,369.98 81.80,367.80 C80.38,365.62 80.53,363.27 81.20,361.30Z" fill="none" stroke="#d8cf2a" stroke-width="1.25" stroke-dasharray="1.6,1.1"/>
<line x1="49.40" y1="370.70" x2="51.00" y2="398.50" stroke="#2f86c8" stroke-width="1.1"/>
<path d="M48.3,396.2 L53.8,396.0 L51.2,401.4Z" fill="#2f86c8"/>
<line x1="111.00" y1="365.00" x2="102.30" y2="401.80" stroke="#e0603a" stroke-width="1.1"/>
<path d="M99.6,399.6 L104.8,401.2 L101.0,406.0Z" fill="#e0603a"/>
<line x1="8.30" y1="386.40" x2="39.60" y2="386.40" stroke="#000" stroke-width="2.2"/>
<text x="13.30" y="396.80" font-size="8.6" fill="#111" text-anchor="start" font-weight="normal" font-family='"Liberation Sans", sans-serif' textLength="20.80" lengthAdjust="spacingAndGlyphs">1 mm</text>
<polyline points="23.40,416.51 24.35,410.33 25.30,402.48 26.25,411.92 27.20,412.93 28.15,398.24 29.10,417.65 30.05,416.07 31.00,412.38 31.95,420.04 32.90,409.99 33.85,411.11 34.80,404.72 35.75,410.68 36.70,408.83 37.65,419.82 38.60,416.21 39.55,422.08 40.50,416.48 41.45,415.20 42.40,423.09 43.35,416.28 44.30,420.39 45.25,415.01 46.20,409.82 47.15,418.94 48.10,409.94 49.05,414.97 50.00,405.29 50.95,415.39 51.90,414.06 52.85,406.45 53.80,403.91 54.75,408.46 55.70,412.34 56.65,420.45 57.60,405.43 58.55,415.01 59.50,420.28 60.45,408.22 61.40,409.20 62.35,414.20 63.30,412.59 64.25,414.76 65.20,415.35 66.15,415.15 67.10,405.64 68.05,415.87 69.00,424.02 69.95,420.40 70.90,427.19 71.85,429.03 72.80,421.92 73.75,422.49 74.70,415.68 75.65,416.43 76.60,409.23 77.55,413.18 78.50,419.63 79.45,422.06 80.40,414.56 81.35,423.69 82.30,415.20 83.25,417.14 84.20,419.10 85.15,413.23 86.10,419.29 87.05,420.28 88.00,411.49 88.95,413.94 89.90,414.32 90.85,406.81 91.80,420.83 92.75,415.15 93.70,421.30 94.65,409.99 95.60,412.26 96.55,411.22 97.50,418.52 98.45,416.41 99.40,413.37 100.35,406.94 101.30,415.17 102.25,407.07 103.20,415.07 104.15,414.06 105.10,416.61 106.05,412.11 107.00,425.15 107.95,399.06 108.90,398.11 109.85,420.22 110.80,414.53 111.75,417.63 112.70,420.43 113.65,423.55 114.60,419.00 115.55,415.76 116.50,415.98 117.45,418.11 118.40,407.55 119.35,418.79 120.30,409.06 121.25,413.51 122.20,419.08 123.15,423.15 124.10,422.77 125.05,422.10 126.00,427.77 126.95,419.47 127.90,427.22 128.85,422.65 129.80,410.67 130.75,407.57 131.70,411.45 132.65,415.80 133.60,421.72 134.55,419.47 135.50,416.07 136.45,416.63 137.40,404.04 138.35,406.58 139.30,417.88 140.25,417.37 141.20,421.30 142.15,424.02 143.10,420.73 144.05,415.95 145.00,418.18 145.95,415.96 146.90,423.84" fill="none" stroke="#3f92d2" stroke-width="0.8"/>
<polyline points="23.40,420.83 24.35,414.69 25.30,414.87 26.25,416.80 27.20,419.73 28.15,414.21 29.10,415.24 30.05,405.25 31.00,406.43 31.95,416.30 32.90,406.33 33.85,411.32 34.80,407.44 35.75,412.42 36.70,417.10 37.65,420.42 38.60,419.97 39.55,420.19 40.50,415.03 41.45,419.72 42.40,421.60 43.35,416.63 44.30,417.25 45.25,418.34 46.20,412.94 47.15,417.94 48.10,411.34 49.05,415.93 50.00,411.63 50.95,418.83 51.90,412.23 52.85,412.48 53.80,410.74 54.75,412.79 55.70,418.03 56.65,421.14 57.60,410.26 58.55,412.91 59.50,417.19 60.45,410.75 61.40,415.03 62.35,411.03 63.30,411.22 64.25,418.27 65.20,416.91 66.15,414.60 67.10,412.02 68.05,415.82 69.00,420.11 69.95,414.99 70.90,417.53 71.85,422.19 72.80,418.81 73.75,418.18 74.70,416.31 75.65,415.21 76.60,411.02 77.55,408.15 78.50,409.16 79.45,415.04 80.40,415.03 81.35,422.02 82.30,417.65 83.25,416.19 84.20,417.48 85.15,411.87 86.10,418.39 87.05,408.06 88.00,411.72 88.95,414.45 89.90,417.01 90.85,413.82 91.80,415.40 92.75,415.87 93.70,410.91 94.65,410.02 95.60,412.96 96.55,414.07 97.50,418.16 98.45,419.71 99.40,421.23 100.35,416.21 101.30,419.29 102.25,418.85 103.20,421.13 104.15,423.43 105.10,418.46 106.05,421.25 107.00,426.08 107.95,408.63 108.90,414.55 109.85,427.88 110.80,423.11 111.75,417.16 112.70,418.23 113.65,414.93 114.60,417.93 115.55,416.28 116.50,421.56 117.45,419.26 118.40,414.09 119.35,420.15 120.30,416.16 121.25,419.31 122.20,420.59 123.15,422.69 124.10,415.92 125.05,421.39 126.00,423.56 126.95,417.66 127.90,419.18 128.85,422.72 129.80,414.10 130.75,410.36 131.70,417.46 132.65,415.79 133.60,414.94 134.55,423.88 135.50,406.45 136.45,411.83 137.40,408.71 138.35,406.69 139.30,410.29 140.25,414.12 141.20,414.34 142.15,417.72 143.10,421.09 144.05,422.02 145.00,418.79 145.95,408.61 146.90,417.50" fill="none" stroke="#e4764e" stroke-width="0.8"/>
<path d="M19.9,426.3 L19.9,432 L25.3,432" fill="none" stroke="#111" stroke-width="1"/>
<text x="10.00" y="428.40" font-size="3.6" fill="#222" text-anchor="start" font-weight="normal" font-family='"Liberation Sans", sans-serif'>5%</text>
<text x="9.20" y="432.60" font-size="3.4" fill="#222" text-anchor="start" font-weight="normal" font-family='"Liberation Sans", sans-serif'>dF/F</text>
<text x="17.70" y="438.00" font-size="4.2" fill="#222" text-anchor="start" font-weight="normal" font-family='"Liberation Sans", sans-serif'>10s</text>
<text x="122.80" y="437.70" font-size="6.6" fill="#222" text-anchor="start" font-weight="normal" font-family='"Liberation Sans", sans-serif' textLength="29.50" lengthAdjust="spacingAndGlyphs">r = 0.52139</text>
<text x="171.00" y="315.90" font-size="13.5" fill="#000" text-anchor="start" font-weight="normal" font-family='"Liberation Sans", sans-serif' textLength="7.40" lengthAdjust="spacingAndGlyphs">h</text>
<text x="171.60" y="386.70" font-size="12.5" fill="#000" text-anchor="start" font-weight="normal" font-family='"Liberation Sans", sans-serif'>i</text>
<text x="347.90" y="318.10" font-size="10.8" fill="#111" text-anchor="start" font-weight="normal" font-family='"Liberation Sans", sans-serif' textLength="146.30" lengthAdjust="spacingAndGlyphs" stroke="#111" stroke-width="0.3">P6 Seed-based Correlation Maps</text>
<text x="341.80" y="395.10" font-size="10.8" fill="#111" text-anchor="start" font-weight="normal" font-family='"Liberation Sans", sans-serif' textLength="152.40" lengthAdjust="spacingAndGlyphs" stroke="#111" stroke-width="0.3">P12 Seed-based Correlation Maps</text>
<line x1="190.70" y1="377.80" x2="223.30" y2="377.80" stroke="#000" stroke-width="2.2"/>
<text x="196.00" y="388.00" font-size="8.6" fill="#111" text-anchor="start" font-weight="normal" font-family='"Liberation Sans", sans-serif' textLength="22.90" lengthAdjust="spacingAndGlyphs">1 mm</text>
<defs><clipPath id="jmh1"><path d="M189.40,349.10 C190.32,346.00 192.35,337.82 194.90,334.90 C197.45,331.98 200.88,331.97 204.70,331.60 C208.52,331.23 213.78,331.62 217.80,332.70 C221.82,333.78 224.78,336.28 228.80,338.10 C232.82,339.92 237.15,342.50 241.90,343.60 C246.65,344.70 251.45,344.88 257.30,344.70 C263.15,344.52 271.90,343.97 277.00,342.50 C282.10,341.03 283.53,337.35 287.90,335.90 C292.27,334.45 297.72,333.97 303.20,333.80 C308.68,333.63 316.42,333.63 320.80,334.90 C325.18,336.17 327.87,339.40 329.50,341.40 C331.13,343.40 331.33,344.52 330.60,346.90 C329.87,349.28 327.83,352.78 325.10,355.70 C322.37,358.62 318.22,362.03 314.20,364.40 C310.18,366.77 306.12,368.80 301.00,369.90 C295.88,371.00 288.23,371.37 283.50,371.00 C278.77,370.63 276.62,368.98 272.60,367.70 C268.58,366.42 263.05,363.48 259.40,363.30 C255.75,363.12 254.35,365.32 250.70,366.60 C247.05,367.88 242.25,370.08 237.50,371.00 C232.75,371.92 227.30,372.47 222.20,372.10 C217.10,371.73 211.63,370.63 206.90,368.80 C202.17,366.97 196.72,363.65 193.80,361.10 C190.88,358.55 190.13,355.50 189.40,353.50 C188.67,351.50 188.48,352.20 189.40,349.10Z"/></clipPath></defs>
<g clip-path="url(#jmh1)"><path d="M189.40,349.10 C190.32,346.00 192.35,337.82 194.90,334.90 C197.45,331.98 200.88,331.97 204.70,331.60 C208.52,331.23 213.78,331.62 217.80,332.70 C221.82,333.78 224.78,336.28 228.80,338.10 C232.82,339.92 237.15,342.50 241.90,343.60 C246.65,344.70 251.45,344.88 257.30,344.70 C263.15,344.52 271.90,343.97 277.00,342.50 C282.10,341.03 283.53,337.35 287.90,335.90 C292.27,334.45 297.72,333.97 303.20,333.80 C308.68,333.63 316.42,333.63 320.80,334.90 C325.18,336.17 327.87,339.40 329.50,341.40 C331.13,343.40 331.33,344.52 330.60,346.90 C329.87,349.28 327.83,352.78 325.10,355.70 C322.37,358.62 318.22,362.03 314.20,364.40 C310.18,366.77 306.12,368.80 301.00,369.90 C295.88,371.00 288.23,371.37 283.50,371.00 C278.77,370.63 276.62,368.98 272.60,367.70 C268.58,366.42 263.05,363.48 259.40,363.30 C255.75,363.12 254.35,365.32 250.70,366.60 C247.05,367.88 242.25,370.08 237.50,371.00 C232.75,371.92 227.30,372.47 222.20,372.10 C217.10,371.73 211.63,370.63 206.90,368.80 C202.17,366.97 196.72,363.65 193.80,361.10 C190.88,358.55 190.13,355.50 189.40,353.50 C188.67,351.50 188.48,352.20 189.40,349.10Z" fill="#55b6dc"/><g filter="url(#blur3)">
<rect x="180" y="325" width="72" height="55" fill="#9cd070"/>
<rect x="262" y="325" width="75" height="55" fill="#5cc0e0"/>
<ellipse cx="206" cy="366" rx="15" ry="9" transform="rotate(0 206 366)" fill="#78c4a8" opacity="1"/>
<ellipse cx="204" cy="358" rx="12" ry="5" transform="rotate(0 204 358)" fill="#a8d468" opacity="1"/>
<path d="M184,358 C187,338 198,330 208,333 C220,336 229,346 236,376" fill="none" stroke="#f2d61c" stroke-width="27"/>
<path d="M184,358 C187,338 198,330 208,333 C220,336 229,346 236,376" fill="none" stroke="#f27a22" stroke-width="19"/>
<path d="M184,358 C187,338 198,330 208,333 C220,336 229,346 236,376" fill="none" stroke="#e0301f" stroke-width="13.5"/>
<path d="M192,342 C199,333 210,333 225,344" fill="none" stroke="#a01a1a" stroke-width="8"/>
<path d="M198,337 C204,334 211,335 219,340" fill="none" stroke="#7d1212" stroke-width="3.5"/>
<ellipse cx="243" cy="352" rx="4" ry="14" transform="rotate(15 243 352)" fill="#b0d460" opacity="1"/>
<ellipse cx="252" cy="353" rx="7" ry="10" transform="rotate(0 252 353)" fill="#3a74c8" opacity="1"/>
<ellipse cx="258" cy="349" rx="7" ry="3" transform="rotate(-10 258 349)" fill="#2a4aa0" opacity="1"/>
<ellipse cx="249" cy="364" rx="4" ry="4" transform="rotate(0 249 364)" fill="#50b0e0" opacity="1"/>
<ellipse cx="262" cy="351.3" rx="3" ry="2" transform="rotate(0 262 351.3)" fill="#b0d060" opacity="1"/>
<ellipse cx="298" cy="352" rx="24" ry="9" transform="rotate(-35 298 352)" fill="#a0d090" opacity="1"/>
<ellipse cx="290" cy="356" rx="13" ry="4" transform="rotate(-40 290 356)" fill="#b8d850" opacity="1"/>
<ellipse cx="304" cy="343.5" rx="12" ry="4.5" transform="rotate(-15 304 343.5)" fill="#d8da38" opacity="1"/>
<ellipse cx="304" cy="342.5" rx="6" ry="2.5" transform="rotate(-15 304 342.5)" fill="#f0e020" opacity="1"/>
<ellipse cx="318" cy="361" rx="10" ry="4" transform="rotate(-30 318 361)" fill="#3a80d0" opacity="1"/>
<ellipse cx="328" cy="350" rx="5" ry="12" transform="rotate(0 328 350)" fill="#3a98e0" opacity="1"/>
</g></g>
<ellipse cx="296.7" cy="352.4" rx="30" ry="18" transform="rotate(-35 296.7 352.4)" fill="none" stroke="#e0288f" stroke-width="1.2" stroke-dasharray="2,1.6"/>
<text x="285.70" y="347.60" font-size="3.6" fill="#d0207a" text-anchor="start" font-weight="normal" font-family='"Liberation Sans", sans-serif' textLength="26.00" lengthAdjust="spacingAndGlyphs">max r =0.5799</text>
<defs><clipPath id="jmh2"><path d="M352.90,343.10 C353.67,339.33 355.77,336.07 358.60,334.10 C361.43,332.13 365.38,331.30 369.90,331.30 C374.42,331.30 380.80,332.70 385.70,334.10 C390.60,335.50 395.15,338.02 399.30,339.70 C403.45,341.38 406.45,343.33 410.60,344.20 C414.75,345.07 418.92,345.47 424.20,344.90 C429.48,344.33 436.65,342.42 442.30,340.80 C447.95,339.18 452.82,336.43 458.10,335.20 C463.38,333.97 469.08,333.40 474.00,333.40 C478.92,333.40 484.33,333.58 487.60,335.20 C490.87,336.82 492.78,340.30 493.60,343.10 C494.42,345.90 493.40,349.43 492.50,352.00 C491.60,354.57 490.12,356.33 488.20,358.50 C486.28,360.67 483.32,363.15 481.00,365.00 C478.68,366.85 477.30,368.57 474.30,369.60 C471.30,370.63 466.47,370.97 463.00,371.20 C459.53,371.43 457.00,371.53 453.50,371.00 C450.00,370.47 445.47,369.15 442.00,368.00 C438.53,366.85 436.37,365.35 432.70,364.10 C429.03,362.85 423.45,360.75 420.00,360.50 C416.55,360.25 414.32,361.73 412.00,362.60 C409.68,363.47 409.72,364.42 406.10,365.70 C402.48,366.98 395.58,369.53 390.30,370.30 C385.02,371.07 379.32,371.07 374.40,370.30 C369.48,369.53 364.20,367.97 360.80,365.70 C357.40,363.43 355.32,360.47 354.00,356.70 C352.68,352.93 352.13,346.87 352.90,343.10Z"/></clipPath></defs>
<g clip-path="url(#jmh2)"><path d="M352.90,343.10 C353.67,339.33 355.77,336.07 358.60,334.10 C361.43,332.13 365.38,331.30 369.90,331.30 C374.42,331.30 380.80,332.70 385.70,334.10 C390.60,335.50 395.15,338.02 399.30,339.70 C403.45,341.38 406.45,343.33 410.60,344.20 C414.75,345.07 418.92,345.47 424.20,344.90 C429.48,344.33 436.65,342.42 442.30,340.80 C447.95,339.18 452.82,336.43 458.10,335.20 C463.38,333.97 469.08,333.40 474.00,333.40 C478.92,333.40 484.33,333.58 487.60,335.20 C490.87,336.82 492.78,340.30 493.60,343.10 C494.42,345.90 493.40,349.43 492.50,352.00 C491.60,354.57 490.12,356.33 488.20,358.50 C486.28,360.67 483.32,363.15 481.00,365.00 C478.68,366.85 477.30,368.57 474.30,369.60 C471.30,370.63 466.47,370.97 463.00,371.20 C459.53,371.43 457.00,371.53 453.50,371.00 C450.00,370.47 445.47,369.15 442.00,368.00 C438.53,366.85 436.37,365.35 432.70,364.10 C429.03,362.85 423.45,360.75 420.00,360.50 C416.55,360.25 414.32,361.73 412.00,362.60 C409.68,363.47 409.72,364.42 406.10,365.70 C402.48,366.98 395.58,369.53 390.30,370.30 C385.02,371.07 379.32,371.07 374.40,370.30 C369.48,369.53 364.20,367.97 360.80,365.70 C357.40,363.43 355.32,360.47 354.00,356.70 C352.68,352.93 352.13,346.87 352.90,343.10Z" fill="#55b6dc"/><g filter="url(#blur3)">
<rect x="340" y="325" width="70" height="55" fill="#e0301f"/>
<rect x="420" y="325" width="80" height="55" fill="#5cc0e0"/>
<ellipse cx="377" cy="355" rx="22" ry="5" transform="rotate(35 377 355)" fill="#a01a1a" opacity="1"/>
<ellipse cx="377" cy="355" rx="11" ry="2.5" transform="rotate(35 377 355)" fill="#7d1212" opacity="1"/>
<ellipse cx="374" cy="339.6" rx="9" ry="4.5" transform="rotate(10 374 339.6)" fill="#f27a22" opacity="1"/>
<ellipse cx="374" cy="339.6" rx="6.5" ry="3.2" transform="rotate(10 374 339.6)" fill="#f2d61c" opacity="1"/>
<ellipse cx="355" cy="357" rx="4" ry="8" transform="rotate(0 355 357)" fill="#f27a22" opacity="1"/>
<ellipse cx="404" cy="350" rx="4" ry="14" transform="rotate(10 404 350)" fill="#f27a22" opacity="1"/>
<ellipse cx="409" cy="352" rx="3" ry="12" transform="rotate(10 409 352)" fill="#f2d61c" opacity="1"/>
<ellipse cx="413" cy="351" rx="6" ry="8" transform="rotate(0 413 351)" fill="#3060c0" opacity="1"/>
<ellipse cx="420" cy="352" rx="7" ry="10" transform="rotate(0 420 352)" fill="#3a74c8" opacity="1"/>
<ellipse cx="420" cy="347" rx="5" ry="3" transform="rotate(20 420 347)" fill="#2a4aa0" opacity="1"/>
<ellipse cx="425" cy="357" rx="4" ry="3" transform="rotate(0 425 357)" fill="#50b0e0" opacity="1"/>
<ellipse cx="458" cy="356" rx="26" ry="10" transform="rotate(-30 458 356)" fill="#90d0a8" opacity="1"/>
<ellipse cx="446" cy="356" rx="12" ry="5" transform="rotate(-38 446 356)" fill="#c0d850" opacity="1"/>
<ellipse cx="468" cy="356.5" rx="17" ry="5.5" transform="rotate(-30 468 356.5)" fill="#c8d84a" opacity="1"/>
<ellipse cx="471.6" cy="340.5" rx="5" ry="3" transform="rotate(0 471.6 340.5)" fill="#3a90d8" opacity="1"/>
<ellipse cx="492" cy="346" rx="4" ry="8" transform="rotate(0 492 346)" fill="#3a98e0" opacity="1"/>
</g></g>
<ellipse cx="469.5" cy="356.5" rx="29" ry="14" transform="rotate(-35 469.5 356.5)" fill="none" stroke="#e0288f" stroke-width="1.2" stroke-dasharray="2,1.6"/>
<text x="455.00" y="361.50" font-size="3.6" fill="#d0207a" text-anchor="start" font-weight="normal" font-family='"Liberation Sans", sans-serif' textLength="25.00" lengthAdjust="spacingAndGlyphs">max r =0.5443</text>
<defs><clipPath id="jmh3"><path d="M517.90,345.40 C518.08,341.63 519.95,338.38 522.40,336.30 C524.85,334.22 528.25,332.90 532.60,332.90 C536.95,332.90 543.22,334.78 548.50,336.30 C553.78,337.82 559.78,340.48 564.30,342.00 C568.82,343.52 570.70,344.83 575.60,345.40 C580.50,345.97 588.03,345.97 593.70,345.40 C599.37,344.83 603.93,343.52 609.60,342.00 C615.27,340.48 621.67,337.62 627.70,336.30 C633.73,334.98 640.90,333.72 645.80,334.10 C650.70,334.48 654.83,336.35 657.10,338.60 C659.37,340.85 659.78,343.83 659.40,347.60 C659.02,351.37 657.07,357.62 654.80,361.20 C652.53,364.78 650.32,367.22 645.80,369.10 C641.28,370.98 633.37,372.30 627.70,372.50 C622.03,372.70 617.08,371.43 611.80,370.30 C606.52,369.17 600.90,366.83 596.00,365.70 C591.10,364.57 586.17,363.30 582.40,363.50 C578.63,363.70 577.55,365.77 573.40,366.90 C569.25,368.03 562.42,369.55 557.50,370.30 C552.58,371.05 548.42,371.97 543.90,371.40 C539.38,370.83 534.17,368.98 530.40,366.90 C526.63,364.82 523.38,362.48 521.30,358.90 C519.22,355.32 517.72,349.17 517.90,345.40Z"/></clipPath></defs>
<g clip-path="url(#jmh3)"><path d="M517.90,345.40 C518.08,341.63 519.95,338.38 522.40,336.30 C524.85,334.22 528.25,332.90 532.60,332.90 C536.95,332.90 543.22,334.78 548.50,336.30 C553.78,337.82 559.78,340.48 564.30,342.00 C568.82,343.52 570.70,344.83 575.60,345.40 C580.50,345.97 588.03,345.97 593.70,345.40 C599.37,344.83 603.93,343.52 609.60,342.00 C615.27,340.48 621.67,337.62 627.70,336.30 C633.73,334.98 640.90,333.72 645.80,334.10 C650.70,334.48 654.83,336.35 657.10,338.60 C659.37,340.85 659.78,343.83 659.40,347.60 C659.02,351.37 657.07,357.62 654.80,361.20 C652.53,364.78 650.32,367.22 645.80,369.10 C641.28,370.98 633.37,372.30 627.70,372.50 C622.03,372.70 617.08,371.43 611.80,370.30 C606.52,369.17 600.90,366.83 596.00,365.70 C591.10,364.57 586.17,363.30 582.40,363.50 C578.63,363.70 577.55,365.77 573.40,366.90 C569.25,368.03 562.42,369.55 557.50,370.30 C552.58,371.05 548.42,371.97 543.90,371.40 C539.38,370.83 534.17,368.98 530.40,366.90 C526.63,364.82 523.38,362.48 521.30,358.90 C519.22,355.32 517.72,349.17 517.90,345.40Z" fill="#55b6dc"/><g filter="url(#blur3)">
<rect x="505" y="325" width="73" height="55" fill="#e0301f"/>
<rect x="587" y="325" width="80" height="55" fill="#5cc0e0"/>
<ellipse cx="538" cy="361" rx="18" ry="6.5" transform="rotate(18 538 361)" fill="#a01a1a" opacity="1"/>
<ellipse cx="536" cy="362" rx="9" ry="3.5" transform="rotate(18 536 362)" fill="#7d1212" opacity="1"/>
<ellipse cx="538" cy="341" rx="16" ry="11" transform="rotate(8 538 341)" fill="#f27a22" opacity="1"/>
<ellipse cx="538" cy="340.8" rx="13" ry="8.5" transform="rotate(8 538 340.8)" fill="#f2d61c" opacity="1"/>
<ellipse cx="538.4" cy="340.8" rx="10.5" ry="6.8" transform="rotate(8 538.4 340.8)" fill="#9ccc70" opacity="1"/>
<ellipse cx="538.4" cy="340.8" rx="8.5" ry="5.3" transform="rotate(8 538.4 340.8)" fill="#58c0c8" opacity="1"/>
<ellipse cx="570" cy="352" rx="4" ry="10" transform="rotate(20 570 352)" fill="#f27a22" opacity="1"/>
<ellipse cx="584" cy="352" rx="7" ry="9" transform="rotate(0 584 352)" fill="#3a74c8" opacity="1"/>
<ellipse cx="584" cy="355.5" rx="5" ry="3.5" transform="rotate(0 584 355.5)" fill="#2a4aa0" opacity="1"/>
<ellipse cx="590" cy="347.5" rx="6" ry="2.5" transform="rotate(10 590 347.5)" fill="#2a4aa0" opacity="1"/>
<ellipse cx="604" cy="355" rx="17" ry="7.5" transform="rotate(-25 604 355)" fill="#b0d060" opacity="1"/>
<ellipse cx="605" cy="354.5" rx="11" ry="4" transform="rotate(-28 605 354.5)" fill="#c8d840" opacity="1"/>
<ellipse cx="627" cy="361" rx="14" ry="6" transform="rotate(-25 627 361)" fill="#98d098" opacity="1"/>
<ellipse cx="636.6" cy="342" rx="6" ry="3.5" transform="rotate(0 636.6 342)" fill="#3a70c8" opacity="1"/>
<ellipse cx="655" cy="356" rx="3" ry="8" transform="rotate(0 655 356)" fill="#3a80d0" opacity="1"/>
</g></g>
<ellipse cx="635.6" cy="361.2" rx="25" ry="13" transform="rotate(-25 635.6 361.2)" fill="none" stroke="#e0288f" stroke-width="1.2" stroke-dasharray="2,1.6"/>
<text x="613.00" y="365.20" font-size="3.6" fill="#d0207a" text-anchor="start" font-weight="normal" font-family='"Liberation Sans", sans-serif' textLength="23.00" lengthAdjust="spacingAndGlyphs">max r =0.6063</text>
<defs><clipPath id="jmi1"><path d="M189.40,410.30 C190.68,407.92 193.08,407.73 194.90,407.00 C196.72,406.27 197.20,405.35 200.30,405.90 C203.40,406.45 208.75,408.65 213.50,410.30 C218.25,411.95 223.70,414.15 228.80,415.80 C233.90,417.45 239.72,419.10 244.10,420.20 C248.48,421.30 250.35,422.58 255.10,422.40 C259.85,422.22 267.13,420.75 272.60,419.10 C278.07,417.45 282.07,414.70 287.90,412.50 C293.73,410.30 302.12,406.63 307.60,405.90 C313.08,405.17 317.88,406.27 320.80,408.10 C323.72,409.93 324.57,412.52 325.10,416.90 C325.63,421.28 325.45,430.20 324.00,434.40 C322.55,438.60 320.58,439.90 316.40,442.10 C312.22,444.30 305.10,446.33 298.90,447.60 C292.70,448.87 284.32,449.70 279.20,449.70 C274.08,449.70 271.50,449.42 268.20,447.60 C264.90,445.78 262.32,439.72 259.40,438.80 C256.48,437.88 254.35,440.82 250.70,442.10 C247.05,443.38 242.98,445.05 237.50,446.50 C232.02,447.95 223.63,450.62 217.80,450.80 C211.97,450.98 206.87,449.97 202.50,447.60 C198.13,445.23 194.15,440.98 191.60,436.60 C189.05,432.22 187.57,425.68 187.20,421.30 C186.83,416.92 188.12,412.68 189.40,410.30Z"/></clipPath></defs>
<g clip-path="url(#jmi1)"><path d="M189.40,410.30 C190.68,407.92 193.08,407.73 194.90,407.00 C196.72,406.27 197.20,405.35 200.30,405.90 C203.40,406.45 208.75,408.65 213.50,410.30 C218.25,411.95 223.70,414.15 228.80,415.80 C233.90,417.45 239.72,419.10 244.10,420.20 C248.48,421.30 250.35,422.58 255.10,422.40 C259.85,422.22 267.13,420.75 272.60,419.10 C278.07,417.45 282.07,414.70 287.90,412.50 C293.73,410.30 302.12,406.63 307.60,405.90 C313.08,405.17 317.88,406.27 320.80,408.10 C323.72,409.93 324.57,412.52 325.10,416.90 C325.63,421.28 325.45,430.20 324.00,434.40 C322.55,438.60 320.58,439.90 316.40,442.10 C312.22,444.30 305.10,446.33 298.90,447.60 C292.70,448.87 284.32,449.70 279.20,449.70 C274.08,449.70 271.50,449.42 268.20,447.60 C264.90,445.78 262.32,439.72 259.40,438.80 C256.48,437.88 254.35,440.82 250.70,442.10 C247.05,443.38 242.98,445.05 237.50,446.50 C232.02,447.95 223.63,450.62 217.80,450.80 C211.97,450.98 206.87,449.97 202.50,447.60 C198.13,445.23 194.15,440.98 191.60,436.60 C189.05,432.22 187.57,425.68 187.20,421.30 C186.83,416.92 188.12,412.68 189.40,410.30Z" fill="#2a4294"/><g filter="url(#blur3)">
<rect x="180" y="400" width="70" height="56" fill="#a8d460"/>
<rect x="262" y="400" width="70" height="56" fill="#2a4294"/>
<ellipse cx="206" cy="446" rx="18" ry="8" transform="rotate(10 206 446)" fill="#70c0a8" opacity="1"/>
<ellipse cx="213" cy="424" rx="29" ry="18" transform="rotate(28 213 424)" fill="#f2d61c" opacity="1"/>
<ellipse cx="196" cy="415" rx="7" ry="9" transform="rotate(0 196 415)" fill="#f2a020" opacity="1"/>
<ellipse cx="212" cy="421" rx="22" ry="12.5" transform="rotate(28 212 421)" fill="#f27a22" opacity="1"/>
<ellipse cx="212" cy="420" rx="18.5" ry="9.5" transform="rotate(28 212 420)" fill="#e0301f" opacity="1"/>
<ellipse cx="215" cy="420" rx="12" ry="5.5" transform="rotate(25 215 420)" fill="#a01a1a" opacity="1"/>
<ellipse cx="214" cy="419.5" rx="5.5" ry="2.6" transform="rotate(25 214 419.5)" fill="#7d1212" opacity="1"/>
<ellipse cx="231.5" cy="441.5" rx="5" ry="3.6" transform="rotate(0 231.5 441.5)" fill="#e8501f" opacity="1"/>
<ellipse cx="193" cy="411" rx="4" ry="3" transform="rotate(0 193 411)" fill="#a8d060" opacity="1"/>
<ellipse cx="242" cy="430" rx="6" ry="10" transform="rotate(0 242 430)" fill="#b0d460" opacity="1"/>
<ellipse cx="251" cy="430" rx="5" ry="10" transform="rotate(0 251 430)" fill="#50b8d8" opacity="1"/>
<ellipse cx="258" cy="432" rx="5" ry="10" transform="rotate(0 258 432)" fill="#3a80d0" opacity="1"/>
<ellipse cx="290" cy="418" rx="22" ry="4" transform="rotate(-20 290 418)" fill="#3a5cb0" opacity="1"/>
<ellipse cx="272" cy="442" rx="5" ry="3" transform="rotate(0 272 442)" fill="#3a90d8" opacity="1"/>
</g></g>
<ellipse cx="292.3" cy="426.7" rx="29" ry="17" transform="rotate(-35 292.3 426.7)" fill="none" stroke="#e0288f" stroke-width="1.2" stroke-dasharray="2,1.6"/>
<text x="281.50" y="428.20" font-size="3.6" fill="#d0207a" text-anchor="start" font-weight="normal" font-family='"Liberation Sans", sans-serif' textLength="22.00" lengthAdjust="spacingAndGlyphs">max r =0.7061</text>
<defs><clipPath id="jmi2"><path d="M355.20,411.60 C356.13,409.15 358.35,407.03 360.80,405.90 C363.25,404.77 366.12,404.23 369.90,404.80 C373.68,405.37 378.60,407.42 383.50,409.30 C388.40,411.18 394.40,414.40 399.30,416.10 C404.20,417.80 408.75,418.75 412.90,419.50 C417.05,420.25 419.68,420.98 424.20,420.60 C428.72,420.22 434.35,418.70 440.00,417.20 C445.65,415.70 451.30,413.67 458.10,411.60 C464.90,409.53 475.52,405.57 480.80,404.80 C486.08,404.03 487.92,405.12 489.80,407.00 C491.68,408.88 491.90,412.32 492.10,416.10 C492.30,419.88 492.52,425.73 491.00,429.70 C489.48,433.67 487.35,437.07 483.00,439.90 C478.65,442.73 470.93,445.20 464.90,446.70 C458.87,448.20 451.70,449.10 446.80,448.90 C441.90,448.70 439.27,447.20 435.50,445.50 C431.73,443.80 427.97,439.07 424.20,438.70 C420.43,438.33 417.43,441.78 412.90,443.30 C408.37,444.82 401.90,446.87 397.00,447.80 C392.10,448.73 388.40,449.65 383.50,448.90 C378.60,448.15 371.95,446.13 367.60,443.30 C363.25,440.47 359.47,435.68 357.40,431.90 C355.33,428.12 355.57,423.98 355.20,420.60 C354.83,417.22 354.27,414.05 355.20,411.60Z"/></clipPath></defs>
<g clip-path="url(#jmi2)"><path d="M355.20,411.60 C356.13,409.15 358.35,407.03 360.80,405.90 C363.25,404.77 366.12,404.23 369.90,404.80 C373.68,405.37 378.60,407.42 383.50,409.30 C388.40,411.18 394.40,414.40 399.30,416.10 C404.20,417.80 408.75,418.75 412.90,419.50 C417.05,420.25 419.68,420.98 424.20,420.60 C428.72,420.22 434.35,418.70 440.00,417.20 C445.65,415.70 451.30,413.67 458.10,411.60 C464.90,409.53 475.52,405.57 480.80,404.80 C486.08,404.03 487.92,405.12 489.80,407.00 C491.68,408.88 491.90,412.32 492.10,416.10 C492.30,419.88 492.52,425.73 491.00,429.70 C489.48,433.67 487.35,437.07 483.00,439.90 C478.65,442.73 470.93,445.20 464.90,446.70 C458.87,448.20 451.70,449.10 446.80,448.90 C441.90,448.70 439.27,447.20 435.50,445.50 C431.73,443.80 427.97,439.07 424.20,438.70 C420.43,438.33 417.43,441.78 412.90,443.30 C408.37,444.82 401.90,446.87 397.00,447.80 C392.10,448.73 388.40,449.65 383.50,448.90 C378.60,448.15 371.95,446.13 367.60,443.30 C363.25,440.47 359.47,435.68 357.40,431.90 C355.33,428.12 355.57,423.98 355.20,420.60 C354.83,417.22 354.27,414.05 355.20,411.60Z" fill="#2f4fa6"/><g filter="url(#blur3)">
<rect x="345" y="400" width="64" height="56" fill="#e8401f"/>
<rect x="430" y="400" width="70" height="56" fill="#2f4fa6"/>
<ellipse cx="385" cy="430" rx="21" ry="5" transform="rotate(31 385 430)" fill="#a01a1a" opacity="1"/>
<ellipse cx="384" cy="429.5" rx="10" ry="2.5" transform="rotate(31 384 429.5)" fill="#7d1212" opacity="1"/>
<ellipse cx="376.5" cy="415.5" rx="7" ry="3" transform="rotate(20 376.5 415.5)" fill="#f27a22" opacity="1"/>
<ellipse cx="365" cy="438" rx="6" ry="5" transform="rotate(0 365 438)" fill="#f27a22" opacity="1"/>
<ellipse cx="408" cy="432" rx="4" ry="14" transform="rotate(15 408 432)" fill="#f2a020" opacity="1"/>
<ellipse cx="415" cy="432" rx="4" ry="12" transform="rotate(15 415 432)" fill="#e0dc30" opacity="1"/>
<ellipse cx="422" cy="430" rx="4" ry="10" transform="rotate(0 422 430)" fill="#50b8d0" opacity="1"/>
<ellipse cx="438" cy="430" rx="8" ry="10" transform="rotate(0 438 430)" fill="#3a64b8" opacity="1"/>
<ellipse cx="478" cy="430" rx="17" ry="18" transform="rotate(0 478 430)" fill="#26398a" opacity="1"/>
</g></g>
<ellipse cx="469.0" cy="433.0" rx="29" ry="13" transform="rotate(-33 469.0 433.0)" fill="none" stroke="#e0288f" stroke-width="1.2" stroke-dasharray="2,1.6"/>
<text x="453.50" y="441.50" font-size="3.6" fill="#d0207a" text-anchor="start" font-weight="normal" font-family='"Liberation Sans", sans-serif' textLength="20.00" lengthAdjust="spacingAndGlyphs">max r =0.059</text>
<defs><clipPath id="jmi3"><path d="M519.00,416.10 C519.77,413.07 521.33,408.88 523.60,407.00 C525.87,405.12 528.45,404.23 532.60,404.80 C536.75,405.37 543.22,408.33 548.50,410.40 C553.78,412.47 559.40,415.50 564.30,417.20 C569.20,418.90 573.75,419.83 577.90,420.60 C582.05,421.37 584.30,422.37 589.20,421.80 C594.10,421.23 600.88,419.10 607.30,417.20 C613.72,415.30 621.28,412.47 627.70,410.40 C634.12,408.33 641.28,405.17 645.80,404.80 C650.32,404.43 653.00,405.57 654.80,408.20 C656.60,410.83 656.60,415.88 656.60,420.60 C656.60,425.32 656.60,432.15 654.80,436.50 C653.00,440.85 649.95,444.07 645.80,446.70 C641.65,449.33 635.18,451.37 629.90,452.30 C624.62,453.23 619.00,453.05 614.10,452.30 C609.20,451.55 604.65,449.68 600.50,447.80 C596.35,445.92 592.97,441.57 589.20,441.00 C585.43,440.43 582.05,443.08 577.90,444.40 C573.75,445.72 569.20,447.97 564.30,448.90 C559.40,449.83 553.78,450.75 548.50,450.00 C543.22,449.25 537.13,447.03 532.60,444.40 C528.07,441.77 523.57,437.40 521.30,434.20 C519.03,431.00 519.38,428.22 519.00,425.20 C518.62,422.18 518.23,419.13 519.00,416.10Z"/></clipPath></defs>
<g clip-path="url(#jmi3)"><path d="M519.00,416.10 C519.77,413.07 521.33,408.88 523.60,407.00 C525.87,405.12 528.45,404.23 532.60,404.80 C536.75,405.37 543.22,408.33 548.50,410.40 C553.78,412.47 559.40,415.50 564.30,417.20 C569.20,418.90 573.75,419.83 577.90,420.60 C582.05,421.37 584.30,422.37 589.20,421.80 C594.10,421.23 600.88,419.10 607.30,417.20 C613.72,415.30 621.28,412.47 627.70,410.40 C634.12,408.33 641.28,405.17 645.80,404.80 C650.32,404.43 653.00,405.57 654.80,408.20 C656.60,410.83 656.60,415.88 656.60,420.60 C656.60,425.32 656.60,432.15 654.80,436.50 C653.00,440.85 649.95,444.07 645.80,446.70 C641.65,449.33 635.18,451.37 629.90,452.30 C624.62,453.23 619.00,453.05 614.10,452.30 C609.20,451.55 604.65,449.68 600.50,447.80 C596.35,445.92 592.97,441.57 589.20,441.00 C585.43,440.43 582.05,443.08 577.90,444.40 C573.75,445.72 569.20,447.97 564.30,448.90 C559.40,449.83 553.78,450.75 548.50,450.00 C543.22,449.25 537.13,447.03 532.60,444.40 C528.07,441.77 523.57,437.40 521.30,434.20 C519.03,431.00 519.38,428.22 519.00,425.20 C518.62,422.18 518.23,419.13 519.00,416.10Z" fill="#2f4fa6"/><g filter="url(#blur3)">
<rect x="505" y="400" width="73" height="58" fill="#e0301f"/>
<rect x="590" y="400" width="75" height="58" fill="#2f4fa6"/>
<ellipse cx="540" cy="441" rx="14" ry="7" transform="rotate(15 540 441)" fill="#a01a1a" opacity="1"/>
<ellipse cx="536" cy="442" rx="6" ry="3.5" transform="rotate(15 536 442)" fill="#7d1212" opacity="1"/>
<ellipse cx="542" cy="419" rx="14" ry="10" transform="rotate(0 542 419)" fill="#f27a22" opacity="1"/>
<ellipse cx="542" cy="418.5" rx="11" ry="8" transform="rotate(0 542 418.5)" fill="#f2d61c" opacity="1"/>
<ellipse cx="541.7" cy="418.4" rx="7" ry="5" transform="rotate(0 541.7 418.4)" fill="#58c0c8" opacity="1"/>
<ellipse cx="566" cy="438" rx="5" ry="4" transform="rotate(0 566 438)" fill="#f2c01c" opacity="1"/>
<ellipse cx="574" cy="432" rx="4" ry="12" transform="rotate(0 574 432)" fill="#f2d61c" opacity="1"/>
<ellipse cx="582" cy="432" rx="5" ry="10" transform="rotate(0 582 432)" fill="#50b8d8" opacity="1"/>
<ellipse cx="594" cy="432" rx="7" ry="10" transform="rotate(0 594 432)" fill="#3a74c8" opacity="1"/>
<ellipse cx="637" cy="428" rx="20" ry="22" transform="rotate(0 637 428)" fill="#26398a" opacity="1"/>
</g></g>
<ellipse cx="633.3" cy="439.9" rx="25" ry="14" transform="rotate(-25 633.3 439.9)" fill="none" stroke="#e0288f" stroke-width="1.2" stroke-dasharray="2,1.6"/>
<text x="617.00" y="444.00" font-size="3.6" fill="#d0207a" text-anchor="start" font-weight="normal" font-family='"Liberation Sans", sans-serif' textLength="20.00" lengthAdjust="spacingAndGlyphs">max r =0.059</text>
<defs><linearGradient id="jetg" x1="0" x2="0" y1="0" y2="1"><stop offset="0.000" stop-color="#7d1212"/><stop offset="0.083" stop-color="#b81c1c"/><stop offset="0.167" stop-color="#e0301f"/><stop offset="0.250" stop-color="#f27a22"/><stop offset="0.333" stop-color="#f2d61c"/><stop offset="0.417" stop-color="#c8dc3a"/><stop offset="0.500" stop-color="#8cc86e"/><stop offset="0.583" stop-color="#54bcc0"/><stop offset="0.667" stop-color="#3aa4e0"/><stop offset="0.750" stop-color="#3a80d0"/><stop offset="0.833" stop-color="#3058b0"/><stop offset="0.917" stop-color="#2a4496"/><stop offset="1.000" stop-color="#233683"/></linearGradient></defs>
<rect x="669.00" y="353.90" width="7.60" height="77.00" fill="url(#jetg)" stroke="none" stroke-width="1"/>
<text x="678.20" y="355.60" font-size="5.0" fill="#333" text-anchor="start" font-weight="normal" font-family='"Liberation Sans", sans-serif'>1</text>
<text x="678.20" y="368.50" font-size="5.0" fill="#333" text-anchor="start" font-weight="normal" font-family='"Liberation Sans", sans-serif'>0.8</text>
<text x="678.20" y="381.40" font-size="5.0" fill="#333" text-anchor="start" font-weight="normal" font-family='"Liberation Sans", sans-serif'>0.6</text>
<text x="678.20" y="394.30" font-size="5.0" fill="#333" text-anchor="start" font-weight="normal" font-family='"Liberation Sans", sans-serif'>0.4</text>
<text x="678.20" y="407.20" font-size="5.0" fill="#333" text-anchor="start" font-weight="normal" font-family='"Liberation Sans", sans-serif'>0.2</text>
<text x="678.20" y="420.10" font-size="5.0" fill="#333" text-anchor="start" font-weight="normal" font-family='"Liberation Sans", sans-serif'>0</text>
<text x="678.20" y="433.00" font-size="5.0" fill="#333" text-anchor="start" font-weight="normal" font-family='"Liberation Sans", sans-serif'>-0.2</text>
<text x="-0.60" y="478.00" font-size="12.5" fill="#000" text-anchor="start" font-weight="normal" font-family='"Liberation Sans", sans-serif'>j</text>
<text x="35.50" y="498.20" font-size="10" fill="#000" text-anchor="start" font-weight="normal" font-family='"Liberation Sans", sans-serif' textLength="116.40" lengthAdjust="spacingAndGlyphs">Global Bilateral Correlation</text>
<line x1="27.20" y1="537.20" x2="27.20" y2="628.80" stroke="#4b4c9c" stroke-width="1.1"/>
<line x1="27.20" y1="628.80" x2="166.70" y2="628.80" stroke="#4b4c9c" stroke-width="1.1"/>
<line x1="25.00" y1="628.80" x2="27.20" y2="628.80" stroke="#4b4c9c" stroke-width="1.1"/>
<text x="24.00" y="631.07" font-size="6.3" fill="#222" text-anchor="end" font-weight="normal" font-family='"Liberation Sans", sans-serif'>-0.2</text>
<line x1="25.00" y1="610.58" x2="27.20" y2="610.58" stroke="#4b4c9c" stroke-width="1.1"/>
<text x="24.00" y="612.85" font-size="6.3" fill="#222" text-anchor="end" font-weight="normal" font-family='"Liberation Sans", sans-serif'>0.0</text>
<line x1="25.00" y1="592.36" x2="27.20" y2="592.36" stroke="#4b4c9c" stroke-width="1.1"/>
<text x="24.00" y="594.63" font-size="6.3" fill="#222" text-anchor="end" font-weight="normal" font-family='"Liberation Sans", sans-serif'>0.2</text>
<line x1="25.00" y1="574.14" x2="27.20" y2="574.14" stroke="#4b4c9c" stroke-width="1.1"/>
<text x="24.00" y="576.41" font-size="6.3" fill="#222" text-anchor="end" font-weight="normal" font-family='"Liberation Sans", sans-serif'>0.4</text>
<line x1="25.00" y1="555.92" x2="27.20" y2="555.92" stroke="#4b4c9c" stroke-width="1.1"/>
<text x="24.00" y="558.19" font-size="6.3" fill="#222" text-anchor="end" font-weight="normal" font-family='"Liberation Sans", sans-serif'>0.6</text>
<line x1="25.00" y1="537.70" x2="27.20" y2="537.70" stroke="#4b4c9c" stroke-width="1.1"/>
<text x="24.00" y="539.97" font-size="6.3" fill="#222" text-anchor="end" font-weight="normal" font-family='"Liberation Sans", sans-serif'>0.8</text>
<text x="8.20" y="583.00" font-size="7.5" fill="#111" text-anchor="middle" font-weight="bold" font-family='"Liberation Sans", sans-serif' transform="rotate(-90 8.20 583.00)">Correlation</text>
<line x1="45.70" y1="565.03" x2="45.70" y2="567.76" stroke="#ee2a9b" stroke-width="1.6"/>
<line x1="45.70" y1="577.78" x2="45.70" y2="582.34" stroke="#ee2a9b" stroke-width="1.6"/>
<line x1="43.45" y1="565.03" x2="47.95" y2="565.03" stroke="#ee2a9b" stroke-width="1.6"/>
<line x1="43.45" y1="582.34" x2="47.95" y2="582.34" stroke="#ee2a9b" stroke-width="1.6"/>
<rect x="37.40" y="567.76" width="16.60" height="10.02" fill="none" stroke="#ee2a9b" stroke-width="1.6"/>
<line x1="37.40" y1="574.14" x2="54.00" y2="574.14" stroke="#ee2a9b" stroke-width="1.6"/>
<circle cx="45.70" cy="566.40" r="1.30" fill="#ee2a9b" stroke="none" stroke-width="1"/>
<circle cx="45.70" cy="576.69" r="1.30" fill="#ee2a9b" stroke="none" stroke-width="1"/>
<circle cx="45.70" cy="570.95" r="1.30" fill="#fff" stroke="#ee2a9b" stroke-width="0.7"/>
<circle cx="45.70" cy="575.96" r="1.30" fill="#fff" stroke="#ee2a9b" stroke-width="0.7"/>
<circle cx="45.70" cy="565.03" r="1.30" fill="#ee2a9b" stroke="none" stroke-width="1"/>
<circle cx="45.70" cy="582.34" r="1.30" fill="#ee2a9b" stroke="none" stroke-width="1"/>
<line x1="71.00" y1="541.34" x2="71.00" y2="550.45" stroke="#ff8a1c" stroke-width="1.6"/>
<line x1="71.00" y1="578.69" x2="71.00" y2="581.43" stroke="#ff8a1c" stroke-width="1.6"/>
<line x1="68.75" y1="541.34" x2="73.25" y2="541.34" stroke="#ff8a1c" stroke-width="1.6"/>
<line x1="68.75" y1="581.43" x2="73.25" y2="581.43" stroke="#ff8a1c" stroke-width="1.6"/>
<rect x="62.70" y="550.45" width="16.60" height="28.24" fill="none" stroke="#ff8a1c" stroke-width="1.6"/>
<line x1="62.70" y1="559.56" x2="79.30" y2="559.56" stroke="#ff8a1c" stroke-width="1.6"/>
<circle cx="71.00" cy="545.90" r="1.30" fill="#ff8a1c" stroke="none" stroke-width="1"/>
<circle cx="71.00" cy="572.96" r="1.30" fill="#ff8a1c" stroke="none" stroke-width="1"/>
<circle cx="71.00" cy="555.01" r="1.30" fill="#fff" stroke="#ff8a1c" stroke-width="0.7"/>
<circle cx="71.00" cy="569.13" r="1.30" fill="#fff" stroke="#ff8a1c" stroke-width="0.7"/>
<circle cx="71.00" cy="541.34" r="1.30" fill="#ff8a1c" stroke="none" stroke-width="1"/>
<circle cx="71.00" cy="581.43" r="1.30" fill="#ff8a1c" stroke="none" stroke-width="1"/>
<line x1="96.60" y1="555.01" x2="96.60" y2="558.65" stroke="#8c8a1e" stroke-width="1.6"/>
<line x1="96.60" y1="577.78" x2="96.60" y2="585.98" stroke="#8c8a1e" stroke-width="1.6"/>
<line x1="94.35" y1="555.01" x2="98.85" y2="555.01" stroke="#8c8a1e" stroke-width="1.6"/>
<line x1="94.35" y1="585.98" x2="98.85" y2="585.98" stroke="#8c8a1e" stroke-width="1.6"/>
<rect x="88.30" y="558.65" width="16.60" height="19.13" fill="none" stroke="#8c8a1e" stroke-width="1.6"/>
<line x1="88.30" y1="565.94" x2="104.90" y2="565.94" stroke="#8c8a1e" stroke-width="1.6"/>
<circle cx="96.60" cy="556.83" r="1.30" fill="#8c8a1e" stroke="none" stroke-width="1"/>
<circle cx="96.60" cy="574.23" r="1.30" fill="#8c8a1e" stroke="none" stroke-width="1"/>
<circle cx="96.60" cy="562.30" r="1.30" fill="#fff" stroke="#8c8a1e" stroke-width="0.7"/>
<circle cx="96.60" cy="571.86" r="1.30" fill="#fff" stroke="#8c8a1e" stroke-width="0.7"/>
<circle cx="96.60" cy="555.01" r="1.30" fill="#8c8a1e" stroke="none" stroke-width="1"/>
<circle cx="96.60" cy="585.98" r="1.30" fill="#8c8a1e" stroke="none" stroke-width="1"/>
<line x1="122.90" y1="563.21" x2="122.90" y2="567.76" stroke="#1f8c1f" stroke-width="1.6"/>
<line x1="122.90" y1="591.45" x2="122.90" y2="606.02" stroke="#1f8c1f" stroke-width="1.6"/>
<line x1="120.65" y1="563.21" x2="125.15" y2="563.21" stroke="#1f8c1f" stroke-width="1.6"/>
<line x1="120.65" y1="606.02" x2="125.15" y2="606.02" stroke="#1f8c1f" stroke-width="1.6"/>
<rect x="114.60" y="567.76" width="16.60" height="23.69" fill="none" stroke="#1f8c1f" stroke-width="1.6"/>
<line x1="114.60" y1="582.34" x2="131.20" y2="582.34" stroke="#1f8c1f" stroke-width="1.6"/>
<circle cx="122.90" cy="565.49" r="1.30" fill="#1f8c1f" stroke="none" stroke-width="1"/>
<circle cx="122.90" cy="588.72" r="1.30" fill="#1f8c1f" stroke="none" stroke-width="1"/>
<circle cx="122.90" cy="575.05" r="1.30" fill="#fff" stroke="#1f8c1f" stroke-width="0.7"/>
<circle cx="122.90" cy="586.89" r="1.30" fill="#fff" stroke="#1f8c1f" stroke-width="0.7"/>
<circle cx="122.90" cy="563.21" r="1.30" fill="#1f8c1f" stroke="none" stroke-width="1"/>
<circle cx="122.90" cy="606.02" r="1.30" fill="#1f8c1f" stroke="none" stroke-width="1"/>
<line x1="148.80" y1="581.43" x2="148.80" y2="585.98" stroke="#1f1ff5" stroke-width="1.6"/>
<line x1="148.80" y1="607.85" x2="148.80" y2="614.22" stroke="#1f1ff5" stroke-width="1.6"/>
<line x1="146.55" y1="581.43" x2="151.05" y2="581.43" stroke="#1f1ff5" stroke-width="1.6"/>
<line x1="146.55" y1="614.22" x2="151.05" y2="614.22" stroke="#1f1ff5" stroke-width="1.6"/>
<rect x="140.50" y="585.98" width="16.60" height="21.86" fill="none" stroke="#1f1ff5" stroke-width="1.6"/>
<line x1="140.50" y1="587.80" x2="157.10" y2="587.80" stroke="#1f1ff5" stroke-width="1.6"/>
<circle cx="148.80" cy="583.71" r="1.30" fill="#1f1ff5" stroke="none" stroke-width="1"/>
<circle cx="148.80" cy="601.83" r="1.30" fill="#1f1ff5" stroke="none" stroke-width="1"/>
<circle cx="148.80" cy="586.89" r="1.30" fill="#fff" stroke="#1f1ff5" stroke-width="0.7"/>
<circle cx="148.80" cy="597.83" r="1.30" fill="#fff" stroke="#1f1ff5" stroke-width="0.7"/>
<circle cx="148.80" cy="581.43" r="1.30" fill="#1f1ff5" stroke="none" stroke-width="1"/>
<circle cx="148.80" cy="614.22" r="1.30" fill="#1f1ff5" stroke="none" stroke-width="1"/>
<line x1="45.70" y1="628.80" x2="45.70" y2="631.00" stroke="#4b4c9c" stroke-width="1.1"/>
<line x1="71.00" y1="628.80" x2="71.00" y2="631.00" stroke="#4b4c9c" stroke-width="1.1"/>
<line x1="96.60" y1="628.80" x2="96.60" y2="631.00" stroke="#4b4c9c" stroke-width="1.1"/>
<line x1="122.90" y1="628.80" x2="122.90" y2="631.00" stroke="#4b4c9c" stroke-width="1.1"/>
<line x1="148.80" y1="628.80" x2="148.80" y2="631.00" stroke="#4b4c9c" stroke-width="1.1"/>
<text x="47.90" y="635.40" font-size="6.6" fill="#222" text-anchor="end" font-weight="bold" font-family='"Liberation Sans", sans-serif' transform="rotate(-45 47.90 635.40)">P0-P1</text>
<text x="73.20" y="635.40" font-size="6.6" fill="#222" text-anchor="end" font-weight="bold" font-family='"Liberation Sans", sans-serif' transform="rotate(-45 73.20 635.40)">P3-P4</text>
<text x="98.80" y="635.40" font-size="6.6" fill="#222" text-anchor="end" font-weight="bold" font-family='"Liberation Sans", sans-serif' transform="rotate(-45 98.80 635.40)">P6-P7</text>
<text x="125.10" y="635.40" font-size="6.6" fill="#222" text-anchor="end" font-weight="bold" font-family='"Liberation Sans", sans-serif' transform="rotate(-45 125.10 635.40)">P9-P10</text>
<text x="151.00" y="635.40" font-size="6.6" fill="#222" text-anchor="end" font-weight="bold" font-family='"Liberation Sans", sans-serif' transform="rotate(-45 151.00 635.40)">P11-P12</text>
<line x1="45.60" y1="532.80" x2="69.70" y2="532.80" stroke="#222" stroke-width="1.2"/>
<line x1="45.60" y1="531.10" x2="45.60" y2="534.50" stroke="#222" stroke-width="1.2"/>
<line x1="69.70" y1="531.10" x2="69.70" y2="534.50" stroke="#222" stroke-width="1.2"/>
<text x="57.65" y="531.50" font-size="5.6" fill="#222" text-anchor="middle" font-weight="bold" font-family='"Liberation Sans", sans-serif'>*</text>
<line x1="72.20" y1="532.80" x2="96.30" y2="532.80" stroke="#222" stroke-width="1.2"/>
<line x1="72.20" y1="531.10" x2="72.20" y2="534.50" stroke="#222" stroke-width="1.2"/>
<line x1="96.30" y1="531.10" x2="96.30" y2="534.50" stroke="#222" stroke-width="1.2"/>
<text x="84.25" y="531.50" font-size="5.6" fill="#222" text-anchor="middle" font-weight="bold" font-family='"Liberation Sans", sans-serif'>n.s.</text>
<line x1="99.00" y1="532.80" x2="123.50" y2="532.80" stroke="#222" stroke-width="1.2"/>
<line x1="99.00" y1="531.10" x2="99.00" y2="534.50" stroke="#222" stroke-width="1.2"/>
<line x1="123.50" y1="531.10" x2="123.50" y2="534.50" stroke="#222" stroke-width="1.2"/>
<text x="111.25" y="531.50" font-size="5.6" fill="#222" text-anchor="middle" font-weight="bold" font-family='"Liberation Sans", sans-serif'>*</text>
<line x1="126.00" y1="532.80" x2="150.10" y2="532.80" stroke="#222" stroke-width="1.2"/>
<line x1="126.00" y1="531.10" x2="126.00" y2="534.50" stroke="#222" stroke-width="1.2"/>
<line x1="150.10" y1="531.10" x2="150.10" y2="534.50" stroke="#222" stroke-width="1.2"/>
<text x="138.05" y="531.50" font-size="5.6" fill="#222" text-anchor="middle" font-weight="bold" font-family='"Liberation Sans", sans-serif'>*</text>
<line x1="45.60" y1="524.90" x2="148.40" y2="524.90" stroke="#222" stroke-width="1.2"/>
<line x1="45.60" y1="523.20" x2="45.60" y2="526.60" stroke="#222" stroke-width="1.2"/>
<line x1="148.40" y1="523.20" x2="148.40" y2="526.60" stroke="#222" stroke-width="1.2"/>
<text x="97.00" y="523.60" font-size="5.6" fill="#222" text-anchor="middle" font-weight="bold" font-family='"Liberation Sans", sans-serif'>***</text>
<line x1="70.10" y1="518.70" x2="149.50" y2="518.70" stroke="#222" stroke-width="1.2"/>
<line x1="70.10" y1="517.00" x2="70.10" y2="520.40" stroke="#222" stroke-width="1.2"/>
<line x1="149.50" y1="517.00" x2="149.50" y2="520.40" stroke="#222" stroke-width="1.2"/>
<text x="109.80" y="517.40" font-size="5.6" fill="#222" text-anchor="middle" font-weight="bold" font-family='"Liberation Sans", sans-serif'>***</text>
<line x1="95.20" y1="511.70" x2="148.80" y2="511.70" stroke="#222" stroke-width="1.2"/>
<line x1="95.20" y1="510.00" x2="95.20" y2="513.40" stroke="#222" stroke-width="1.2"/>
<line x1="148.80" y1="510.00" x2="148.80" y2="513.40" stroke="#222" stroke-width="1.2"/>
<text x="122.00" y="510.40" font-size="5.6" fill="#222" text-anchor="middle" font-weight="bold" font-family='"Liberation Sans", sans-serif'>***</text>
<text x="166.20" y="478.00" font-size="12.5" fill="#000" text-anchor="start" font-weight="normal" font-family='"Liberation Sans", sans-serif'>k</text>
<text x="280.30" y="482.80" font-size="13" fill="#000" text-anchor="start" font-weight="normal" font-family='"Liberation Sans", sans-serif' textLength="179.00" lengthAdjust="spacingAndGlyphs">Seed-based Bilateral Correlation</text>
<line x1="228.90" y1="508.50" x2="228.90" y2="630.50" stroke="#5b5ea6" stroke-width="1.3"/>
<line x1="228.90" y1="630.50" x2="499.00" y2="630.50" stroke="#5b5ea6" stroke-width="1.3"/>
<line x1="226.70" y1="630.96" x2="228.90" y2="630.96" stroke="#5b5ea6" stroke-width="1.3"/>
<text x="225.70" y="633.59" font-size="7.3" fill="#5b5ea6" text-anchor="end" font-weight="bold" font-family='"Liberation Sans", sans-serif'>-0.2</text>
<line x1="226.70" y1="606.60" x2="228.90" y2="606.60" stroke="#5b5ea6" stroke-width="1.3"/>
<text x="225.70" y="609.23" font-size="7.3" fill="#5b5ea6" text-anchor="end" font-weight="bold" font-family='"Liberation Sans", sans-serif'>0.0</text>
<line x1="226.70" y1="582.24" x2="228.90" y2="582.24" stroke="#5b5ea6" stroke-width="1.3"/>
<text x="225.70" y="584.87" font-size="7.3" fill="#5b5ea6" text-anchor="end" font-weight="bold" font-family='"Liberation Sans", sans-serif'>0.2</text>
<line x1="226.70" y1="557.88" x2="228.90" y2="557.88" stroke="#5b5ea6" stroke-width="1.3"/>
<text x="225.70" y="560.51" font-size="7.3" fill="#5b5ea6" text-anchor="end" font-weight="bold" font-family='"Liberation Sans", sans-serif'>0.4</text>
<line x1="226.70" y1="533.52" x2="228.90" y2="533.52" stroke="#5b5ea6" stroke-width="1.3"/>
<text x="225.70" y="536.15" font-size="7.3" fill="#5b5ea6" text-anchor="end" font-weight="bold" font-family='"Liberation Sans", sans-serif'>0.6</text>
<line x1="226.70" y1="509.16" x2="228.90" y2="509.16" stroke="#5b5ea6" stroke-width="1.3"/>
<text x="225.70" y="511.79" font-size="7.3" fill="#5b5ea6" text-anchor="end" font-weight="bold" font-family='"Liberation Sans", sans-serif'>0.8</text>
<line x1="229" y1="606.60" x2="499" y2="606.60" stroke="#7a7db5" stroke-width="0.8" stroke-dasharray="1.2,2"/>
<text x="197.30" y="569.50" font-size="7.2" fill="#111" text-anchor="middle" font-weight="bold" font-family='"Liberation Sans", sans-serif' textLength="86.00" lengthAdjust="spacingAndGlyphs" transform="rotate(-90 197.30 569.50)">Max contra-correlation</text>
<line x1="237.10" y1="549.35" x2="237.10" y2="551.79" stroke="#4c96ec" stroke-width="1.5"/>
<line x1="237.10" y1="562.75" x2="237.10" y2="571.28" stroke="#4c96ec" stroke-width="1.5"/>
<line x1="235.60" y1="549.35" x2="238.60" y2="549.35" stroke="#4c96ec" stroke-width="1.5"/>
<line x1="235.60" y1="571.28" x2="238.60" y2="571.28" stroke="#4c96ec" stroke-width="1.5"/>
<rect x="233.70" y="551.79" width="6.80" height="10.96" fill="none" stroke="#4c96ec" stroke-width="1.5"/>
<line x1="233.70" y1="557.88" x2="240.50" y2="557.88" stroke="#4c96ec" stroke-width="1.5"/>
<circle cx="237.10" cy="550.57" r="1.60" fill="#4c96ec" stroke="none" stroke-width="1"/>
<circle cx="237.10" cy="567.01" r="1.60" fill="#4c96ec" stroke="none" stroke-width="1"/>
<circle cx="237.10" cy="551.79" r="1.60" fill="#4c96ec" stroke="none" stroke-width="1"/>
<circle cx="237.10" cy="554.84" r="1.60" fill="#fff" stroke="#4c96ec" stroke-width="0.7"/>
<circle cx="237.10" cy="560.32" r="1.60" fill="#fff" stroke="#4c96ec" stroke-width="0.7"/>
<circle cx="237.10" cy="549.35" r="1.60" fill="#4c96ec" stroke="none" stroke-width="1"/>
<circle cx="237.10" cy="571.28" r="1.60" fill="#4c96ec" stroke="none" stroke-width="1"/>
<line x1="248.80" y1="514.64" x2="248.80" y2="521.83" stroke="#4c96ec" stroke-width="1.5"/>
<line x1="248.80" y1="556.17" x2="248.80" y2="573.71" stroke="#4c96ec" stroke-width="1.5"/>
<line x1="247.30" y1="514.64" x2="250.30" y2="514.64" stroke="#4c96ec" stroke-width="1.5"/>
<line x1="247.30" y1="573.71" x2="250.30" y2="573.71" stroke="#4c96ec" stroke-width="1.5"/>
<rect x="245.40" y="521.83" width="6.80" height="34.35" fill="none" stroke="#4c96ec" stroke-width="1.5"/>
<line x1="245.40" y1="539.12" x2="252.20" y2="539.12" stroke="#4c96ec" stroke-width="1.5"/>
<circle cx="248.80" cy="518.23" r="1.60" fill="#4c96ec" stroke="none" stroke-width="1"/>
<circle cx="248.80" cy="564.94" r="1.60" fill="#4c96ec" stroke="none" stroke-width="1"/>
<circle cx="248.80" cy="517.08" r="1.60" fill="#4c96ec" stroke="none" stroke-width="1"/>
<circle cx="248.80" cy="530.48" r="1.60" fill="#fff" stroke="#4c96ec" stroke-width="0.7"/>
<circle cx="248.80" cy="547.65" r="1.60" fill="#fff" stroke="#4c96ec" stroke-width="0.7"/>
<circle cx="248.80" cy="514.64" r="1.60" fill="#4c96ec" stroke="none" stroke-width="1"/>
<circle cx="248.80" cy="573.71" r="1.60" fill="#4c96ec" stroke="none" stroke-width="1"/>
<line x1="260.80" y1="525.12" x2="260.80" y2="530.23" stroke="#4c96ec" stroke-width="1.5"/>
<line x1="260.80" y1="545.46" x2="260.80" y2="548.14" stroke="#4c96ec" stroke-width="1.5"/>
<line x1="259.30" y1="525.12" x2="262.30" y2="525.12" stroke="#4c96ec" stroke-width="1.5"/>
<line x1="259.30" y1="548.14" x2="262.30" y2="548.14" stroke="#4c96ec" stroke-width="1.5"/>
<rect x="257.40" y="530.23" width="6.80" height="15.23" fill="none" stroke="#4c96ec" stroke-width="1.5"/>
<line x1="257.40" y1="535.96" x2="264.20" y2="535.96" stroke="#4c96ec" stroke-width="1.5"/>
<circle cx="260.80" cy="527.67" r="1.60" fill="#4c96ec" stroke="none" stroke-width="1"/>
<circle cx="260.80" cy="546.80" r="1.60" fill="#4c96ec" stroke="none" stroke-width="1"/>
<circle cx="260.80" cy="527.55" r="1.60" fill="#4c96ec" stroke="none" stroke-width="1"/>
<circle cx="260.80" cy="533.09" r="1.60" fill="#fff" stroke="#4c96ec" stroke-width="0.7"/>
<circle cx="260.80" cy="540.71" r="1.60" fill="#fff" stroke="#4c96ec" stroke-width="0.7"/>
<circle cx="260.80" cy="525.12" r="1.60" fill="#4c96ec" stroke="none" stroke-width="1"/>
<circle cx="260.80" cy="548.14" r="1.60" fill="#4c96ec" stroke="none" stroke-width="1"/>
<line x1="273.00" y1="540.46" x2="273.00" y2="544.24" stroke="#4c96ec" stroke-width="1.5"/>
<line x1="273.00" y1="571.03" x2="273.00" y2="582.24" stroke="#4c96ec" stroke-width="1.5"/>
<line x1="271.50" y1="540.46" x2="274.50" y2="540.46" stroke="#4c96ec" stroke-width="1.5"/>
<line x1="271.50" y1="582.24" x2="274.50" y2="582.24" stroke="#4c96ec" stroke-width="1.5"/>
<rect x="269.60" y="544.24" width="6.80" height="26.80" fill="none" stroke="#4c96ec" stroke-width="1.5"/>
<line x1="269.60" y1="556.17" x2="276.40" y2="556.17" stroke="#4c96ec" stroke-width="1.5"/>
<circle cx="273.00" cy="542.35" r="1.60" fill="#4c96ec" stroke="none" stroke-width="1"/>
<circle cx="273.00" cy="576.64" r="1.60" fill="#4c96ec" stroke="none" stroke-width="1"/>
<circle cx="273.00" cy="542.90" r="1.60" fill="#4c96ec" stroke="none" stroke-width="1"/>
<circle cx="273.00" cy="550.21" r="1.60" fill="#fff" stroke="#4c96ec" stroke-width="0.7"/>
<circle cx="273.00" cy="563.60" r="1.60" fill="#fff" stroke="#4c96ec" stroke-width="0.7"/>
<circle cx="273.00" cy="540.46" r="1.60" fill="#4c96ec" stroke="none" stroke-width="1"/>
<circle cx="273.00" cy="582.24" r="1.60" fill="#4c96ec" stroke="none" stroke-width="1"/>
<line x1="285.60" y1="540.83" x2="285.60" y2="553.01" stroke="#4c96ec" stroke-width="1.5"/>
<line x1="285.60" y1="585.16" x2="285.60" y2="598.44" stroke="#4c96ec" stroke-width="1.5"/>
<line x1="284.10" y1="540.83" x2="287.10" y2="540.83" stroke="#4c96ec" stroke-width="1.5"/>
<line x1="284.10" y1="598.44" x2="287.10" y2="598.44" stroke="#4c96ec" stroke-width="1.5"/>
<rect x="282.20" y="553.01" width="6.80" height="32.16" fill="none" stroke="#4c96ec" stroke-width="1.5"/>
<line x1="282.20" y1="569.69" x2="289.00" y2="569.69" stroke="#4c96ec" stroke-width="1.5"/>
<circle cx="285.60" cy="546.92" r="1.60" fill="#4c96ec" stroke="none" stroke-width="1"/>
<circle cx="285.60" cy="591.80" r="1.60" fill="#4c96ec" stroke="none" stroke-width="1"/>
<circle cx="285.60" cy="543.26" r="1.60" fill="#4c96ec" stroke="none" stroke-width="1"/>
<circle cx="285.60" cy="561.35" r="1.60" fill="#fff" stroke="#4c96ec" stroke-width="0.7"/>
<circle cx="285.60" cy="577.43" r="1.60" fill="#fff" stroke="#4c96ec" stroke-width="0.7"/>
<circle cx="285.60" cy="540.83" r="1.60" fill="#4c96ec" stroke="none" stroke-width="1"/>
<circle cx="285.60" cy="598.44" r="1.60" fill="#4c96ec" stroke="none" stroke-width="1"/>
<line x1="237.10" y1="630.50" x2="237.10" y2="632.90" stroke="#5b5ea6" stroke-width="1.3"/>
<line x1="248.80" y1="630.50" x2="248.80" y2="632.90" stroke="#5b5ea6" stroke-width="1.3"/>
<line x1="260.80" y1="630.50" x2="260.80" y2="632.90" stroke="#5b5ea6" stroke-width="1.3"/>
<line x1="273.00" y1="630.50" x2="273.00" y2="632.90" stroke="#5b5ea6" stroke-width="1.3"/>
<line x1="285.60" y1="630.50" x2="285.60" y2="632.90" stroke="#5b5ea6" stroke-width="1.3"/>
<text x="239.50" y="637.20" font-size="7.2" fill="#5b5ea6" text-anchor="end" font-weight="bold" font-family='"Liberation Sans", sans-serif' transform="rotate(-45 239.50 637.20)">P0-P1</text>
<text x="251.20" y="637.20" font-size="7.2" fill="#5b5ea6" text-anchor="end" font-weight="bold" font-family='"Liberation Sans", sans-serif' transform="rotate(-45 251.20 637.20)">P3-P4</text>
<text x="263.20" y="637.20" font-size="7.2" fill="#5b5ea6" text-anchor="end" font-weight="bold" font-family='"Liberation Sans", sans-serif' transform="rotate(-45 263.20 637.20)">P6-P7</text>
<text x="275.40" y="637.20" font-size="7.2" fill="#5b5ea6" text-anchor="end" font-weight="bold" font-family='"Liberation Sans", sans-serif' transform="rotate(-45 275.40 637.20)">P9-P10</text>
<text x="288.00" y="637.20" font-size="7.2" fill="#5b5ea6" text-anchor="end" font-weight="bold" font-family='"Liberation Sans", sans-serif' transform="rotate(-45 288.00 637.20)">P11-12</text>
<line x1="305.50" y1="548.14" x2="305.50" y2="556.66" stroke="#9fcbf3" stroke-width="1.5"/>
<line x1="305.50" y1="563.97" x2="305.50" y2="578.59" stroke="#9fcbf3" stroke-width="1.5"/>
<line x1="304.00" y1="548.14" x2="307.00" y2="548.14" stroke="#9fcbf3" stroke-width="1.5"/>
<line x1="304.00" y1="578.59" x2="307.00" y2="578.59" stroke="#9fcbf3" stroke-width="1.5"/>
<rect x="302.10" y="556.66" width="6.80" height="7.31" fill="none" stroke="#9fcbf3" stroke-width="1.5"/>
<line x1="302.10" y1="559.34" x2="308.90" y2="559.34" stroke="#9fcbf3" stroke-width="1.5"/>
<circle cx="305.50" cy="552.40" r="1.60" fill="#9fcbf3" stroke="none" stroke-width="1"/>
<circle cx="305.50" cy="571.28" r="1.60" fill="#9fcbf3" stroke="none" stroke-width="1"/>
<circle cx="305.50" cy="550.57" r="1.60" fill="#9fcbf3" stroke="none" stroke-width="1"/>
<circle cx="305.50" cy="558.00" r="1.60" fill="#fff" stroke="#9fcbf3" stroke-width="0.7"/>
<circle cx="305.50" cy="561.66" r="1.60" fill="#fff" stroke="#9fcbf3" stroke-width="0.7"/>
<circle cx="305.50" cy="548.14" r="1.60" fill="#9fcbf3" stroke="none" stroke-width="1"/>
<circle cx="305.50" cy="578.59" r="1.60" fill="#9fcbf3" stroke="none" stroke-width="1"/>
<line x1="317.40" y1="515.86" x2="317.40" y2="527.43" stroke="#9fcbf3" stroke-width="1.5"/>
<line x1="317.40" y1="551.79" x2="317.40" y2="570.30" stroke="#9fcbf3" stroke-width="1.5"/>
<line x1="315.90" y1="515.86" x2="318.90" y2="515.86" stroke="#9fcbf3" stroke-width="1.5"/>
<line x1="315.90" y1="570.30" x2="318.90" y2="570.30" stroke="#9fcbf3" stroke-width="1.5"/>
<rect x="314.00" y="527.43" width="6.80" height="24.36" fill="none" stroke="#9fcbf3" stroke-width="1.5"/>
<line x1="314.00" y1="537.90" x2="320.80" y2="537.90" stroke="#9fcbf3" stroke-width="1.5"/>
<circle cx="317.40" cy="521.64" r="1.60" fill="#9fcbf3" stroke="none" stroke-width="1"/>
<circle cx="317.40" cy="561.05" r="1.60" fill="#9fcbf3" stroke="none" stroke-width="1"/>
<circle cx="317.40" cy="518.30" r="1.60" fill="#9fcbf3" stroke="none" stroke-width="1"/>
<circle cx="317.40" cy="532.67" r="1.60" fill="#fff" stroke="#9fcbf3" stroke-width="0.7"/>
<circle cx="317.40" cy="544.85" r="1.60" fill="#fff" stroke="#9fcbf3" stroke-width="0.7"/>
<circle cx="317.40" cy="515.86" r="1.60" fill="#9fcbf3" stroke="none" stroke-width="1"/>
<circle cx="317.40" cy="570.30" r="1.60" fill="#9fcbf3" stroke="none" stroke-width="1"/>
<line x1="329.20" y1="528.89" x2="329.20" y2="539.12" stroke="#9fcbf3" stroke-width="1.5"/>
<line x1="329.20" y1="550.57" x2="329.20" y2="557.51" stroke="#9fcbf3" stroke-width="1.5"/>
<line x1="327.70" y1="528.89" x2="330.70" y2="528.89" stroke="#9fcbf3" stroke-width="1.5"/>
<line x1="327.70" y1="557.51" x2="330.70" y2="557.51" stroke="#9fcbf3" stroke-width="1.5"/>
<rect x="325.80" y="539.12" width="6.80" height="11.45" fill="none" stroke="#9fcbf3" stroke-width="1.5"/>
<line x1="325.80" y1="544.24" x2="332.60" y2="544.24" stroke="#9fcbf3" stroke-width="1.5"/>
<circle cx="329.20" cy="534.01" r="1.60" fill="#9fcbf3" stroke="none" stroke-width="1"/>
<circle cx="329.20" cy="554.04" r="1.60" fill="#9fcbf3" stroke="none" stroke-width="1"/>
<circle cx="329.20" cy="531.33" r="1.60" fill="#9fcbf3" stroke="none" stroke-width="1"/>
<circle cx="329.20" cy="541.68" r="1.60" fill="#fff" stroke="#9fcbf3" stroke-width="0.7"/>
<circle cx="329.20" cy="547.41" r="1.60" fill="#fff" stroke="#9fcbf3" stroke-width="0.7"/>
<circle cx="329.20" cy="528.89" r="1.60" fill="#9fcbf3" stroke="none" stroke-width="1"/>
<circle cx="329.20" cy="557.51" r="1.60" fill="#9fcbf3" stroke="none" stroke-width="1"/>
<line x1="341.40" y1="535.83" x2="341.40" y2="545.94" stroke="#9fcbf3" stroke-width="1.5"/>
<line x1="341.40" y1="572.01" x2="341.40" y2="597.83" stroke="#9fcbf3" stroke-width="1.5"/>
<line x1="339.90" y1="535.83" x2="342.90" y2="535.83" stroke="#9fcbf3" stroke-width="1.5"/>
<line x1="339.90" y1="597.83" x2="342.90" y2="597.83" stroke="#9fcbf3" stroke-width="1.5"/>
<rect x="338.00" y="545.94" width="6.80" height="26.07" fill="none" stroke="#9fcbf3" stroke-width="1.5"/>
<line x1="338.00" y1="556.17" x2="344.80" y2="556.17" stroke="#9fcbf3" stroke-width="1.5"/>
<circle cx="341.40" cy="540.89" r="1.60" fill="#9fcbf3" stroke="none" stroke-width="1"/>
<circle cx="341.40" cy="584.92" r="1.60" fill="#9fcbf3" stroke="none" stroke-width="1"/>
<circle cx="341.40" cy="538.27" r="1.60" fill="#9fcbf3" stroke="none" stroke-width="1"/>
<circle cx="341.40" cy="551.06" r="1.60" fill="#fff" stroke="#9fcbf3" stroke-width="0.7"/>
<circle cx="341.40" cy="564.09" r="1.60" fill="#fff" stroke="#9fcbf3" stroke-width="0.7"/>
<circle cx="341.40" cy="535.83" r="1.60" fill="#9fcbf3" stroke="none" stroke-width="1"/>
<circle cx="341.40" cy="597.83" r="1.60" fill="#9fcbf3" stroke="none" stroke-width="1"/>
<line x1="353.40" y1="568.23" x2="353.40" y2="582.48" stroke="#9fcbf3" stroke-width="1.5"/>
<line x1="353.40" y1="597.83" x2="353.40" y2="605.99" stroke="#9fcbf3" stroke-width="1.5"/>
<line x1="351.90" y1="568.23" x2="354.90" y2="568.23" stroke="#9fcbf3" stroke-width="1.5"/>
<line x1="351.90" y1="605.99" x2="354.90" y2="605.99" stroke="#9fcbf3" stroke-width="1.5"/>
<rect x="350.00" y="582.48" width="6.80" height="15.35" fill="none" stroke="#9fcbf3" stroke-width="1.5"/>
<line x1="350.00" y1="586.87" x2="356.80" y2="586.87" stroke="#9fcbf3" stroke-width="1.5"/>
<circle cx="353.40" cy="575.36" r="1.60" fill="#9fcbf3" stroke="none" stroke-width="1"/>
<circle cx="353.40" cy="601.91" r="1.60" fill="#9fcbf3" stroke="none" stroke-width="1"/>
<circle cx="353.40" cy="570.67" r="1.60" fill="#9fcbf3" stroke="none" stroke-width="1"/>
<circle cx="353.40" cy="584.68" r="1.60" fill="#fff" stroke="#9fcbf3" stroke-width="0.7"/>
<circle cx="353.40" cy="592.35" r="1.60" fill="#fff" stroke="#9fcbf3" stroke-width="0.7"/>
<circle cx="353.40" cy="568.23" r="1.60" fill="#9fcbf3" stroke="none" stroke-width="1"/>
<circle cx="353.40" cy="605.99" r="1.60" fill="#9fcbf3" stroke="none" stroke-width="1"/>
<line x1="305.50" y1="630.50" x2="305.50" y2="632.90" stroke="#5b5ea6" stroke-width="1.3"/>
<line x1="317.40" y1="630.50" x2="317.40" y2="632.90" stroke="#5b5ea6" stroke-width="1.3"/>
<line x1="329.20" y1="630.50" x2="329.20" y2="632.90" stroke="#5b5ea6" stroke-width="1.3"/>
<line x1="341.40" y1="630.50" x2="341.40" y2="632.90" stroke="#5b5ea6" stroke-width="1.3"/>
<line x1="353.40" y1="630.50" x2="353.40" y2="632.90" stroke="#5b5ea6" stroke-width="1.3"/>
<text x="307.90" y="637.20" font-size="7.2" fill="#5b5ea6" text-anchor="end" font-weight="bold" font-family='"Liberation Sans", sans-serif' transform="rotate(-45 307.90 637.20)">P0-P1</text>
<text x="319.80" y="637.20" font-size="7.2" fill="#5b5ea6" text-anchor="end" font-weight="bold" font-family='"Liberation Sans", sans-serif' transform="rotate(-45 319.80 637.20)">P3-P4</text>
<text x="331.60" y="637.20" font-size="7.2" fill="#5b5ea6" text-anchor="end" font-weight="bold" font-family='"Liberation Sans", sans-serif' transform="rotate(-45 331.60 637.20)">P6-P7</text>
<text x="343.80" y="637.20" font-size="7.2" fill="#5b5ea6" text-anchor="end" font-weight="bold" font-family='"Liberation Sans", sans-serif' transform="rotate(-45 343.80 637.20)">P9-P10</text>
<text x="355.80" y="637.20" font-size="7.2" fill="#5b5ea6" text-anchor="end" font-weight="bold" font-family='"Liberation Sans", sans-serif' transform="rotate(-45 355.80 637.20)">P11-12</text>
<line x1="374.00" y1="545.94" x2="374.00" y2="563.97" stroke="#f47a7a" stroke-width="1.5"/>
<line x1="374.00" y1="577.37" x2="374.00" y2="579.80" stroke="#f47a7a" stroke-width="1.5"/>
<line x1="372.50" y1="545.94" x2="375.50" y2="545.94" stroke="#f47a7a" stroke-width="1.5"/>
<line x1="372.50" y1="579.80" x2="375.50" y2="579.80" stroke="#f47a7a" stroke-width="1.5"/>
<rect x="370.60" y="563.97" width="6.80" height="13.40" fill="none" stroke="#f47a7a" stroke-width="1.5"/>
<line x1="370.60" y1="568.84" x2="377.40" y2="568.84" stroke="#f47a7a" stroke-width="1.5"/>
<circle cx="374.00" cy="554.96" r="1.60" fill="#f47a7a" stroke="none" stroke-width="1"/>
<circle cx="374.00" cy="578.59" r="1.60" fill="#f47a7a" stroke="none" stroke-width="1"/>
<circle cx="374.00" cy="548.38" r="1.60" fill="#f47a7a" stroke="none" stroke-width="1"/>
<circle cx="374.00" cy="566.41" r="1.60" fill="#fff" stroke="#f47a7a" stroke-width="0.7"/>
<circle cx="374.00" cy="573.11" r="1.60" fill="#fff" stroke="#f47a7a" stroke-width="0.7"/>
<circle cx="374.00" cy="545.94" r="1.60" fill="#f47a7a" stroke="none" stroke-width="1"/>
<circle cx="374.00" cy="579.80" r="1.60" fill="#f47a7a" stroke="none" stroke-width="1"/>
<line x1="385.80" y1="519.27" x2="385.80" y2="530.23" stroke="#f47a7a" stroke-width="1.5"/>
<line x1="385.80" y1="550.45" x2="385.80" y2="573.71" stroke="#f47a7a" stroke-width="1.5"/>
<line x1="384.30" y1="519.27" x2="387.30" y2="519.27" stroke="#f47a7a" stroke-width="1.5"/>
<line x1="384.30" y1="573.71" x2="387.30" y2="573.71" stroke="#f47a7a" stroke-width="1.5"/>
<rect x="382.40" y="530.23" width="6.80" height="20.22" fill="none" stroke="#f47a7a" stroke-width="1.5"/>
<line x1="382.40" y1="549.35" x2="389.20" y2="549.35" stroke="#f47a7a" stroke-width="1.5"/>
<circle cx="385.80" cy="524.75" r="1.60" fill="#f47a7a" stroke="none" stroke-width="1"/>
<circle cx="385.80" cy="562.08" r="1.60" fill="#f47a7a" stroke="none" stroke-width="1"/>
<circle cx="385.80" cy="521.71" r="1.60" fill="#f47a7a" stroke="none" stroke-width="1"/>
<circle cx="385.80" cy="539.79" r="1.60" fill="#fff" stroke="#f47a7a" stroke-width="0.7"/>
<circle cx="385.80" cy="549.90" r="1.60" fill="#fff" stroke="#f47a7a" stroke-width="0.7"/>
<circle cx="385.80" cy="519.27" r="1.60" fill="#f47a7a" stroke="none" stroke-width="1"/>
<circle cx="385.80" cy="573.71" r="1.60" fill="#f47a7a" stroke="none" stroke-width="1"/>
<line x1="397.80" y1="548.14" x2="397.80" y2="553.74" stroke="#f47a7a" stroke-width="1.5"/>
<line x1="397.80" y1="569.69" x2="397.80" y2="572.86" stroke="#f47a7a" stroke-width="1.5"/>
<line x1="396.30" y1="548.14" x2="399.30" y2="548.14" stroke="#f47a7a" stroke-width="1.5"/>
<line x1="396.30" y1="572.86" x2="399.30" y2="572.86" stroke="#f47a7a" stroke-width="1.5"/>
<rect x="394.40" y="553.74" width="6.80" height="15.96" fill="none" stroke="#f47a7a" stroke-width="1.5"/>
<line x1="394.40" y1="557.51" x2="401.20" y2="557.51" stroke="#f47a7a" stroke-width="1.5"/>
<circle cx="397.80" cy="550.94" r="1.60" fill="#f47a7a" stroke="none" stroke-width="1"/>
<circle cx="397.80" cy="571.28" r="1.60" fill="#f47a7a" stroke="none" stroke-width="1"/>
<circle cx="397.80" cy="550.57" r="1.60" fill="#f47a7a" stroke="none" stroke-width="1"/>
<circle cx="397.80" cy="555.63" r="1.60" fill="#fff" stroke="#f47a7a" stroke-width="0.7"/>
<circle cx="397.80" cy="563.60" r="1.60" fill="#fff" stroke="#f47a7a" stroke-width="0.7"/>
<circle cx="397.80" cy="548.14" r="1.60" fill="#f47a7a" stroke="none" stroke-width="1"/>
<circle cx="397.80" cy="572.86" r="1.60" fill="#f47a7a" stroke="none" stroke-width="1"/>
<line x1="410.00" y1="554.47" x2="410.00" y2="563.12" stroke="#f47a7a" stroke-width="1.5"/>
<line x1="410.00" y1="585.16" x2="410.00" y2="603.92" stroke="#f47a7a" stroke-width="1.5"/>
<line x1="408.50" y1="554.47" x2="411.50" y2="554.47" stroke="#f47a7a" stroke-width="1.5"/>
<line x1="408.50" y1="603.92" x2="411.50" y2="603.92" stroke="#f47a7a" stroke-width="1.5"/>
<rect x="406.60" y="563.12" width="6.80" height="22.05" fill="none" stroke="#f47a7a" stroke-width="1.5"/>
<line x1="406.60" y1="574.08" x2="413.40" y2="574.08" stroke="#f47a7a" stroke-width="1.5"/>
<circle cx="410.00" cy="558.79" r="1.60" fill="#f47a7a" stroke="none" stroke-width="1"/>
<circle cx="410.00" cy="594.54" r="1.60" fill="#f47a7a" stroke="none" stroke-width="1"/>
<circle cx="410.00" cy="556.91" r="1.60" fill="#f47a7a" stroke="none" stroke-width="1"/>
<circle cx="410.00" cy="568.60" r="1.60" fill="#fff" stroke="#f47a7a" stroke-width="0.7"/>
<circle cx="410.00" cy="579.62" r="1.60" fill="#fff" stroke="#f47a7a" stroke-width="0.7"/>
<circle cx="410.00" cy="554.47" r="1.60" fill="#f47a7a" stroke="none" stroke-width="1"/>
<circle cx="410.00" cy="603.92" r="1.60" fill="#f47a7a" stroke="none" stroke-width="1"/>
<line x1="422.00" y1="584.31" x2="422.00" y2="593.93" stroke="#f47a7a" stroke-width="1.5"/>
<line x1="422.00" y1="599.05" x2="422.00" y2="625.11" stroke="#f47a7a" stroke-width="1.5"/>
<line x1="420.50" y1="584.31" x2="423.50" y2="584.31" stroke="#f47a7a" stroke-width="1.5"/>
<line x1="420.50" y1="625.11" x2="423.50" y2="625.11" stroke="#f47a7a" stroke-width="1.5"/>
<rect x="418.60" y="593.93" width="6.80" height="5.12" fill="none" stroke="#f47a7a" stroke-width="1.5"/>
<line x1="418.60" y1="596.49" x2="425.40" y2="596.49" stroke="#f47a7a" stroke-width="1.5"/>
<circle cx="422.00" cy="589.12" r="1.60" fill="#f47a7a" stroke="none" stroke-width="1"/>
<circle cx="422.00" cy="612.08" r="1.60" fill="#f47a7a" stroke="none" stroke-width="1"/>
<circle cx="422.00" cy="586.75" r="1.60" fill="#f47a7a" stroke="none" stroke-width="1"/>
<circle cx="422.00" cy="595.21" r="1.60" fill="#fff" stroke="#f47a7a" stroke-width="0.7"/>
<circle cx="422.00" cy="597.77" r="1.60" fill="#fff" stroke="#f47a7a" stroke-width="0.7"/>
<circle cx="422.00" cy="584.31" r="1.60" fill="#f47a7a" stroke="none" stroke-width="1"/>
<circle cx="422.00" cy="625.11" r="1.60" fill="#f47a7a" stroke="none" stroke-width="1"/>
<line x1="374.00" y1="630.50" x2="374.00" y2="632.90" stroke="#5b5ea6" stroke-width="1.3"/>
<line x1="385.80" y1="630.50" x2="385.80" y2="632.90" stroke="#5b5ea6" stroke-width="1.3"/>
<line x1="397.80" y1="630.50" x2="397.80" y2="632.90" stroke="#5b5ea6" stroke-width="1.3"/>
<line x1="410.00" y1="630.50" x2="410.00" y2="632.90" stroke="#5b5ea6" stroke-width="1.3"/>
<line x1="422.00" y1="630.50" x2="422.00" y2="632.90" stroke="#5b5ea6" stroke-width="1.3"/>
<text x="376.40" y="637.20" font-size="7.2" fill="#5b5ea6" text-anchor="end" font-weight="bold" font-family='"Liberation Sans", sans-serif' transform="rotate(-45 376.40 637.20)">P0-P1</text>
<text x="388.20" y="637.20" font-size="7.2" fill="#5b5ea6" text-anchor="end" font-weight="bold" font-family='"Liberation Sans", sans-serif' transform="rotate(-45 388.20 637.20)">P3-P4</text>
<text x="400.20" y="637.20" font-size="7.2" fill="#5b5ea6" text-anchor="end" font-weight="bold" font-family='"Liberation Sans", sans-serif' transform="rotate(-45 400.20 637.20)">P6-P7</text>
<text x="412.40" y="637.20" font-size="7.2" fill="#5b5ea6" text-anchor="end" font-weight="bold" font-family='"Liberation Sans", sans-serif' transform="rotate(-45 412.40 637.20)">P9-P10</text>
<text x="424.40" y="637.20" font-size="7.2" fill="#5b5ea6" text-anchor="end" font-weight="bold" font-family='"Liberation Sans", sans-serif' transform="rotate(-45 424.40 637.20)">P11-12</text>
<line x1="442.10" y1="553.01" x2="442.10" y2="560.32" stroke="#585c9e" stroke-width="1.5"/>
<line x1="442.10" y1="562.14" x2="442.10" y2="576.15" stroke="#585c9e" stroke-width="1.5"/>
<line x1="440.60" y1="553.01" x2="443.60" y2="553.01" stroke="#585c9e" stroke-width="1.5"/>
<line x1="440.60" y1="576.15" x2="443.60" y2="576.15" stroke="#585c9e" stroke-width="1.5"/>
<rect x="438.70" y="560.32" width="6.80" height="1.83" fill="none" stroke="#585c9e" stroke-width="1.5"/>
<line x1="438.70" y1="561.29" x2="445.50" y2="561.29" stroke="#585c9e" stroke-width="1.5"/>
<circle cx="442.10" cy="556.66" r="1.60" fill="#585c9e" stroke="none" stroke-width="1"/>
<circle cx="442.10" cy="569.15" r="1.60" fill="#585c9e" stroke="none" stroke-width="1"/>
<circle cx="442.10" cy="555.44" r="1.60" fill="#585c9e" stroke="none" stroke-width="1"/>
<circle cx="442.10" cy="560.80" r="1.60" fill="#fff" stroke="#585c9e" stroke-width="0.7"/>
<circle cx="442.10" cy="561.72" r="1.60" fill="#fff" stroke="#585c9e" stroke-width="0.7"/>
<circle cx="442.10" cy="553.01" r="1.60" fill="#585c9e" stroke="none" stroke-width="1"/>
<circle cx="442.10" cy="576.15" r="1.60" fill="#585c9e" stroke="none" stroke-width="1"/>
<line x1="454.40" y1="516.22" x2="454.40" y2="526.46" stroke="#585c9e" stroke-width="1.5"/>
<line x1="454.40" y1="554.96" x2="454.40" y2="572.86" stroke="#585c9e" stroke-width="1.5"/>
<line x1="452.90" y1="516.22" x2="455.90" y2="516.22" stroke="#585c9e" stroke-width="1.5"/>
<line x1="452.90" y1="572.86" x2="455.90" y2="572.86" stroke="#585c9e" stroke-width="1.5"/>
<rect x="451.00" y="526.46" width="6.80" height="28.50" fill="none" stroke="#585c9e" stroke-width="1.5"/>
<line x1="451.00" y1="544.73" x2="457.80" y2="544.73" stroke="#585c9e" stroke-width="1.5"/>
<circle cx="454.40" cy="521.34" r="1.60" fill="#585c9e" stroke="none" stroke-width="1"/>
<circle cx="454.40" cy="563.91" r="1.60" fill="#585c9e" stroke="none" stroke-width="1"/>
<circle cx="454.40" cy="518.66" r="1.60" fill="#585c9e" stroke="none" stroke-width="1"/>
<circle cx="454.40" cy="535.59" r="1.60" fill="#fff" stroke="#585c9e" stroke-width="0.7"/>
<circle cx="454.40" cy="549.84" r="1.60" fill="#fff" stroke="#585c9e" stroke-width="0.7"/>
<circle cx="454.40" cy="516.22" r="1.60" fill="#585c9e" stroke="none" stroke-width="1"/>
<circle cx="454.40" cy="572.86" r="1.60" fill="#585c9e" stroke="none" stroke-width="1"/>
<line x1="466.10" y1="536.57" x2="466.10" y2="540.46" stroke="#585c9e" stroke-width="1.5"/>
<line x1="466.10" y1="553.01" x2="466.10" y2="556.66" stroke="#585c9e" stroke-width="1.5"/>
<line x1="464.60" y1="536.57" x2="467.60" y2="536.57" stroke="#585c9e" stroke-width="1.5"/>
<line x1="464.60" y1="556.66" x2="467.60" y2="556.66" stroke="#585c9e" stroke-width="1.5"/>
<rect x="462.70" y="540.46" width="6.80" height="12.55" fill="none" stroke="#585c9e" stroke-width="1.5"/>
<line x1="462.70" y1="547.28" x2="469.50" y2="547.28" stroke="#585c9e" stroke-width="1.5"/>
<circle cx="466.10" cy="538.51" r="1.60" fill="#585c9e" stroke="none" stroke-width="1"/>
<circle cx="466.10" cy="554.84" r="1.60" fill="#585c9e" stroke="none" stroke-width="1"/>
<circle cx="466.10" cy="539.00" r="1.60" fill="#585c9e" stroke="none" stroke-width="1"/>
<circle cx="466.10" cy="543.87" r="1.60" fill="#fff" stroke="#585c9e" stroke-width="0.7"/>
<circle cx="466.10" cy="550.15" r="1.60" fill="#fff" stroke="#585c9e" stroke-width="0.7"/>
<circle cx="466.10" cy="536.57" r="1.60" fill="#585c9e" stroke="none" stroke-width="1"/>
<circle cx="466.10" cy="556.66" r="1.60" fill="#585c9e" stroke="none" stroke-width="1"/>
<line x1="477.90" y1="544.24" x2="477.90" y2="550.45" stroke="#585c9e" stroke-width="1.5"/>
<line x1="477.90" y1="573.35" x2="477.90" y2="594.05" stroke="#585c9e" stroke-width="1.5"/>
<line x1="476.40" y1="544.24" x2="479.40" y2="544.24" stroke="#585c9e" stroke-width="1.5"/>
<line x1="476.40" y1="594.05" x2="479.40" y2="594.05" stroke="#585c9e" stroke-width="1.5"/>
<rect x="474.50" y="550.45" width="6.80" height="22.90" fill="none" stroke="#585c9e" stroke-width="1.5"/>
<line x1="474.50" y1="562.63" x2="481.30" y2="562.63" stroke="#585c9e" stroke-width="1.5"/>
<circle cx="477.90" cy="547.34" r="1.60" fill="#585c9e" stroke="none" stroke-width="1"/>
<circle cx="477.90" cy="583.70" r="1.60" fill="#585c9e" stroke="none" stroke-width="1"/>
<circle cx="477.90" cy="546.67" r="1.60" fill="#585c9e" stroke="none" stroke-width="1"/>
<circle cx="477.90" cy="556.54" r="1.60" fill="#fff" stroke="#585c9e" stroke-width="0.7"/>
<circle cx="477.90" cy="567.99" r="1.60" fill="#fff" stroke="#585c9e" stroke-width="0.7"/>
<circle cx="477.90" cy="544.24" r="1.60" fill="#585c9e" stroke="none" stroke-width="1"/>
<circle cx="477.90" cy="594.05" r="1.60" fill="#585c9e" stroke="none" stroke-width="1"/>
<line x1="490.10" y1="567.26" x2="490.10" y2="577.37" stroke="#585c9e" stroke-width="1.5"/>
<line x1="490.10" y1="590.16" x2="490.10" y2="605.99" stroke="#585c9e" stroke-width="1.5"/>
<line x1="488.60" y1="567.26" x2="491.60" y2="567.26" stroke="#585c9e" stroke-width="1.5"/>
<line x1="488.60" y1="605.99" x2="491.60" y2="605.99" stroke="#585c9e" stroke-width="1.5"/>
<rect x="486.70" y="577.37" width="6.80" height="12.79" fill="none" stroke="#585c9e" stroke-width="1.5"/>
<line x1="486.70" y1="584.31" x2="493.50" y2="584.31" stroke="#585c9e" stroke-width="1.5"/>
<circle cx="490.10" cy="572.31" r="1.60" fill="#585c9e" stroke="none" stroke-width="1"/>
<circle cx="490.10" cy="598.07" r="1.60" fill="#585c9e" stroke="none" stroke-width="1"/>
<circle cx="490.10" cy="569.69" r="1.60" fill="#585c9e" stroke="none" stroke-width="1"/>
<circle cx="490.10" cy="580.84" r="1.60" fill="#fff" stroke="#585c9e" stroke-width="0.7"/>
<circle cx="490.10" cy="587.23" r="1.60" fill="#fff" stroke="#585c9e" stroke-width="0.7"/>
<circle cx="490.10" cy="567.26" r="1.60" fill="#585c9e" stroke="none" stroke-width="1"/>
<circle cx="490.10" cy="605.99" r="1.60" fill="#585c9e" stroke="none" stroke-width="1"/>
<line x1="442.10" y1="630.50" x2="442.10" y2="632.90" stroke="#5b5ea6" stroke-width="1.3"/>
<line x1="454.40" y1="630.50" x2="454.40" y2="632.90" stroke="#5b5ea6" stroke-width="1.3"/>
<line x1="466.10" y1="630.50" x2="466.10" y2="632.90" stroke="#5b5ea6" stroke-width="1.3"/>
<line x1="477.90" y1="630.50" x2="477.90" y2="632.90" stroke="#5b5ea6" stroke-width="1.3"/>
<line x1="490.10" y1="630.50" x2="490.10" y2="632.90" stroke="#5b5ea6" stroke-width="1.3"/>
<text x="444.50" y="637.20" font-size="7.2" fill="#5b5ea6" text-anchor="end" font-weight="bold" font-family='"Liberation Sans", sans-serif' transform="rotate(-45 444.50 637.20)">P0-P1</text>
<text x="456.80" y="637.20" font-size="7.2" fill="#5b5ea6" text-anchor="end" font-weight="bold" font-family='"Liberation Sans", sans-serif' transform="rotate(-45 456.80 637.20)">P3-P4</text>
<text x="468.50" y="637.20" font-size="7.2" fill="#5b5ea6" text-anchor="end" font-weight="bold" font-family='"Liberation Sans", sans-serif' transform="rotate(-45 468.50 637.20)">P6-P7</text>
<text x="480.30" y="637.20" font-size="7.2" fill="#5b5ea6" text-anchor="end" font-weight="bold" font-family='"Liberation Sans", sans-serif' transform="rotate(-45 480.30 637.20)">P9-P10</text>
<text x="492.50" y="637.20" font-size="7.2" fill="#5b5ea6" text-anchor="end" font-weight="bold" font-family='"Liberation Sans", sans-serif' transform="rotate(-45 492.50 637.20)">P11-12</text>
<line x1="236.00" y1="510.40" x2="247.30" y2="510.40" stroke="#222" stroke-width="1.2"/>
<line x1="236.00" y1="508.80" x2="236.00" y2="512.00" stroke="#222" stroke-width="1.2"/>
<line x1="247.30" y1="508.80" x2="247.30" y2="512.00" stroke="#222" stroke-width="1.2"/>
<text x="241.65" y="509.10" font-size="5.2" fill="#222" text-anchor="middle" font-weight="bold" font-family='"Liberation Sans", sans-serif'>*</text>
<line x1="248.80" y1="510.40" x2="259.50" y2="510.40" stroke="#222" stroke-width="1.2"/>
<line x1="248.80" y1="508.80" x2="248.80" y2="512.00" stroke="#222" stroke-width="1.2"/>
<line x1="259.50" y1="508.80" x2="259.50" y2="512.00" stroke="#222" stroke-width="1.2"/>
<text x="254.15" y="509.10" font-size="5.2" fill="#222" text-anchor="middle" font-weight="bold" font-family='"Liberation Sans", sans-serif'>n.s.</text>
<line x1="260.80" y1="513.50" x2="272.30" y2="513.50" stroke="#222" stroke-width="1.2"/>
<line x1="260.80" y1="511.90" x2="260.80" y2="515.10" stroke="#222" stroke-width="1.2"/>
<line x1="272.30" y1="511.90" x2="272.30" y2="515.10" stroke="#222" stroke-width="1.2"/>
<text x="266.55" y="512.20" font-size="5.2" fill="#222" text-anchor="middle" font-weight="bold" font-family='"Liberation Sans", sans-serif'>**</text>
<line x1="273.00" y1="517.30" x2="285.60" y2="517.30" stroke="#222" stroke-width="1.2"/>
<line x1="273.00" y1="515.70" x2="273.00" y2="518.90" stroke="#222" stroke-width="1.2"/>
<line x1="285.60" y1="515.70" x2="285.60" y2="518.90" stroke="#222" stroke-width="1.2"/>
<text x="279.30" y="516.00" font-size="5.2" fill="#222" text-anchor="middle" font-weight="bold" font-family='"Liberation Sans", sans-serif'>n.s.</text>
<line x1="260.80" y1="504.00" x2="285.60" y2="504.00" stroke="#222" stroke-width="1.2"/>
<line x1="260.80" y1="502.40" x2="260.80" y2="505.60" stroke="#222" stroke-width="1.2"/>
<line x1="285.60" y1="502.40" x2="285.60" y2="505.60" stroke="#222" stroke-width="1.2"/>
<text x="273.20" y="502.70" font-size="5.2" fill="#222" text-anchor="middle" font-weight="bold" font-family='"Liberation Sans", sans-serif'>***</text>
<line x1="248.80" y1="497.70" x2="285.60" y2="497.70" stroke="#222" stroke-width="1.2"/>
<line x1="248.80" y1="496.10" x2="248.80" y2="499.30" stroke="#222" stroke-width="1.2"/>
<line x1="285.60" y1="496.10" x2="285.60" y2="499.30" stroke="#222" stroke-width="1.2"/>
<text x="267.20" y="496.40" font-size="5.2" fill="#222" text-anchor="middle" font-weight="bold" font-family='"Liberation Sans", sans-serif'>**</text>
<line x1="305.00" y1="507.90" x2="316.40" y2="507.90" stroke="#222" stroke-width="1.2"/>
<line x1="305.00" y1="506.30" x2="305.00" y2="509.50" stroke="#222" stroke-width="1.2"/>
<line x1="316.40" y1="506.30" x2="316.40" y2="509.50" stroke="#222" stroke-width="1.2"/>
<text x="310.70" y="506.60" font-size="5.2" fill="#222" text-anchor="middle" font-weight="bold" font-family='"Liberation Sans", sans-serif'>**</text>
<line x1="317.70" y1="511.70" x2="329.20" y2="511.70" stroke="#222" stroke-width="1.2"/>
<line x1="317.70" y1="510.10" x2="317.70" y2="513.30" stroke="#222" stroke-width="1.2"/>
<line x1="329.20" y1="510.10" x2="329.20" y2="513.30" stroke="#222" stroke-width="1.2"/>
<text x="323.45" y="510.40" font-size="5.2" fill="#222" text-anchor="middle" font-weight="bold" font-family='"Liberation Sans", sans-serif'>n.s.</text>
<line x1="330.20" y1="513.70" x2="341.20" y2="513.70" stroke="#222" stroke-width="1.2"/>
<line x1="330.20" y1="512.10" x2="330.20" y2="515.30" stroke="#222" stroke-width="1.2"/>
<line x1="341.20" y1="512.10" x2="341.20" y2="515.30" stroke="#222" stroke-width="1.2"/>
<text x="335.70" y="512.40" font-size="5.2" fill="#222" text-anchor="middle" font-weight="bold" font-family='"Liberation Sans", sans-serif'>*</text>
<line x1="342.00" y1="517.30" x2="354.00" y2="517.30" stroke="#222" stroke-width="1.2"/>
<line x1="342.00" y1="515.70" x2="342.00" y2="518.90" stroke="#222" stroke-width="1.2"/>
<line x1="354.00" y1="515.70" x2="354.00" y2="518.90" stroke="#222" stroke-width="1.2"/>
<text x="348.00" y="516.00" font-size="5.2" fill="#222" text-anchor="middle" font-weight="bold" font-family='"Liberation Sans", sans-serif'>**</text>
<line x1="330.20" y1="503.50" x2="354.70" y2="503.50" stroke="#222" stroke-width="1.2"/>
<line x1="330.20" y1="501.90" x2="330.20" y2="505.10" stroke="#222" stroke-width="1.2"/>
<line x1="354.70" y1="501.90" x2="354.70" y2="505.10" stroke="#222" stroke-width="1.2"/>
<text x="342.45" y="502.20" font-size="5.2" fill="#222" text-anchor="middle" font-weight="bold" font-family='"Liberation Sans", sans-serif'>****</text>
<line x1="317.70" y1="497.70" x2="354.70" y2="497.70" stroke="#222" stroke-width="1.2"/>
<line x1="317.70" y1="496.10" x2="317.70" y2="499.30" stroke="#222" stroke-width="1.2"/>
<line x1="354.70" y1="496.10" x2="354.70" y2="499.30" stroke="#222" stroke-width="1.2"/>
<text x="336.20" y="496.40" font-size="5.2" fill="#222" text-anchor="middle" font-weight="bold" font-family='"Liberation Sans", sans-serif'>****</text>
<line x1="373.50" y1="507.30" x2="385.50" y2="507.30" stroke="#222" stroke-width="1.2"/>
<line x1="373.50" y1="505.70" x2="373.50" y2="508.90" stroke="#222" stroke-width="1.2"/>
<line x1="385.50" y1="505.70" x2="385.50" y2="508.90" stroke="#222" stroke-width="1.2"/>
<text x="379.50" y="506.00" font-size="5.2" fill="#222" text-anchor="middle" font-weight="bold" font-family='"Liberation Sans", sans-serif'>**</text>
<line x1="386.30" y1="510.40" x2="397.80" y2="510.40" stroke="#222" stroke-width="1.2"/>
<line x1="386.30" y1="508.80" x2="386.30" y2="512.00" stroke="#222" stroke-width="1.2"/>
<line x1="397.80" y1="508.80" x2="397.80" y2="512.00" stroke="#222" stroke-width="1.2"/>
<text x="392.05" y="509.10" font-size="5.2" fill="#222" text-anchor="middle" font-weight="bold" font-family='"Liberation Sans", sans-serif'>*</text>
<line x1="398.80" y1="513.00" x2="409.70" y2="513.00" stroke="#222" stroke-width="1.2"/>
<line x1="398.80" y1="511.40" x2="398.80" y2="514.60" stroke="#222" stroke-width="1.2"/>
<line x1="409.70" y1="511.40" x2="409.70" y2="514.60" stroke="#222" stroke-width="1.2"/>
<text x="404.25" y="511.70" font-size="5.2" fill="#222" text-anchor="middle" font-weight="bold" font-family='"Liberation Sans", sans-serif'>*</text>
<line x1="410.30" y1="516.30" x2="422.50" y2="516.30" stroke="#222" stroke-width="1.2"/>
<line x1="410.30" y1="514.70" x2="410.30" y2="517.90" stroke="#222" stroke-width="1.2"/>
<line x1="422.50" y1="514.70" x2="422.50" y2="517.90" stroke="#222" stroke-width="1.2"/>
<text x="416.40" y="515.00" font-size="5.2" fill="#222" text-anchor="middle" font-weight="bold" font-family='"Liberation Sans", sans-serif'>**</text>
<line x1="398.80" y1="503.30" x2="423.30" y2="503.30" stroke="#222" stroke-width="1.2"/>
<line x1="398.80" y1="501.70" x2="398.80" y2="504.90" stroke="#222" stroke-width="1.2"/>
<line x1="423.30" y1="501.70" x2="423.30" y2="504.90" stroke="#222" stroke-width="1.2"/>
<text x="411.05" y="502.00" font-size="5.2" fill="#222" text-anchor="middle" font-weight="bold" font-family='"Liberation Sans", sans-serif'>****</text>
<line x1="386.30" y1="497.70" x2="423.30" y2="497.70" stroke="#222" stroke-width="1.2"/>
<line x1="386.30" y1="496.10" x2="386.30" y2="499.30" stroke="#222" stroke-width="1.2"/>
<line x1="423.30" y1="496.10" x2="423.30" y2="499.30" stroke="#222" stroke-width="1.2"/>
<text x="404.80" y="496.40" font-size="5.2" fill="#222" text-anchor="middle" font-weight="bold" font-family='"Liberation Sans", sans-serif'>****</text>
<line x1="441.10" y1="507.90" x2="453.10" y2="507.90" stroke="#222" stroke-width="1.2"/>
<line x1="441.10" y1="506.30" x2="441.10" y2="509.50" stroke="#222" stroke-width="1.2"/>
<line x1="453.10" y1="506.30" x2="453.10" y2="509.50" stroke="#222" stroke-width="1.2"/>
<text x="447.10" y="506.60" font-size="5.2" fill="#222" text-anchor="middle" font-weight="bold" font-family='"Liberation Sans", sans-serif'>**</text>
<line x1="454.40" y1="511.20" x2="465.40" y2="511.20" stroke="#222" stroke-width="1.2"/>
<line x1="454.40" y1="509.60" x2="454.40" y2="512.80" stroke="#222" stroke-width="1.2"/>
<line x1="465.40" y1="509.60" x2="465.40" y2="512.80" stroke="#222" stroke-width="1.2"/>
<text x="459.90" y="509.90" font-size="5.2" fill="#222" text-anchor="middle" font-weight="bold" font-family='"Liberation Sans", sans-serif'>n.s.</text>
<line x1="466.60" y1="513.50" x2="477.30" y2="513.50" stroke="#222" stroke-width="1.2"/>
<line x1="466.60" y1="511.90" x2="466.60" y2="515.10" stroke="#222" stroke-width="1.2"/>
<line x1="477.30" y1="511.90" x2="477.30" y2="515.10" stroke="#222" stroke-width="1.2"/>
<text x="471.95" y="512.20" font-size="5.2" fill="#222" text-anchor="middle" font-weight="bold" font-family='"Liberation Sans", sans-serif'>*</text>
<line x1="478.10" y1="516.80" x2="490.10" y2="516.80" stroke="#222" stroke-width="1.2"/>
<line x1="478.10" y1="515.20" x2="478.10" y2="518.40" stroke="#222" stroke-width="1.2"/>
<line x1="490.10" y1="515.20" x2="490.10" y2="518.40" stroke="#222" stroke-width="1.2"/>
<text x="484.10" y="515.50" font-size="5.2" fill="#222" text-anchor="middle" font-weight="bold" font-family='"Liberation Sans", sans-serif'>**</text>
<line x1="465.90" y1="502.80" x2="490.60" y2="502.80" stroke="#222" stroke-width="1.2"/>
<line x1="465.90" y1="501.20" x2="465.90" y2="504.40" stroke="#222" stroke-width="1.2"/>
<line x1="490.60" y1="501.20" x2="490.60" y2="504.40" stroke="#222" stroke-width="1.2"/>
<text x="478.25" y="501.50" font-size="5.2" fill="#222" text-anchor="middle" font-weight="bold" font-family='"Liberation Sans", sans-serif'>****</text>
<line x1="453.10" y1="497.70" x2="490.60" y2="497.70" stroke="#222" stroke-width="1.2"/>
<line x1="453.10" y1="496.10" x2="453.10" y2="499.30" stroke="#222" stroke-width="1.2"/>
<line x1="490.60" y1="496.10" x2="490.60" y2="499.30" stroke="#222" stroke-width="1.2"/>
<text x="471.85" y="496.40" font-size="5.2" fill="#222" text-anchor="middle" font-weight="bold" font-family='"Liberation Sans", sans-serif'>****</text>
<rect x="502.40" y="516.90" width="9.00" height="4.00" fill="none" stroke="#4c96ec" stroke-width="1.4"/>
<text x="518.40" y="517.30" font-size="7.8" fill="#7073b0" text-anchor="start" font-weight="normal" font-family='"Liberation Sans", sans-serif' textLength="31.00" lengthAdjust="spacingAndGlyphs">Low-freq</text>
<text x="518.40" y="525.70" font-size="7.8" fill="#7073b0" text-anchor="start" font-weight="normal" font-family='"Liberation Sans", sans-serif' textLength="21.30" lengthAdjust="spacingAndGlyphs">region</text>
<rect x="502.40" y="539.50" width="9.00" height="4.00" fill="none" stroke="#9fcbf3" stroke-width="1.4"/>
<text x="518.40" y="539.90" font-size="7.8" fill="#7073b0" text-anchor="start" font-weight="normal" font-family='"Liberation Sans", sans-serif' textLength="28.70" lengthAdjust="spacingAndGlyphs">Mid-freq</text>
<text x="518.40" y="547.60" font-size="7.8" fill="#7073b0" text-anchor="start" font-weight="normal" font-family='"Liberation Sans", sans-serif' textLength="21.30" lengthAdjust="spacingAndGlyphs">region</text>
<rect x="502.40" y="561.60" width="9.00" height="4.00" fill="none" stroke="#f47a7a" stroke-width="1.4"/>
<text x="518.40" y="562.50" font-size="7.8" fill="#7073b0" text-anchor="start" font-weight="normal" font-family='"Liberation Sans", sans-serif' textLength="32.20" lengthAdjust="spacingAndGlyphs">High-freq</text>
<text x="518.40" y="570.20" font-size="7.8" fill="#7073b0" text-anchor="start" font-weight="normal" font-family='"Liberation Sans", sans-serif' textLength="21.30" lengthAdjust="spacingAndGlyphs">region</text>
<rect x="502.40" y="579.50" width="9.00" height="4.00" fill="none" stroke="#585c9e" stroke-width="1.4"/>
<text x="518.40" y="584.00" font-size="7.8" fill="#7073b0" text-anchor="start" font-weight="normal" font-family='"Liberation Sans", sans-serif' textLength="33.20" lengthAdjust="spacingAndGlyphs">Averaged</text>
</svg></body></html>
